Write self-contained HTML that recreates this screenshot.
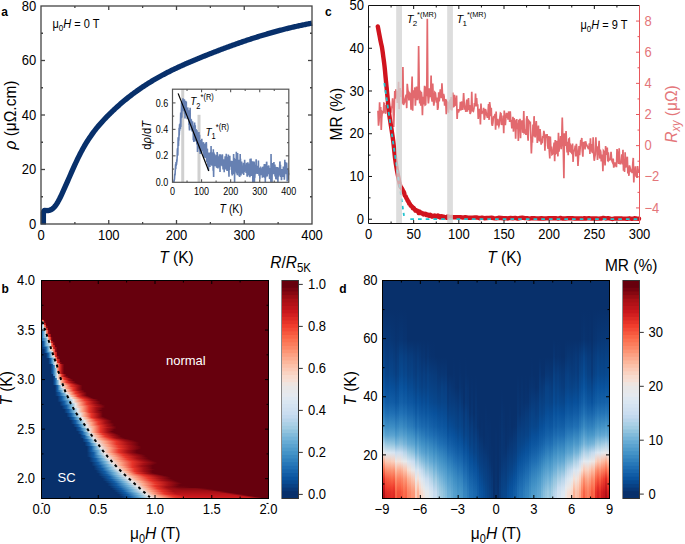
<!DOCTYPE html>
<html><head><meta charset="utf-8"><style>
html,body{margin:0;padding:0;background:#fff;}
svg{display:block;}
text{font-family:"Liberation Sans", sans-serif;}
</style></head><body>
<svg width="685" height="544" viewBox="0 0 685 544">
<rect width="685" height="544" fill="#fff"/>
<g>
<path d="M43.4,224.6 L43.4,212.8 L43.7,211.3 L44.5,210.5 L44.5,210.32 L45.39,210.44 L46.29,210.52 L47.18,210.55 L48.08,210.51 L48.97,210.39 L49.87,210.17 L50.76,209.83 L51.66,209.37 L52.55,208.76 L53.45,207.99 L54.34,207.05 L55.24,205.96 L56.13,204.71 L57.03,203.33 L57.92,201.82 L58.81,200.21 L59.71,198.5 L60.6,196.71 L61.5,194.84 L62.39,192.92 L63.29,190.95 L64.18,188.95 L65.08,186.93 L65.97,184.9 L66.87,182.86 L67.76,180.82 L68.66,178.77 L69.55,176.73 L70.44,174.69 L71.34,172.66 L72.23,170.64 L73.13,168.64 L74.02,166.65 L74.92,164.69 L75.81,162.75 L76.71,160.85 L77.6,158.97 L78.5,157.13 L79.39,155.33 L80.29,153.57 L81.18,151.86 L82.08,150.19 L82.97,148.56 L83.86,146.97 L84.76,145.42 L85.65,143.92 L86.55,142.45 L87.44,141.01 L88.34,139.62 L89.23,138.25 L90.13,136.92 L91.02,135.63 L91.92,134.36 L92.81,133.12 L93.71,131.91 L94.6,130.73 L95.49,129.58 L96.39,128.45 L97.28,127.35 L98.18,126.27 L99.07,125.21 L99.97,124.17 L100.86,123.15 L101.76,122.15 L102.65,121.16 L103.55,120.2 L104.44,119.24 L105.34,118.3 L106.23,117.38 L107.13,116.46 L108.02,115.56 L108.91,114.67 L109.81,113.78 L110.7,112.91 L111.6,112.04 L112.49,111.18 L113.39,110.33 L114.28,109.49 L115.18,108.66 L116.07,107.84 L116.97,107.02 L117.86,106.22 L118.76,105.42 L119.65,104.63 L120.55,103.85 L121.44,103.08 L122.33,102.32 L123.23,101.56 L124.12,100.81 L125.02,100.07 L125.91,99.34 L126.81,98.61 L127.7,97.9 L128.6,97.19 L129.49,96.49 L130.39,95.79 L131.28,95.1 L132.18,94.42 L133.07,93.75 L133.96,93.08 L134.86,92.43 L135.75,91.77 L136.65,91.13 L137.54,90.49 L138.44,89.86 L139.33,89.23 L140.23,88.61 L141.12,88 L142.02,87.4 L142.91,86.8 L143.81,86.2 L144.7,85.61 L145.6,85.03 L146.49,84.46 L147.38,83.89 L148.28,83.32 L149.17,82.77 L150.07,82.21 L150.96,81.67 L151.86,81.13 L152.75,80.59 L153.65,80.06 L154.54,79.53 L155.44,79.01 L156.33,78.5 L157.23,77.99 L158.12,77.48 L159.02,76.98 L159.91,76.48 L160.8,75.99 L161.7,75.51 L162.59,75.02 L163.49,74.55 L164.38,74.07 L165.28,73.6 L166.17,73.14 L167.07,72.68 L167.96,72.22 L168.86,71.77 L169.75,71.32 L170.65,70.87 L171.54,70.43 L172.43,69.99 L173.33,69.56 L174.22,69.13 L175.12,68.7 L176.01,68.27 L176.91,67.85 L177.8,67.43 L178.7,67.02 L179.59,66.61 L180.49,66.2 L181.38,65.79 L182.28,65.39 L183.17,64.99 L184.07,64.59 L184.96,64.19 L185.85,63.8 L186.75,63.41 L187.64,63.02 L188.54,62.63 L189.43,62.24 L190.33,61.86 L191.22,61.48 L192.12,61.1 L193.01,60.72 L193.91,60.35 L194.8,59.97 L195.7,59.6 L196.59,59.23 L197.48,58.86 L198.38,58.49 L199.27,58.12 L200.17,57.76 L201.06,57.39 L201.96,57.03 L202.85,56.66 L203.75,56.3 L204.64,55.94 L205.54,55.58 L206.43,55.22 L207.33,54.86 L208.22,54.51 L209.12,54.15 L210.01,53.8 L210.9,53.45 L211.8,53.09 L212.69,52.74 L213.59,52.39 L214.48,52.04 L215.38,51.7 L216.27,51.35 L217.17,51.01 L218.06,50.66 L218.96,50.32 L219.85,49.98 L220.75,49.64 L221.64,49.3 L222.54,48.96 L223.43,48.63 L224.32,48.29 L225.22,47.96 L226.11,47.63 L227.01,47.29 L227.9,46.96 L228.8,46.64 L229.69,46.31 L230.59,45.98 L231.48,45.66 L232.38,45.34 L233.27,45.02 L234.17,44.69 L235.06,44.38 L235.95,44.06 L236.85,43.74 L237.74,43.43 L238.64,43.12 L239.53,42.8 L240.43,42.49 L241.32,42.18 L242.22,41.88 L243.11,41.57 L244.01,41.27 L244.9,40.96 L245.8,40.66 L246.69,40.36 L247.59,40.06 L248.48,39.77 L249.37,39.47 L250.27,39.18 L251.16,38.89 L252.06,38.6 L252.95,38.31 L253.85,38.02 L254.74,37.73 L255.64,37.45 L256.53,37.17 L257.43,36.89 L258.32,36.61 L259.22,36.33 L260.11,36.05 L261.01,35.78 L261.9,35.51 L262.79,35.23 L263.69,34.96 L264.58,34.7 L265.48,34.43 L266.37,34.17 L267.27,33.9 L268.16,33.64 L269.06,33.38 L269.95,33.13 L270.85,32.87 L271.74,32.62 L272.64,32.37 L273.53,32.12 L274.42,31.87 L275.32,31.62 L276.21,31.38 L277.11,31.13 L278,30.89 L278.9,30.65 L279.79,30.41 L280.69,30.18 L281.58,29.94 L282.48,29.71 L283.37,29.48 L284.27,29.25 L285.16,29.03 L286.06,28.8 L286.95,28.58 L287.84,28.36 L288.74,28.14 L289.63,27.93 L290.53,27.71 L291.42,27.5 L292.32,27.29 L293.21,27.08 L294.11,26.87 L295,26.67 L295.9,26.46 L296.79,26.26 L297.69,26.07 L298.58,25.87 L299.47,25.67 L300.37,25.48 L301.26,25.29 L302.16,25.1 L303.05,24.92 L303.95,24.73 L304.84,24.55 L305.74,24.37 L306.63,24.19 L307.53,24.02 L308.42,23.84 L309.32,23.67 L310.21,23.5 L311.11,23.34 L312,23.17" fill="none" stroke="#08306b" stroke-width="5.3" stroke-linejoin="round" stroke-linecap="butt" />
</g>
<rect x="41.0" y="6.0" width="271.0" height="218.0" fill="none" stroke="#444" stroke-width="1.3"/>
<line x1="108.75" y1="224" x2="108.75" y2="220" stroke="#444" stroke-width="1.3" />
<line x1="108.75" y1="6" x2="108.75" y2="10" stroke="#444" stroke-width="1.3" />
<line x1="176.5" y1="224" x2="176.5" y2="220" stroke="#444" stroke-width="1.3" />
<line x1="176.5" y1="6" x2="176.5" y2="10" stroke="#444" stroke-width="1.3" />
<line x1="244.25" y1="224" x2="244.25" y2="220" stroke="#444" stroke-width="1.3" />
<line x1="244.25" y1="6" x2="244.25" y2="10" stroke="#444" stroke-width="1.3" />
<line x1="74.88" y1="224" x2="74.88" y2="222" stroke="#444" stroke-width="1.3" />
<line x1="74.88" y1="6" x2="74.88" y2="8" stroke="#444" stroke-width="1.3" />
<line x1="142.62" y1="224" x2="142.62" y2="222" stroke="#444" stroke-width="1.3" />
<line x1="142.62" y1="6" x2="142.62" y2="8" stroke="#444" stroke-width="1.3" />
<line x1="210.38" y1="224" x2="210.38" y2="222" stroke="#444" stroke-width="1.3" />
<line x1="210.38" y1="6" x2="210.38" y2="8" stroke="#444" stroke-width="1.3" />
<line x1="278.12" y1="224" x2="278.12" y2="222" stroke="#444" stroke-width="1.3" />
<line x1="278.12" y1="6" x2="278.12" y2="8" stroke="#444" stroke-width="1.3" />
<line x1="41" y1="169.5" x2="45" y2="169.5" stroke="#444" stroke-width="1.3" />
<line x1="312" y1="169.5" x2="308" y2="169.5" stroke="#444" stroke-width="1.3" />
<line x1="41" y1="115" x2="45" y2="115" stroke="#444" stroke-width="1.3" />
<line x1="312" y1="115" x2="308" y2="115" stroke="#444" stroke-width="1.3" />
<line x1="41" y1="60.5" x2="45" y2="60.5" stroke="#444" stroke-width="1.3" />
<line x1="312" y1="60.5" x2="308" y2="60.5" stroke="#444" stroke-width="1.3" />
<line x1="41" y1="196.75" x2="43" y2="196.75" stroke="#444" stroke-width="1.3" />
<line x1="312" y1="196.75" x2="310" y2="196.75" stroke="#444" stroke-width="1.3" />
<line x1="41" y1="142.25" x2="43" y2="142.25" stroke="#444" stroke-width="1.3" />
<line x1="312" y1="142.25" x2="310" y2="142.25" stroke="#444" stroke-width="1.3" />
<line x1="41" y1="87.75" x2="43" y2="87.75" stroke="#444" stroke-width="1.3" />
<line x1="312" y1="87.75" x2="310" y2="87.75" stroke="#444" stroke-width="1.3" />
<line x1="41" y1="33.25" x2="43" y2="33.25" stroke="#444" stroke-width="1.3" />
<line x1="312" y1="33.25" x2="310" y2="33.25" stroke="#444" stroke-width="1.3" />
<text transform="translate(41,239.7) scale(1,1.08)" font-size="13" text-anchor="middle" >0</text>
<text transform="translate(108.75,239.7) scale(1,1.08)" font-size="13" text-anchor="middle" >100</text>
<text transform="translate(176.5,239.7) scale(1,1.08)" font-size="13" text-anchor="middle" >200</text>
<text transform="translate(244.25,239.7) scale(1,1.08)" font-size="13" text-anchor="middle" >300</text>
<text transform="translate(312,239.7) scale(1,1.08)" font-size="13" text-anchor="middle" >400</text>
<text transform="translate(36.3,228.6) scale(1,1.08)" font-size="13" text-anchor="end" >0</text>
<text transform="translate(36.3,174.1) scale(1,1.08)" font-size="13" text-anchor="end" >20</text>
<text transform="translate(36.3,119.6) scale(1,1.08)" font-size="13" text-anchor="end" >40</text>
<text transform="translate(36.3,65.1) scale(1,1.08)" font-size="13" text-anchor="end" >60</text>
<text transform="translate(36.3,10.6) scale(1,1.08)" font-size="13" text-anchor="end" >80</text>
<text transform="translate(1.3,15.8) scale(1,1.08)" font-size="12" text-anchor="start" font-weight="bold">a</text>
<text transform="translate(176.5,262.6) scale(1,1.12)" font-size="15.5" text-anchor="middle" ><tspan font-style="italic">T</tspan> (K)</text>
<text transform="translate(15.8,115) rotate(-90) scale(1,1.12)" font-size="15.5" text-anchor="middle"><tspan font-style="italic">ρ</tspan> (μΩ.cm)</text>
<text transform="translate(52.5,28.1) scale(1,1.08)" font-size="11" text-anchor="start" >μ<tspan font-size="8" dy="3">0</tspan><tspan dy="-3" font-style="italic">H</tspan> = 0 T</text>
<rect x="181.22" y="89.2" width="3" height="93.1" fill="#d0d0d0"/>
<rect x="197.5" y="114.81" width="3" height="67.49" fill="#d0d0d0"/>
<path d="M173.66,182.3 L173.82,180.95 L173.98,180.88 L174.14,180.88 L174.3,179.33 L174.46,179.22 L174.62,176.75 L174.78,173.85 L174.94,175.39 L175.1,174.14 L175.26,170.58 L175.42,169.25 L175.58,164.38 L175.74,168.99 L175.9,165.44 L176.06,162.12 L176.22,165.8 L176.38,162.02 L176.54,164.59 L176.7,161.37 L176.86,161.58 L177.02,160.71 L177.18,156.83 L177.34,150.06 L177.5,148.79 L177.66,148.39 L177.82,155.64 L177.98,146.53 L178.14,137.37 L178.3,140.65 L178.46,146.07 L178.62,139.96 L178.78,140.66 L178.94,138.35 L179.1,127.8 L179.26,135.42 L179.42,130.3 L179.58,124.25 L179.74,130.67 L179.9,126.87 L180.06,124.39 L180.22,123.35 L180.38,129.03 L180.54,120.7 L180.7,112.44 L180.86,126.97 L181.02,112.56 L181.18,115.31 L181.34,118.19 L181.5,102.38 L181.66,107.89 L181.82,117.43 L181.98,109.1 L182.14,105.77 L182.3,109.49 L182.46,104.09 L182.62,110.39 L182.78,103.08 L182.94,98.2 L183.1,109.55 L183.26,104.06 L183.42,107.29 L183.58,103.56 L183.74,111.34 L183.9,108.2 L184.06,106.34 L184.22,100.39 L184.38,99.29 L184.54,113.72 L184.7,111.01 L184.86,103.08 L185.02,118.48 L185.18,110.05 L185.34,108.27 L185.5,100.84 L185.66,104.45 L185.82,110.7 L185.98,111.37 L186.14,111.13 L186.3,101.43 L186.46,113.02 L186.62,112.75 L186.78,109.43 L186.94,112.58 L187.1,113.45 L187.26,119.13 L187.42,113.26 L187.58,116.17 L187.74,107.4 L187.9,110.77 L188.06,115.08 L188.22,111.56 L188.37,117.76 L188.53,110.23 L188.69,116.7 L188.85,113.76 L189.01,124.9 L189.17,115.97 L189.33,128.02 L189.49,130.43 L189.65,120.96 L189.81,124.79 L189.97,119.13 L190.13,107.66 L190.29,125.67 L190.45,118.55 L190.61,120.59 L190.77,119.37 L190.93,123.63 L191.09,124.22 L191.25,119.45 L191.41,120.92 L191.57,130.23 L191.73,125.19 L191.89,124.96 L192.05,131.6 L192.21,124.48 L192.37,131.26 L192.53,121.19 L192.69,126.04 L192.85,127.02 L193.01,131.31 L193.17,129 L193.33,140.13 L193.49,133.26 L193.65,127.42 L193.81,142.05 L193.97,125.44 L194.13,140.65 L194.29,126.74 L194.45,134.07 L194.61,122.57 L194.77,131.49 L194.93,141.41 L195.09,125.88 L195.25,125.17 L195.41,134.18 L195.57,140.36 L195.73,135.5 L195.89,140.52 L196.05,129.01 L196.21,138.75 L196.37,139.5 L196.53,140.88 L196.69,140.27 L196.85,144.35 L197.01,130.2 L197.17,138.62 L197.33,132.57 L197.49,152.03 L197.65,142.76 L197.81,144.51 L197.97,142.69 L198.13,139.79 L198.29,142.33 L198.45,142.25 L198.61,148.77 L198.77,145.85 L198.93,132.13 L199.09,145.77 L199.25,148.31 L199.41,140.69 L199.57,134.83 L199.73,151.43 L199.89,144.56 L200.05,147.23 L200.21,153.93 L200.37,139.91 L200.53,144.49 L200.69,144.2 L200.85,149.15 L201.01,153.79 L201.17,148.43 L201.33,146.41 L201.49,152.18 L201.65,153.04 L201.81,138.71 L201.97,149.48 L202.13,145.17 L202.29,147.27 L202.45,150.99 L202.61,150.47 L202.77,144.24 L202.93,149.79 L203.09,149.18 L203.25,148.44 L203.41,142.15 L203.57,145.21 L203.73,154.75 L203.89,152.74 L204.05,157.61 L204.21,144.69 L204.37,144.85 L204.53,151.34 L204.69,147.74 L204.85,146.65 L205.01,146.58 L205.17,146.23 L205.33,154.12 L205.49,143.21 L205.65,158.04 L205.81,147.18 L205.97,149.4 L206.13,143.83 L206.29,141.96 L206.45,144.32 L206.6,159.15 L206.76,162.33 L206.92,148.51 L207.08,158.87 L207.24,153.43 L207.4,148.85 L207.56,162.8 L207.72,165.53 L207.88,152.53 L208.04,153.87 L208.2,155.63 L208.36,154.21 L208.52,170.6 L208.68,163.08 L208.84,155.79 L209,160.38 L209.16,164.23 L209.32,152.54 L209.48,162.27 L209.64,153.39 L209.8,161.21 L209.96,167.03 L210.12,161.56 L210.28,155.16 L210.44,155.31 L210.6,160.81 L210.76,154.73 L210.92,154.98 L211.08,145.93 L211.24,164.73 L211.4,152.45 L211.56,157.92 L211.72,157.66 L211.88,165.62 L212.04,160.39 L212.2,154 L212.36,158.63 L212.52,157.9 L212.68,160.06 L212.84,152.39 L213,158.91 L213.16,170.82 L213.32,149.28 L213.48,169.86 L213.64,176.91 L213.8,162.4 L213.96,152.52 L214.12,159.57 L214.28,166.19 L214.44,165.01 L214.6,153.97 L214.76,159.26 L214.92,159.91 L215.08,160.52 L215.24,160.1 L215.4,156.08 L215.56,157.5 L215.72,159.37 L215.88,166.14 L216.04,157.93 L216.2,164.36 L216.36,154.98 L216.52,167.61 L216.68,161.66 L216.84,161.04 L217,168.08 L217.16,152.03 L217.32,153.49 L217.48,163.73 L217.64,157.27 L217.8,159.42 L217.96,168.5 L218.12,160.24 L218.28,161.95 L218.44,161.26 L218.6,167.42 L218.76,163.25 L218.92,162.84 L219.08,155.75 L219.24,160.29 L219.4,162.14 L219.56,154.17 L219.72,165.16 L219.88,164.36 L220.04,171.89 L220.2,154.25 L220.36,157.48 L220.52,157.8 L220.68,159.17 L220.84,162.16 L221,161.68 L221.16,164.19 L221.32,164.01 L221.48,162.73 L221.64,155.18 L221.8,163.02 L221.96,163.52 L222.12,166.31 L222.28,155.04 L222.44,155.07 L222.6,160.85 L222.76,163.21 L222.92,165.44 L223.08,169.49 L223.24,164.12 L223.4,159.25 L223.56,165.88 L223.72,165.04 L223.88,165.04 L224.04,163.35 L224.2,172.24 L224.36,165.2 L224.52,168.45 L224.68,159.43 L224.83,168.07 L224.99,161.09 L225.15,156.19 L225.31,165.78 L225.47,167.3 L225.63,163.21 L225.79,164.25 L225.95,169.42 L226.11,161.9 L226.27,153.86 L226.43,165.69 L226.59,165.43 L226.75,169.83 L226.91,162.78 L227.07,170.93 L227.23,170.23 L227.39,157.89 L227.55,169.24 L227.71,158.98 L227.87,156.71 L228.03,163.3 L228.19,161.8 L228.35,154.59 L228.51,165.74 L228.67,167.82 L228.83,171.78 L228.99,176.62 L229.15,157.19 L229.31,159.91 L229.47,169.77 L229.63,169.35 L229.79,155.66 L229.95,163.47 L230.11,166.07 L230.27,163.93 L230.43,163.54 L230.59,166.64 L230.75,165.34 L230.91,164.09 L231.07,165.62 L231.23,162.62 L231.39,160.81 L231.55,162.22 L231.71,165.01 L231.87,174.02 L232.03,163.36 L232.19,175.41 L232.35,172.67 L232.51,161.05 L232.67,161.84 L232.83,166.28 L232.99,174.33 L233.15,167.47 L233.31,169.08 L233.47,162.34 L233.63,154.04 L233.79,164.56 L233.95,169.71 L234.11,171.75 L234.27,166.05 L234.43,166.7 L234.59,182.3 L234.75,165.25 L234.91,171.78 L235.07,160.2 L235.23,160.48 L235.39,160.4 L235.55,168.42 L235.71,163.38 L235.87,166.73 L236.03,168.07 L236.19,167.85 L236.35,151.75 L236.51,173.56 L236.67,162.13 L236.83,167.2 L236.99,165.15 L237.15,161.16 L237.31,175.18 L237.47,170.35 L237.63,152.94 L237.79,164.39 L237.95,168.35 L238.11,161.2 L238.27,165.41 L238.43,172.71 L238.59,171.29 L238.75,162.46 L238.91,164.23 L239.07,176.32 L239.23,159.78 L239.39,163.64 L239.55,159.86 L239.71,176.89 L239.87,168.28 L240.03,172.54 L240.19,153.9 L240.35,167.75 L240.51,158.8 L240.67,170.21 L240.83,166.11 L240.99,175.48 L241.15,168.95 L241.31,162.03 L241.47,173.43 L241.63,161.63 L241.79,165.39 L241.95,172.43 L242.11,169.69 L242.27,169.49 L242.43,167.42 L242.59,169.91 L242.75,171.41 L242.91,168.77 L243.07,172.45 L243.22,173.8 L243.38,167.52 L243.54,162.82 L243.7,175.07 L243.86,167.31 L244.02,170.64 L244.18,172.32 L244.34,163.06 L244.5,170.02 L244.66,159.83 L244.82,171.38 L244.98,165.49 L245.14,168.62 L245.3,171.3 L245.46,164.53 L245.62,168.3 L245.78,164.49 L245.94,167.79 L246.1,173.06 L246.26,168.1 L246.42,167.34 L246.58,162.78 L246.74,172.22 L246.9,167.86 L247.06,176.37 L247.22,164.4 L247.38,173.17 L247.54,176.84 L247.7,168.04 L247.86,162.18 L248.02,175.47 L248.18,173.28 L248.34,171.56 L248.5,173.52 L248.66,165.94 L248.82,171.93 L248.98,171.52 L249.14,163.62 L249.3,171.72 L249.46,165.76 L249.62,172.84 L249.78,175.77 L249.94,177.22 L250.1,158.64 L250.26,169.63 L250.42,166.81 L250.58,168.21 L250.74,167.27 L250.9,167.84 L251.06,158.52 L251.22,173.34 L251.38,175.96 L251.54,173.24 L251.7,174.87 L251.86,164.45 L252.02,164.1 L252.18,173.05 L252.34,175.22 L252.5,170.04 L252.66,161.31 L252.82,182.3 L252.98,165.68 L253.14,173.72 L253.3,163.14 L253.46,173.76 L253.62,169 L253.78,175.94 L253.94,173.31 L254.1,161.51 L254.26,164.35 L254.42,182.26 L254.58,172.84 L254.74,177.97 L254.9,175.9 L255.06,168.69 L255.22,168.98 L255.38,169.04 L255.54,174.19 L255.7,165.22 L255.86,168.82 L256.02,162.21 L256.18,159.35 L256.34,169.36 L256.5,170.75 L256.66,169.04 L256.82,171.76 L256.98,172.45 L257.14,169.06 L257.3,173.98 L257.46,165.78 L257.62,169.33 L257.78,167.59 L257.94,169.76 L258.1,172.49 L258.26,173.6 L258.42,160.56 L258.58,171.65 L258.74,167.78 L258.9,168.98 L259.06,175.74 L259.22,168.66 L259.38,175.67 L259.54,172.08 L259.7,170.5 L259.86,179.36 L260.02,168.63 L260.18,168.36 L260.34,169.92 L260.5,171.27 L260.66,171.05 L260.82,174.07 L260.98,170.59 L261.14,172.02 L261.3,168.86 L261.45,175.3 L261.61,168.2 L261.77,168.69 L261.93,170.13 L262.09,171.63 L262.25,166.75 L262.41,177.74 L262.57,167.27 L262.73,168.37 L262.89,168.2 L263.05,167.74 L263.21,172.89 L263.37,170.97 L263.53,166.57 L263.69,167.62 L263.85,168.75 L264.01,177.27 L264.17,167.18 L264.33,164.09 L264.49,164.91 L264.65,168.77 L264.81,177.62 L264.97,165.33 L265.13,170.73 L265.29,182.3 L265.45,168.21 L265.61,177.44 L265.77,176.5 L265.93,173.27 L266.09,163.92 L266.25,172.03 L266.41,168.9 L266.57,161.67 L266.73,162.46 L266.89,170.83 L267.05,171.54 L267.21,176.57 L267.37,173.82 L267.53,168.35 L267.69,168.52 L267.85,169.95 L268.01,165.64 L268.17,174.34 L268.33,170.22 L268.49,167.03 L268.65,167.78 L268.81,165.42 L268.97,168.75 L269.13,172.24 L269.29,168.98 L269.45,175.69 L269.61,178.84 L269.77,168 L269.93,171.14 L270.09,169.39 L270.25,179.23 L270.41,172.74 L270.57,173.92 L270.73,175.24 L270.89,182.06 L271.05,154.06 L271.21,166.72 L271.37,169.27 L271.53,174.09 L271.69,171.26 L271.85,167.52 L272.01,182.3 L272.17,171.88 L272.33,168.65 L272.49,168.01 L272.65,163.07 L272.81,165.86 L272.97,169.9 L273.13,169.98 L273.29,167.64 L273.45,174.13 L273.61,171.73 L273.77,167.15 L273.93,162.07 L274.09,172.39 L274.25,171.88 L274.41,170.71 L274.57,165.18 L274.73,171.88 L274.89,164.62 L275.05,176.49 L275.21,172.73 L275.37,172.81 L275.53,168.06 L275.69,166.84 L275.85,179.26 L276.01,176.41 L276.17,170.36 L276.33,175.22 L276.49,179.43 L276.65,167.05 L276.81,169.72 L276.97,169.75 L277.13,174.47 L277.29,167.21 L277.45,173.39 L277.61,166.95 L277.77,176.7 L277.93,182.13 L278.09,171.35 L278.25,175.77 L278.41,169.1 L278.57,171.1 L278.73,176.81 L278.89,171.98 L279.05,174.02 L279.21,167.89 L279.37,175.36 L279.53,174.42 L279.68,166.44 L279.84,161.47 L280,162.62 L280.16,171.95 L280.32,171.19 L280.48,164.84 L280.64,172.83 L280.8,176.92 L280.96,171.64 L281.12,170.02 L281.28,176.18 L281.44,180.1 L281.6,179.08 L281.76,168.95 L281.92,175.79 L282.08,172.82 L282.24,171.1 L282.4,169.14 L282.56,173.72 L282.72,169.7 L282.88,176.36 L283.04,173.81 L283.2,176.98 L283.36,166.62 L283.52,172.18 L283.68,175.58 L283.84,173.72 L284,173.08 L284.16,168.65 L284.32,179.65 L284.48,176.96 L284.64,173.79 L284.8,159.83 L284.96,167.38 L285.12,172.48 L285.28,168.53 L285.44,162.08 L285.6,173.03 L285.76,173.66 L285.92,166.1 L286.08,169.52 L286.24,168.66 L286.4,174.29 L286.56,162.66 L286.72,163.68 L286.88,169.13 L287.04,168.56 L287.2,181.49 L287.36,168.76 L287.52,172.72 L287.68,169.71 L287.84,168.52 L288,173.39 L288.16,179.81 L288.32,169.99 L288.48,175.27 L288.64,173.3" fill="none" stroke="#6680b2" stroke-width="1.6" stroke-linejoin="miter" stroke-linecap="butt" />
<line x1="178.1" y1="93.4" x2="208.8" y2="171" stroke="#000" stroke-width="1.2" />
<rect x="172.5" y="89.2" width="116.3" height="93.1" fill="none" stroke="#555" stroke-width="1.2"/>
<line x1="201.57" y1="182.3" x2="201.57" y2="179.3" stroke="#555" stroke-width="1.1" />
<line x1="201.57" y1="89.2" x2="201.57" y2="92.2" stroke="#555" stroke-width="1.1" />
<line x1="230.65" y1="182.3" x2="230.65" y2="179.3" stroke="#555" stroke-width="1.1" />
<line x1="230.65" y1="89.2" x2="230.65" y2="92.2" stroke="#555" stroke-width="1.1" />
<line x1="259.73" y1="182.3" x2="259.73" y2="179.3" stroke="#555" stroke-width="1.1" />
<line x1="259.73" y1="89.2" x2="259.73" y2="92.2" stroke="#555" stroke-width="1.1" />
<line x1="187.04" y1="182.3" x2="187.04" y2="180.6" stroke="#555" stroke-width="1.1" />
<line x1="187.04" y1="89.2" x2="187.04" y2="90.9" stroke="#555" stroke-width="1.1" />
<line x1="216.11" y1="182.3" x2="216.11" y2="180.6" stroke="#555" stroke-width="1.1" />
<line x1="216.11" y1="89.2" x2="216.11" y2="90.9" stroke="#555" stroke-width="1.1" />
<line x1="245.19" y1="182.3" x2="245.19" y2="180.6" stroke="#555" stroke-width="1.1" />
<line x1="245.19" y1="89.2" x2="245.19" y2="90.9" stroke="#555" stroke-width="1.1" />
<line x1="274.26" y1="182.3" x2="274.26" y2="180.6" stroke="#555" stroke-width="1.1" />
<line x1="274.26" y1="89.2" x2="274.26" y2="90.9" stroke="#555" stroke-width="1.1" />
<line x1="172.5" y1="155.83" x2="175.5" y2="155.83" stroke="#555" stroke-width="1.1" />
<line x1="288.8" y1="155.83" x2="285.8" y2="155.83" stroke="#555" stroke-width="1.1" />
<line x1="172.5" y1="129.37" x2="175.5" y2="129.37" stroke="#555" stroke-width="1.1" />
<line x1="288.8" y1="129.37" x2="285.8" y2="129.37" stroke="#555" stroke-width="1.1" />
<line x1="172.5" y1="102.9" x2="175.5" y2="102.9" stroke="#555" stroke-width="1.1" />
<line x1="288.8" y1="102.9" x2="285.8" y2="102.9" stroke="#555" stroke-width="1.1" />
<line x1="172.5" y1="169.07" x2="174.2" y2="169.07" stroke="#555" stroke-width="1.1" />
<line x1="288.8" y1="169.07" x2="287.1" y2="169.07" stroke="#555" stroke-width="1.1" />
<line x1="172.5" y1="142.6" x2="174.2" y2="142.6" stroke="#555" stroke-width="1.1" />
<line x1="288.8" y1="142.6" x2="287.1" y2="142.6" stroke="#555" stroke-width="1.1" />
<line x1="172.5" y1="116.13" x2="174.2" y2="116.13" stroke="#555" stroke-width="1.1" />
<line x1="288.8" y1="116.13" x2="287.1" y2="116.13" stroke="#555" stroke-width="1.1" />
<text transform="translate(172.5,195.4) scale(1,1.15)" font-size="9" text-anchor="middle" >0</text>
<text transform="translate(201.57,195.4) scale(1,1.15)" font-size="9" text-anchor="middle" >100</text>
<text transform="translate(230.65,195.4) scale(1,1.15)" font-size="9" text-anchor="middle" >200</text>
<text transform="translate(259.73,195.4) scale(1,1.15)" font-size="9" text-anchor="middle" >300</text>
<text transform="translate(288.8,195.4) scale(1,1.15)" font-size="9" text-anchor="middle" >400</text>
<text transform="translate(168.3,185.9) scale(1,1.15)" font-size="9" text-anchor="end" >0.0</text>
<text transform="translate(168.3,159.43) scale(1,1.15)" font-size="9" text-anchor="end" >0.2</text>
<text transform="translate(168.3,132.97) scale(1,1.15)" font-size="9" text-anchor="end" >0.4</text>
<text transform="translate(168.3,106.5) scale(1,1.15)" font-size="9" text-anchor="end" >0.6</text>
<text transform="translate(231.2,212.6) scale(1,1.15)" font-size="10.5" text-anchor="middle" ><tspan font-style="italic">T</tspan> (K)</text>
<text transform="translate(151.3,135.3) rotate(-90) scale(1,1.1)" font-size="11.2" text-anchor="middle">d<tspan font-style="italic">ρ</tspan>/d<tspan font-style="italic">T</tspan></text>
<text transform="translate(190.2,105.3) scale(1,1.15)" font-size="10" text-anchor="start" ><tspan font-style="italic">T</tspan><tspan font-size="7.5" dy="3">2</tspan><tspan font-size="7.5" dy="-8">*(R)</tspan></text>
<text transform="translate(205.5,136) scale(1,1.15)" font-size="10" text-anchor="start" ><tspan font-style="italic">T</tspan><tspan font-size="7.5" dy="3">1</tspan><tspan font-size="7.5" dy="-8">*(R)</tspan></text>
<path d="M377.99,110.81 L378.53,125.69 L379.07,120.66 L379.61,102.2 L380.15,117.74 L380.69,107.04 L381.24,130.07 L381.78,117.33 L382.32,112.08 L382.86,112.87 L383.4,112.31 L383.95,103.24 L384.49,103.58 L385.03,111.82 L385.57,113.76 L386.12,105.05 L386.66,107.37 L387.2,99.18 L387.74,87.5 L388.28,99.92 L388.82,105.79 L389.37,106.47 L389.91,110.99 L390.45,111.06 L390.99,111.46 L391.53,106.92 L392.08,106.86 L392.62,98.37 L393.16,106.1 L393.7,126.96 L394.25,111.28 L394.79,90.94 L395.33,98.63 L395.87,89.39 L396.41,96.11 L396.95,91.02 L397.5,102.97 L398.04,95.97 L398.58,81.8 L399.12,109.1 L399.66,92.05 L400.21,88.16 L400.75,96.87 L401.29,94.23 L401.83,90.39 L402.38,103.82 L402.92,67.01 L403.46,104.88 L404,103.27 L404.54,102.61 L405.08,99.14 L405.63,97.01 L406.17,94.77 L406.71,108.14 L407.25,83.72 L407.79,89.58 L408.34,92.62 L408.88,100.35 L409.42,98.38 L409.96,93.76 L410.5,94.69 L411.05,109.66 L411.59,92.23 L412.13,76.56 L412.67,110.72 L413.21,90.27 L413.76,94.71 L414.3,98.12 L414.84,87.41 L415.38,105.73 L415.92,96.01 L416.47,86.61 L417.01,98.5 L417.55,100.04 L418.09,96.16 L418.63,45.99 L419.18,85.76 L419.72,103.38 L420.26,90.52 L420.8,105.77 L421.34,91.89 L421.89,97.42 L422.43,115.22 L422.97,96.66 L423.51,104.35 L424.05,99.91 L424.6,85.67 L425.14,104.85 L425.68,104.49 L426.22,86.52 L426.76,96.11 L427.31,18.74 L427.85,94.71 L428.39,103.44 L428.93,97.61 L429.47,88.32 L430.02,90.44 L430.56,97.26 L431.1,75.57 L431.64,98.17 L432.18,101.58 L432.73,83.54 L433.27,97.45 L433.81,105.7 L434.35,101.03 L434.89,92.41 L435.44,93.07 L435.98,98.73 L436.52,102.6 L437.06,97.66 L437.6,109.93 L438.15,107.3 L438.69,92.22 L439.23,101.47 L439.77,95.36 L440.31,89.33 L440.86,93.5 L441.4,98.22 L441.94,83.22 L442.48,93.93 L443.02,101.48 L443.57,93.84 L444.11,96.36 L444.65,105.66 L445.19,99.15 L445.73,101.05 L446.28,114.22 L446.82,101.48 L447.36,102.46 L447.9,103.77 L448.44,112.65 L448.99,103.54 L449.53,101.46 L450.07,100.6 L450.61,109.65 L451.15,97.06 L451.7,110.51 L452.24,103.51 L452.78,92.63 L453.32,107.16 L453.86,105.99 L454.41,94.72 L454.95,105.36 L455.49,104.87 L456.03,101.28 L456.57,95.46 L457.12,119.02 L457.66,109.26 L458.2,110.69 L458.74,111.39 L459.28,109.87 L459.83,109.89 L460.37,101.83 L460.91,110.53 L461.45,103.4 L461.99,101.53 L462.54,109.8 L463.08,103.76 L463.62,93.08 L464.16,102.67 L464.7,109.69 L465.25,105.72 L465.79,111.97 L466.33,103.6 L466.87,99.5 L467.41,111.69 L467.96,107.46 L468.5,98.13 L469.04,109.8 L469.58,105.03 L470.12,113.85 L470.67,112.52 L471.21,110.47 L471.75,91.69 L472.29,109.95 L472.83,110.93 L473.38,111.31 L473.92,108.66 L474.46,103.04 L475,106.45 L475.54,93.5 L476.09,106.56 L476.63,98.06 L477.17,106.43 L477.71,104.31 L478.25,118.85 L478.8,109.82 L479.34,109.6 L479.88,111 L480.42,124.57 L480.96,103.5 L481.51,112.57 L482.05,113.12 L482.59,112.02 L483.13,112.02 L483.67,107.75 L484.22,119.7 L484.76,117.5 L485.3,109.13 L485.84,110.33 L486.38,114.18 L486.93,115.75 L487.47,117.76 L488.01,112.51 L488.55,104.02 L489.09,119.89 L489.64,101.99 L490.18,106.94 L490.72,116.21 L491.26,107.74 L491.8,123.68 L492.35,125.73 L492.89,122.82 L493.43,116.84 L493.97,116.44 L494.51,117.95 L495.06,113.85 L495.6,129.79 L496.14,111.64 L496.68,125.33 L497.22,120.3 L497.77,118.84 L498.31,124.33 L498.85,126.12 L499.39,123.84 L499.93,117.15 L500.48,113.22 L501.02,113.68 L501.56,124.88 L502.1,123.74 L502.64,124.92 L503.19,115.6 L503.73,133.31 L504.27,110.59 L504.81,122.85 L505.35,125.13 L505.9,117.45 L506.44,112.78 L506.98,117.8 L507.52,113.01 L508.06,119.63 L508.61,112.14 L509.15,112.22 L509.69,121.83 L510.23,111.24 L510.77,120.35 L511.32,121.09 L511.86,128.34 L512.4,124.09 L512.94,116.81 L513.48,131.64 L514.03,118.08 L514.57,120.37 L515.11,121.06 L515.65,138.65 L516.19,124.1 L516.74,119.02 L517.28,129.1 L517.82,123.33 L518.36,140.88 L518.9,119.76 L519.45,129.36 L519.99,118.86 L520.53,138.13 L521.07,120.61 L521.61,127.37 L522.16,120.3 L522.7,132.7 L523.24,130.79 L523.78,110.99 L524.32,132.77 L524.87,132.15 L525.41,129.39 L525.95,134.87 L526.49,119.61 L527.03,116.12 L527.58,133.39 L528.12,140.8 L528.66,120.74 L529.2,121.43 L529.74,123.69 L530.29,121.59 L530.83,136.03 L531.37,153.43 L531.91,140.33 L532.45,140.94 L533,124.5 L533.54,136.46 L534.08,116.15 L534.62,131.98 L535.16,137.36 L535.71,127.66 L536.25,121 L536.79,130.59 L537.33,142.9 L537.87,132.14 L538.42,125.48 L538.96,138.95 L539.5,141.29 L540.04,129.12 L540.58,135.65 L541.13,144.75 L541.67,140.08 L542.21,143.11 L542.75,136.13 L543.29,137.84 L543.84,130.94 L544.38,134.42 L544.92,150.75 L545.46,137.34 L546,134.3 L546.55,137.78 L547.09,134.15 L547.63,145.62 L548.17,148.83 L548.71,136.04 L549.26,150.42 L549.8,158.48 L550.34,136.56 L550.88,149.21 L551.42,146.68 L551.97,154.67 L552.51,154.23 L553.05,153.12 L553.59,147.61 L554.13,142.56 L554.68,161.32 L555.22,140.02 L555.76,153.64 L556.3,152.9 L556.84,140.75 L557.39,146.09 L557.93,156.4 L558.47,132.78 L559.01,151.81 L559.55,144.11 L560.1,144.51 L560.64,136.09 L561.18,149.25 L561.72,139.06 L562.26,117.61 L562.81,138.4 L563.35,151.68 L563.89,178.34 L564.43,133.18 L564.97,144.32 L565.52,145.84 L566.06,130.96 L566.6,144.21 L567.14,152.53 L567.68,141.74 L568.23,155.23 L568.77,139.11 L569.31,138.64 L569.85,151.17 L570.39,151.63 L570.94,146.06 L571.48,147.27 L572.02,154.29 L572.56,143.52 L573.1,161.88 L573.65,150.68 L574.19,150.54 L574.73,149.7 L575.27,145.7 L575.81,156.53 L576.36,143.87 L576.9,149.35 L577.44,152.74 L577.98,165.89 L578.52,156.66 L579.07,145.94 L579.61,155.31 L580.15,148.2 L580.69,141.3 L581.23,141.6 L581.78,137.99 L582.32,151.1 L582.86,156.72 L583.4,142.06 L583.94,147.13 L584.49,141.52 L585.03,149.41 L585.57,141.2 L586.11,143.75 L586.65,144.75 L587.2,146.33 L587.74,147.17 L588.28,148.42 L588.82,148.56 L589.36,143.3 L589.91,153.93 L590.45,138.37 L590.99,151.46 L591.53,144 L592.07,151.73 L592.62,153.01 L593.16,137.23 L593.7,153.82 L594.24,160.79 L594.78,157.03 L595.33,154.44 L595.87,137.3 L596.41,151.14 L596.95,146.22 L597.49,159.98 L598.04,150.68 L598.58,148.63 L599.12,140.9 L599.66,158.59 L600.2,149.67 L600.75,151.96 L601.29,161.43 L601.83,154.59 L602.37,156.49 L602.91,171.12 L603.46,150.85 L604,151.59 L604.54,158.78 L605.08,165.42 L605.62,146.01 L606.17,154.85 L606.71,149.92 L607.25,147.49 L607.79,161.36 L608.33,152.35 L608.88,160.07 L609.42,159.15 L609.96,159.65 L610.5,159.39 L611.04,151.91 L611.59,159.18 L612.13,161.46 L612.67,162.65 L613.21,158.66 L613.75,167.65 L614.3,165.24 L614.84,162.41 L615.38,166.35 L615.92,163.55 L616.46,167.16 L617.01,148.97 L617.55,153.84 L618.09,160.13 L618.63,163.79 L619.17,148.2 L619.72,161.42 L620.26,164.43 L620.8,161.83 L621.34,161.94 L621.88,154.34 L622.43,164.48 L622.97,149.77 L623.51,170.8 L624.05,159.89 L624.59,171.9 L625.14,152.29 L625.68,167.47 L626.22,165.69 L626.76,158.94 L627.3,156.76 L627.85,173.48 L628.39,168.24 L628.93,175.82 L629.47,165.39 L630.01,167.37 L630.56,169.42 L631.1,172.08 L631.64,170.3 L632.18,173.14 L632.72,164.51 L633.27,157.91 L633.81,182.37 L634.35,169.97 L634.89,172.4 L635.43,166.33 L635.98,176.76 L636.52,171.43 L637.06,178 L637.6,166.14 L638.14,170.64 L638.69,172.78 L639.23,169.36" fill="none" stroke="#e2696e" stroke-width="1.7" stroke-linejoin="miter" stroke-linecap="butt" />
<path d="M377.8,26.4 L378.14,28.2 L378.48,30 L378.82,31.8 L379.16,33.6 L379.5,35.39 L379.83,37.19 L380.17,38.99 L380.52,40.79 L380.9,42.59 L381.32,44.39 L381.73,46.19 L382.07,47.99 L382.35,49.79 L382.61,51.58 L382.85,53.38 L383.09,55.18 L383.32,56.98 L383.57,58.78 L383.82,60.58 L384.06,62.38 L384.29,64.18 L384.5,65.98 L384.69,67.77 L384.87,69.57 L385.05,71.37 L385.21,73.17 L385.38,74.97 L385.54,76.77 L385.72,78.57 L385.89,80.37 L386.07,82.17 L386.24,83.96 L386.42,85.76 L386.6,87.56 L386.77,89.36 L386.95,91.16 L387.12,92.96 L387.3,94.76 L387.48,96.56 L387.65,98.36 L387.82,100.15 L387.98,101.95 L388.14,103.75 L388.3,105.55 L388.47,107.35 L388.65,109.15 L388.83,110.95 L389.03,112.75 L389.24,114.54 L389.49,116.34 L389.76,118.14 L390.05,119.94 L390.34,121.74 L390.62,123.54 L390.9,125.34 L391.17,127.14 L391.45,128.94 L391.72,130.73 L391.99,132.53 L392.26,134.33 L392.52,136.13 L392.78,137.93 L393.03,139.73 L393.27,141.53 L393.48,143.33 L393.69,145.13 L393.88,146.92 L394.06,148.72 L394.24,150.52 L394.42,152.32 L394.61,154.12 L394.81,155.92 L395.01,157.72 L395.24,159.52 L395.49,161.32 L395.75,163.11 L396.03,164.91 L396.32,166.71 L396.62,168.51 L396.94,170.31 L397.28,172.11 L397.63,173.91 L398,175.71 L398.38,177.51 L398.74,179.3 L399.08,181.1 L399.45,182.9 L399.91,184.7 L400.5,186.5 L400.95,187.05 L401.41,187.69 L401.86,188.4 L402.32,189.11 L402.77,190.42 L403.22,191.51 L403.68,191.66 L404.13,192.87 L404.59,194.84 L405.04,195.84 L405.5,196.04 L405.95,196.92 L406.4,198.16 L406.86,199.17 L407.31,199.61 L407.77,201.04 L408.22,201.26 L408.67,202 L409.13,203.52 L409.58,203.52 L410.04,204.37 L410.49,205.23 L410.94,205.86 L411.4,205.93 L411.85,206.59 L412.31,206.74 L412.76,208.24 L413.22,208.25 L413.67,207.97 L414.12,208.82 L414.58,209.49 L415.03,209.75 L415.49,210.64 L415.94,210.8 L416.39,210.36 L416.85,210.85 L417.3,210.67 L417.76,211.57 L418.21,211.79 L418.67,213.06 L419.12,212.25 L419.57,211.59 L420.03,212.36 L420.48,212.88 L420.94,212.52 L421.39,212.86 L421.84,213.24 L422.3,213.69 L422.75,213.65 L423.21,213.51 L423.66,214.33 L424.11,213.94 L424.57,214.08 L425.02,213.85 L425.48,214.21 L425.93,214.9 L426.39,214.11 L426.84,214.83 L427.29,215.26 L427.75,214.92 L428.2,215.27 L428.66,214.82 L429.11,215.88 L429.56,215.89 L430.02,215.62 L430.47,214.91 L430.93,215.27 L431.38,216.15 L431.83,216.51 L432.29,216 L432.74,216.44 L433.2,215.76 L433.65,215.98 L434.11,216.11 L434.56,216.32 L435.01,215.59 L435.47,216.63 L435.92,216.82 L436.38,215.88 L436.83,215.83 L437.28,216.56 L437.74,216.19 L438.19,215.54 L438.65,216.85 L439.1,216.62 L439.56,216.4 L440.01,217.47 L440.46,216.71 L440.92,216.38 L441.37,216.75 L441.83,216.32 L442.28,216.46 L442.73,216.95 L443.19,216.59 L443.64,216.66 L444.1,217.53 L444.55,217.23 L445,217.23 L445.46,217.14 L445.91,217.14 L446.37,217.55 L446.82,216.98 L447.28,217.75 L447.73,216.64 L448.18,216.94 L448.64,216.51 L449.09,216.94 L449.55,217.3 L450,217.69 L451,216.89 L453.38,217.24 L455.76,217.19 L458.14,217.14 L460.52,217.08 L462.9,217.56 L465.28,217.09 L467.66,217.69 L470.04,217.71 L472.42,217.59 L474.8,217.55 L477.18,217.51 L479.56,218.22 L481.94,217.59 L484.32,218.2 L486.7,218.03 L489.08,217.86 L491.46,217.72 L493.84,218.18 L496.22,218.33 L498.59,217.82 L500.97,217.96 L503.35,218.25 L505.73,218.12 L508.11,218.47 L510.49,217.97 L512.87,218.21 L515.25,217.86 L517.63,218.55 L520.01,217.99 L522.39,217.71 L524.77,218.14 L527.15,218.15 L529.53,218.57 L531.91,218.13 L534.29,218.2 L536.67,218.33 L539.05,218.54 L541.43,218.22 L543.81,218.45 L546.19,218.35 L548.57,218.2 L550.95,218.28 L553.33,218.28 L555.71,218.1 L558.09,218.54 L560.47,218.02 L562.85,218.54 L565.23,218.51 L567.61,218.31 L569.99,218.18 L572.37,218.3 L574.75,218.45 L577.13,218.51 L579.51,218.42 L581.89,218.57 L584.27,218.27 L586.65,218.44 L589.03,218.08 L591.41,218.56 L593.78,218.44 L596.16,218.33 L598.54,218.66 L600.92,218.57 L603.3,217.87 L605.68,218.45 L608.06,218.16 L610.44,218.67 L612.82,218.96 L615.2,218.36 L617.58,218.48 L619.96,218.42 L622.34,218.55 L624.72,218.61 L627.1,218.74 L629.48,218.29 L631.86,218.81 L634.24,218.31 L636.62,218.55 L639,218.73" fill="none" stroke="#d0141e" stroke-width="4.4" stroke-linejoin="round" stroke-linecap="round" />
<line x1="384.3" y1="83" x2="404" y2="215.9" stroke="#22c3cf" stroke-width="1.8" stroke-dasharray="3.7 3.6"/>
<line x1="410.3" y1="219.2" x2="639" y2="219.2" stroke="#22c3cf" stroke-width="1.8" stroke-dasharray="3.7 4"/>
<rect x="396.2" y="5.5" width="5.8" height="218.0" fill="#d4d4d4" fill-opacity="0.78"/>
<rect x="447.2" y="5.5" width="5.7" height="218.0" fill="#d4d4d4" fill-opacity="0.78"/>
<line x1="368.5" y1="5.5" x2="639.5" y2="5.5" stroke="#111" stroke-width="1" />
<line x1="368.5" y1="5.5" x2="368.5" y2="223.5" stroke="#111" stroke-width="1" />
<line x1="368.5" y1="223.5" x2="639.5" y2="223.5" stroke="#111" stroke-width="1" />
<line x1="639.5" y1="5.5" x2="639.5" y2="223.5" stroke="#e8575c" stroke-width="1" />
<line x1="413.67" y1="223.5" x2="413.67" y2="220" stroke="#111" stroke-width="1" />
<line x1="413.67" y1="5.5" x2="413.67" y2="9" stroke="#111" stroke-width="1" />
<line x1="458.83" y1="223.5" x2="458.83" y2="220" stroke="#111" stroke-width="1" />
<line x1="458.83" y1="5.5" x2="458.83" y2="9" stroke="#111" stroke-width="1" />
<line x1="504" y1="223.5" x2="504" y2="220" stroke="#111" stroke-width="1" />
<line x1="504" y1="5.5" x2="504" y2="9" stroke="#111" stroke-width="1" />
<line x1="549.17" y1="223.5" x2="549.17" y2="220" stroke="#111" stroke-width="1" />
<line x1="549.17" y1="5.5" x2="549.17" y2="9" stroke="#111" stroke-width="1" />
<line x1="594.33" y1="223.5" x2="594.33" y2="220" stroke="#111" stroke-width="1" />
<line x1="594.33" y1="5.5" x2="594.33" y2="9" stroke="#111" stroke-width="1" />
<line x1="391.08" y1="223.5" x2="391.08" y2="221.5" stroke="#111" stroke-width="1" />
<line x1="391.08" y1="5.5" x2="391.08" y2="7.5" stroke="#111" stroke-width="1" />
<line x1="436.25" y1="223.5" x2="436.25" y2="221.5" stroke="#111" stroke-width="1" />
<line x1="436.25" y1="5.5" x2="436.25" y2="7.5" stroke="#111" stroke-width="1" />
<line x1="481.42" y1="223.5" x2="481.42" y2="221.5" stroke="#111" stroke-width="1" />
<line x1="481.42" y1="5.5" x2="481.42" y2="7.5" stroke="#111" stroke-width="1" />
<line x1="526.58" y1="223.5" x2="526.58" y2="221.5" stroke="#111" stroke-width="1" />
<line x1="526.58" y1="5.5" x2="526.58" y2="7.5" stroke="#111" stroke-width="1" />
<line x1="571.75" y1="223.5" x2="571.75" y2="221.5" stroke="#111" stroke-width="1" />
<line x1="571.75" y1="5.5" x2="571.75" y2="7.5" stroke="#111" stroke-width="1" />
<line x1="616.92" y1="223.5" x2="616.92" y2="221.5" stroke="#111" stroke-width="1" />
<line x1="616.92" y1="5.5" x2="616.92" y2="7.5" stroke="#111" stroke-width="1" />
<line x1="368.5" y1="219.23" x2="372" y2="219.23" stroke="#111" stroke-width="1" />
<line x1="368.5" y1="176.48" x2="372" y2="176.48" stroke="#111" stroke-width="1" />
<line x1="368.5" y1="133.74" x2="372" y2="133.74" stroke="#111" stroke-width="1" />
<line x1="368.5" y1="90.99" x2="372" y2="90.99" stroke="#111" stroke-width="1" />
<line x1="368.5" y1="48.25" x2="372" y2="48.25" stroke="#111" stroke-width="1" />
<line x1="368.5" y1="197.85" x2="370.5" y2="197.85" stroke="#111" stroke-width="1" />
<line x1="368.5" y1="155.11" x2="370.5" y2="155.11" stroke="#111" stroke-width="1" />
<line x1="368.5" y1="112.36" x2="370.5" y2="112.36" stroke="#111" stroke-width="1" />
<line x1="368.5" y1="69.62" x2="370.5" y2="69.62" stroke="#111" stroke-width="1" />
<line x1="368.5" y1="26.87" x2="370.5" y2="26.87" stroke="#111" stroke-width="1" />
<line x1="639.5" y1="207.93" x2="636" y2="207.93" stroke="#e8575c" stroke-width="1" />
<line x1="639.5" y1="176.79" x2="636" y2="176.79" stroke="#e8575c" stroke-width="1" />
<line x1="639.5" y1="145.64" x2="636" y2="145.64" stroke="#e8575c" stroke-width="1" />
<line x1="639.5" y1="114.5" x2="636" y2="114.5" stroke="#e8575c" stroke-width="1" />
<line x1="639.5" y1="83.36" x2="636" y2="83.36" stroke="#e8575c" stroke-width="1" />
<line x1="639.5" y1="52.21" x2="636" y2="52.21" stroke="#e8575c" stroke-width="1" />
<line x1="639.5" y1="21.07" x2="636" y2="21.07" stroke="#e8575c" stroke-width="1" />
<line x1="639.5" y1="192.36" x2="637.5" y2="192.36" stroke="#e8575c" stroke-width="1" />
<line x1="639.5" y1="161.21" x2="637.5" y2="161.21" stroke="#e8575c" stroke-width="1" />
<line x1="639.5" y1="130.07" x2="637.5" y2="130.07" stroke="#e8575c" stroke-width="1" />
<line x1="639.5" y1="98.93" x2="637.5" y2="98.93" stroke="#e8575c" stroke-width="1" />
<line x1="639.5" y1="67.79" x2="637.5" y2="67.79" stroke="#e8575c" stroke-width="1" />
<line x1="639.5" y1="36.64" x2="637.5" y2="36.64" stroke="#e8575c" stroke-width="1" />
<text transform="translate(368.5,239.2) scale(1,1.08)" font-size="13" text-anchor="middle" >0</text>
<text transform="translate(413.67,239.2) scale(1,1.08)" font-size="13" text-anchor="middle" >50</text>
<text transform="translate(458.83,239.2) scale(1,1.08)" font-size="13" text-anchor="middle" >100</text>
<text transform="translate(504,239.2) scale(1,1.08)" font-size="13" text-anchor="middle" >150</text>
<text transform="translate(549.17,239.2) scale(1,1.08)" font-size="13" text-anchor="middle" >200</text>
<text transform="translate(594.33,239.2) scale(1,1.08)" font-size="13" text-anchor="middle" >250</text>
<text transform="translate(639.5,239.2) scale(1,1.08)" font-size="13" text-anchor="middle" >300</text>
<text transform="translate(364,223.83) scale(1,1.08)" font-size="13" text-anchor="end" >0</text>
<text transform="translate(364,181.08) scale(1,1.08)" font-size="13" text-anchor="end" >10</text>
<text transform="translate(364,138.34) scale(1,1.08)" font-size="13" text-anchor="end" >20</text>
<text transform="translate(364,95.59) scale(1,1.08)" font-size="13" text-anchor="end" >30</text>
<text transform="translate(364,52.85) scale(1,1.08)" font-size="13" text-anchor="end" >40</text>
<text transform="translate(364,10.1) scale(1,1.08)" font-size="13" text-anchor="end" >50</text>
<text transform="translate(644.4,212.53) scale(1,1.08)" font-size="13" text-anchor="start" fill="#e4767a">−4</text>
<text transform="translate(644.4,181.39) scale(1,1.08)" font-size="13" text-anchor="start" fill="#e4767a">−2</text>
<text transform="translate(644.6,150.24) scale(1,1.08)" font-size="13" text-anchor="start" fill="#e4767a">0</text>
<text transform="translate(644.6,119.1) scale(1,1.08)" font-size="13" text-anchor="start" fill="#e4767a">2</text>
<text transform="translate(644.6,87.96) scale(1,1.08)" font-size="13" text-anchor="start" fill="#e4767a">4</text>
<text transform="translate(644.6,56.81) scale(1,1.08)" font-size="13" text-anchor="start" fill="#e4767a">6</text>
<text transform="translate(644.6,25.67) scale(1,1.08)" font-size="13" text-anchor="start" fill="#e4767a">8</text>
<text transform="translate(325,15.8) scale(1,1.08)" font-size="12" text-anchor="start" font-weight="bold">c</text>
<text transform="translate(504.5,262.8) scale(1,1.12)" font-size="15.5" text-anchor="middle" ><tspan font-style="italic">T</tspan> (K)</text>
<text transform="translate(341.6,114.2) rotate(-90) scale(1,1.12)" font-size="15.5" text-anchor="middle">MR (%)</text>
<text transform="translate(676.8,114) rotate(-90) scale(1,1.12)" font-size="15.5" text-anchor="middle" fill="#e4767a"><tspan font-style="italic">R</tspan><tspan font-style="italic" font-size="11" dy="3">xy</tspan><tspan dy="-3"> (μΩ)</tspan></text>
<text transform="translate(580.5,28.6) scale(1,1.08)" font-size="11" text-anchor="start" >μ<tspan font-size="8" dy="3">0</tspan><tspan dy="-3" font-style="italic">H</tspan> = 9 T</text>
<text x="406.8" y="22.9" font-size="11" text-anchor="start" ><tspan font-style="italic">T</tspan><tspan font-size="8" dy="3" dx="-0.9">2</tspan><tspan font-size="7.4" dy="-8.5">*(MR)</tspan></text>
<text x="456.4" y="22.9" font-size="11" text-anchor="start" ><tspan font-style="italic">T</tspan><tspan font-size="8" dy="3" dx="-0.7">1</tspan><tspan font-size="7.4" dy="-8.5">*(MR)</tspan></text>
<defs>
<linearGradient id="r0" gradientUnits="userSpaceOnUse" x1="41.5" y1="0" x2="268.5" y2="0"><stop offset="-0.16" stop-color="#08306b"/><stop offset="-0.16" stop-color="#08306b"/><stop offset="-0.15" stop-color="#115ca5"/><stop offset="-0.14" stop-color="#6caed6"/><stop offset="-0.14" stop-color="#e7e7e8"/><stop offset="-0.13" stop-color="#fca588"/><stop offset="-0.13" stop-color="#e83429"/><stop offset="-0.13" stop-color="#a30f15"/><stop offset="-0.13" stop-color="#67000d"/><stop offset="-0.12" stop-color="#67000d"/></linearGradient>
<linearGradient id="r1" gradientUnits="userSpaceOnUse" x1="41.5" y1="0" x2="268.5" y2="0"><stop offset="-0.16" stop-color="#08306b"/><stop offset="-0.15" stop-color="#08306b"/><stop offset="-0.15" stop-color="#115ca5"/><stop offset="-0.14" stop-color="#6caed6"/><stop offset="-0.13" stop-color="#e7e7e8"/><stop offset="-0.13" stop-color="#fca588"/><stop offset="-0.13" stop-color="#e83429"/><stop offset="-0.13" stop-color="#a30f15"/><stop offset="-0.12" stop-color="#67000d"/><stop offset="-0.12" stop-color="#67000d"/></linearGradient>
<linearGradient id="r2" gradientUnits="userSpaceOnUse" x1="41.5" y1="0" x2="268.5" y2="0"><stop offset="-0.16" stop-color="#08306b"/><stop offset="-0.15" stop-color="#08306b"/><stop offset="-0.14" stop-color="#115ca5"/><stop offset="-0.14" stop-color="#6caed6"/><stop offset="-0.13" stop-color="#e7e7e8"/><stop offset="-0.13" stop-color="#fca588"/><stop offset="-0.12" stop-color="#e83429"/><stop offset="-0.12" stop-color="#a30f15"/><stop offset="-0.12" stop-color="#67000d"/><stop offset="-0.12" stop-color="#67000d"/></linearGradient>
<linearGradient id="r3" gradientUnits="userSpaceOnUse" x1="41.5" y1="0" x2="268.5" y2="0"><stop offset="-0.15" stop-color="#08306b"/><stop offset="-0.15" stop-color="#08306b"/><stop offset="-0.14" stop-color="#115ca5"/><stop offset="-0.13" stop-color="#6caed6"/><stop offset="-0.13" stop-color="#e7e7e8"/><stop offset="-0.12" stop-color="#fca588"/><stop offset="-0.12" stop-color="#e83429"/><stop offset="-0.12" stop-color="#a30f15"/><stop offset="-0.12" stop-color="#67000d"/><stop offset="-0.11" stop-color="#67000d"/></linearGradient>
<linearGradient id="r4" gradientUnits="userSpaceOnUse" x1="41.5" y1="0" x2="268.5" y2="0"><stop offset="-0.15" stop-color="#08306b"/><stop offset="-0.14" stop-color="#08306b"/><stop offset="-0.14" stop-color="#115ca5"/><stop offset="-0.13" stop-color="#6caed6"/><stop offset="-0.12" stop-color="#e7e7e8"/><stop offset="-0.12" stop-color="#fca588"/><stop offset="-0.12" stop-color="#e83429"/><stop offset="-0.11" stop-color="#a30f15"/><stop offset="-0.11" stop-color="#67000d"/><stop offset="-0.11" stop-color="#67000d"/></linearGradient>
<linearGradient id="r5" gradientUnits="userSpaceOnUse" x1="41.5" y1="0" x2="268.5" y2="0"><stop offset="-0.15" stop-color="#08306b"/><stop offset="-0.14" stop-color="#08306b"/><stop offset="-0.13" stop-color="#115ca5"/><stop offset="-0.13" stop-color="#6caed6"/><stop offset="-0.12" stop-color="#e7e7e8"/><stop offset="-0.12" stop-color="#fca588"/><stop offset="-0.11" stop-color="#e83429"/><stop offset="-0.11" stop-color="#a30f15"/><stop offset="-0.11" stop-color="#67000d"/><stop offset="-0.1" stop-color="#67000d"/></linearGradient>
<linearGradient id="r6" gradientUnits="userSpaceOnUse" x1="41.5" y1="0" x2="268.5" y2="0"><stop offset="-0.14" stop-color="#08306b"/><stop offset="-0.14" stop-color="#08306b"/><stop offset="-0.13" stop-color="#115ca5"/><stop offset="-0.12" stop-color="#6caed6"/><stop offset="-0.12" stop-color="#e7e7e8"/><stop offset="-0.11" stop-color="#fca588"/><stop offset="-0.11" stop-color="#e83429"/><stop offset="-0.11" stop-color="#a30f15"/><stop offset="-0.1" stop-color="#67000d"/><stop offset="-0.1" stop-color="#67000d"/></linearGradient>
<linearGradient id="r7" gradientUnits="userSpaceOnUse" x1="41.5" y1="0" x2="268.5" y2="0"><stop offset="-0.14" stop-color="#08306b"/><stop offset="-0.13" stop-color="#08306b"/><stop offset="-0.13" stop-color="#115ca5"/><stop offset="-0.12" stop-color="#6caed6"/><stop offset="-0.11" stop-color="#e7e7e8"/><stop offset="-0.11" stop-color="#fca588"/><stop offset="-0.11" stop-color="#e83429"/><stop offset="-0.1" stop-color="#a30f15"/><stop offset="-0.1" stop-color="#67000d"/><stop offset="-0.09" stop-color="#67000d"/></linearGradient>
<linearGradient id="r8" gradientUnits="userSpaceOnUse" x1="41.5" y1="0" x2="268.5" y2="0"><stop offset="-0.14" stop-color="#08306b"/><stop offset="-0.13" stop-color="#08306b"/><stop offset="-0.12" stop-color="#115ca5"/><stop offset="-0.12" stop-color="#6caed6"/><stop offset="-0.11" stop-color="#e7e7e8"/><stop offset="-0.11" stop-color="#fca588"/><stop offset="-0.1" stop-color="#e83429"/><stop offset="-0.1" stop-color="#a30f15"/><stop offset="-0.09" stop-color="#67000d"/><stop offset="-0.09" stop-color="#67000d"/></linearGradient>
<linearGradient id="r9" gradientUnits="userSpaceOnUse" x1="41.5" y1="0" x2="268.5" y2="0"><stop offset="-0.13" stop-color="#08306b"/><stop offset="-0.13" stop-color="#08306b"/><stop offset="-0.12" stop-color="#115ca5"/><stop offset="-0.11" stop-color="#6caed6"/><stop offset="-0.11" stop-color="#e7e7e8"/><stop offset="-0.1" stop-color="#fca588"/><stop offset="-0.1" stop-color="#e83429"/><stop offset="-0.1" stop-color="#a30f15"/><stop offset="-0.09" stop-color="#67000d"/><stop offset="-0.09" stop-color="#67000d"/></linearGradient>
<linearGradient id="r10" gradientUnits="userSpaceOnUse" x1="41.5" y1="0" x2="268.5" y2="0"><stop offset="-0.13" stop-color="#08306b"/><stop offset="-0.12" stop-color="#08306b"/><stop offset="-0.11" stop-color="#115ca5"/><stop offset="-0.11" stop-color="#6caed6"/><stop offset="-0.1" stop-color="#e7e7e8"/><stop offset="-0.1" stop-color="#fca588"/><stop offset="-0.1" stop-color="#e83429"/><stop offset="-0.09" stop-color="#a30f15"/><stop offset="-0.09" stop-color="#67000d"/><stop offset="-0.08" stop-color="#67000d"/></linearGradient>
<linearGradient id="r11" gradientUnits="userSpaceOnUse" x1="41.5" y1="0" x2="268.5" y2="0"><stop offset="-0.12" stop-color="#08306b"/><stop offset="-0.12" stop-color="#08306b"/><stop offset="-0.11" stop-color="#115ca5"/><stop offset="-0.1" stop-color="#6caed6"/><stop offset="-0.1" stop-color="#e7e7e8"/><stop offset="-0.1" stop-color="#fca588"/><stop offset="-0.09" stop-color="#e83429"/><stop offset="-0.09" stop-color="#a30f15"/><stop offset="-0.09" stop-color="#67000d"/><stop offset="-0.08" stop-color="#67000d"/></linearGradient>
<linearGradient id="r12" gradientUnits="userSpaceOnUse" x1="41.5" y1="0" x2="268.5" y2="0"><stop offset="-0.12" stop-color="#08306b"/><stop offset="-0.11" stop-color="#08306b"/><stop offset="-0.11" stop-color="#115ca5"/><stop offset="-0.1" stop-color="#6caed6"/><stop offset="-0.09" stop-color="#e7e7e8"/><stop offset="-0.09" stop-color="#fca588"/><stop offset="-0.09" stop-color="#e83429"/><stop offset="-0.08" stop-color="#a30f15"/><stop offset="-0.08" stop-color="#67000d"/><stop offset="-0.08" stop-color="#67000d"/></linearGradient>
<linearGradient id="r13" gradientUnits="userSpaceOnUse" x1="41.5" y1="0" x2="268.5" y2="0"><stop offset="-0.12" stop-color="#08306b"/><stop offset="-0.11" stop-color="#08306b"/><stop offset="-0.1" stop-color="#115ca5"/><stop offset="-0.1" stop-color="#6caed6"/><stop offset="-0.09" stop-color="#e7e7e8"/><stop offset="-0.09" stop-color="#fca588"/><stop offset="-0.09" stop-color="#e83429"/><stop offset="-0.08" stop-color="#a30f15"/><stop offset="-0.08" stop-color="#67000d"/><stop offset="-0.07" stop-color="#67000d"/></linearGradient>
<linearGradient id="r14" gradientUnits="userSpaceOnUse" x1="41.5" y1="0" x2="268.5" y2="0"><stop offset="-0.11" stop-color="#08306b"/><stop offset="-0.11" stop-color="#08306b"/><stop offset="-0.1" stop-color="#115ca5"/><stop offset="-0.09" stop-color="#6caed6"/><stop offset="-0.09" stop-color="#e7e7e8"/><stop offset="-0.09" stop-color="#fca588"/><stop offset="-0.08" stop-color="#e83429"/><stop offset="-0.08" stop-color="#a30f15"/><stop offset="-0.07" stop-color="#67000d"/><stop offset="-0.07" stop-color="#67000d"/></linearGradient>
<linearGradient id="r15" gradientUnits="userSpaceOnUse" x1="41.5" y1="0" x2="268.5" y2="0"><stop offset="-0.11" stop-color="#08306b"/><stop offset="-0.1" stop-color="#08306b"/><stop offset="-0.1" stop-color="#115ca5"/><stop offset="-0.09" stop-color="#6caed6"/><stop offset="-0.08" stop-color="#e7e7e8"/><stop offset="-0.08" stop-color="#fca588"/><stop offset="-0.08" stop-color="#e83429"/><stop offset="-0.08" stop-color="#a30f15"/><stop offset="-0.07" stop-color="#67000d"/><stop offset="-0.07" stop-color="#67000d"/></linearGradient>
<linearGradient id="r16" gradientUnits="userSpaceOnUse" x1="41.5" y1="0" x2="268.5" y2="0"><stop offset="-0.11" stop-color="#08306b"/><stop offset="-0.1" stop-color="#08306b"/><stop offset="-0.09" stop-color="#115ca5"/><stop offset="-0.09" stop-color="#6caed6"/><stop offset="-0.08" stop-color="#e7e7e8"/><stop offset="-0.08" stop-color="#fca588"/><stop offset="-0.08" stop-color="#e83429"/><stop offset="-0.07" stop-color="#a30f15"/><stop offset="-0.07" stop-color="#67000d"/><stop offset="-0.07" stop-color="#67000d"/></linearGradient>
<linearGradient id="r17" gradientUnits="userSpaceOnUse" x1="41.5" y1="0" x2="268.5" y2="0"><stop offset="-0.1" stop-color="#08306b"/><stop offset="-0.1" stop-color="#08306b"/><stop offset="-0.09" stop-color="#115ca5"/><stop offset="-0.08" stop-color="#6caed6"/><stop offset="-0.08" stop-color="#e7e7e8"/><stop offset="-0.08" stop-color="#fca588"/><stop offset="-0.07" stop-color="#e83429"/><stop offset="-0.07" stop-color="#a30f15"/><stop offset="-0.07" stop-color="#67000d"/><stop offset="-0.06" stop-color="#67000d"/></linearGradient>
<linearGradient id="r18" gradientUnits="userSpaceOnUse" x1="41.5" y1="0" x2="268.5" y2="0"><stop offset="-0.1" stop-color="#08306b"/><stop offset="-0.09" stop-color="#08306b"/><stop offset="-0.09" stop-color="#115ca5"/><stop offset="-0.08" stop-color="#6caed6"/><stop offset="-0.07" stop-color="#e7e7e8"/><stop offset="-0.07" stop-color="#fca588"/><stop offset="-0.07" stop-color="#e83429"/><stop offset="-0.07" stop-color="#a30f15"/><stop offset="-0.06" stop-color="#67000d"/><stop offset="-0.06" stop-color="#67000d"/></linearGradient>
<linearGradient id="r19" gradientUnits="userSpaceOnUse" x1="41.5" y1="0" x2="268.5" y2="0"><stop offset="-0.1" stop-color="#08306b"/><stop offset="-0.09" stop-color="#08306b"/><stop offset="-0.08" stop-color="#115ca5"/><stop offset="-0.08" stop-color="#6caed6"/><stop offset="-0.07" stop-color="#e7e7e8"/><stop offset="-0.07" stop-color="#fca588"/><stop offset="-0.06" stop-color="#e83429"/><stop offset="-0.06" stop-color="#a30f15"/><stop offset="-0.06" stop-color="#67000d"/><stop offset="-0.06" stop-color="#67000d"/></linearGradient>
<linearGradient id="r20" gradientUnits="userSpaceOnUse" x1="41.5" y1="0" x2="268.5" y2="0"><stop offset="-0.09" stop-color="#08306b"/><stop offset="-0.09" stop-color="#08306b"/><stop offset="-0.08" stop-color="#115ca5"/><stop offset="-0.07" stop-color="#6caed6"/><stop offset="-0.07" stop-color="#e7e7e8"/><stop offset="-0.06" stop-color="#fca588"/><stop offset="-0.06" stop-color="#e83429"/><stop offset="-0.06" stop-color="#a30f15"/><stop offset="-0.05" stop-color="#67000d"/><stop offset="-0.05" stop-color="#67000d"/></linearGradient>
<linearGradient id="r21" gradientUnits="userSpaceOnUse" x1="41.5" y1="0" x2="268.5" y2="0"><stop offset="-0.09" stop-color="#08306b"/><stop offset="-0.08" stop-color="#08306b"/><stop offset="-0.08" stop-color="#115ca5"/><stop offset="-0.07" stop-color="#6caed6"/><stop offset="-0.06" stop-color="#e7e7e8"/><stop offset="-0.06" stop-color="#fca588"/><stop offset="-0.06" stop-color="#e83429"/><stop offset="-0.05" stop-color="#a30f15"/><stop offset="-0.05" stop-color="#67000d"/><stop offset="-0.05" stop-color="#67000d"/></linearGradient>
<linearGradient id="r22" gradientUnits="userSpaceOnUse" x1="41.5" y1="0" x2="268.5" y2="0"><stop offset="-0.09" stop-color="#08306b"/><stop offset="-0.08" stop-color="#08306b"/><stop offset="-0.07" stop-color="#115ca5"/><stop offset="-0.07" stop-color="#6caed6"/><stop offset="-0.06" stop-color="#e7e7e8"/><stop offset="-0.06" stop-color="#fca588"/><stop offset="-0.05" stop-color="#e83429"/><stop offset="-0.05" stop-color="#a30f15"/><stop offset="-0.05" stop-color="#67000d"/><stop offset="-0.04" stop-color="#67000d"/></linearGradient>
<linearGradient id="r23" gradientUnits="userSpaceOnUse" x1="41.5" y1="0" x2="268.5" y2="0"><stop offset="-0.08" stop-color="#08306b"/><stop offset="-0.08" stop-color="#08306b"/><stop offset="-0.07" stop-color="#115ca5"/><stop offset="-0.06" stop-color="#6caed6"/><stop offset="-0.06" stop-color="#e7e7e8"/><stop offset="-0.05" stop-color="#fca588"/><stop offset="-0.05" stop-color="#e83429"/><stop offset="-0.05" stop-color="#a30f15"/><stop offset="-0.04" stop-color="#67000d"/><stop offset="-0.04" stop-color="#67000d"/></linearGradient>
<linearGradient id="r24" gradientUnits="userSpaceOnUse" x1="41.5" y1="0" x2="268.5" y2="0"><stop offset="-0.08" stop-color="#08306b"/><stop offset="-0.07" stop-color="#08306b"/><stop offset="-0.07" stop-color="#115ca5"/><stop offset="-0.06" stop-color="#6caed6"/><stop offset="-0.05" stop-color="#e7e7e8"/><stop offset="-0.05" stop-color="#fca588"/><stop offset="-0.05" stop-color="#e83429"/><stop offset="-0.04" stop-color="#a30f15"/><stop offset="-0.04" stop-color="#67000d"/><stop offset="-0.04" stop-color="#67000d"/></linearGradient>
<linearGradient id="r25" gradientUnits="userSpaceOnUse" x1="41.5" y1="0" x2="268.5" y2="0"><stop offset="-0.08" stop-color="#08306b"/><stop offset="-0.07" stop-color="#08306b"/><stop offset="-0.06" stop-color="#115ca5"/><stop offset="-0.06" stop-color="#6caed6"/><stop offset="-0.05" stop-color="#e7e7e8"/><stop offset="-0.05" stop-color="#fca588"/><stop offset="-0.04" stop-color="#e83429"/><stop offset="-0.04" stop-color="#a30f15"/><stop offset="-0.04" stop-color="#67000d"/><stop offset="-0.03" stop-color="#67000d"/></linearGradient>
<linearGradient id="r26" gradientUnits="userSpaceOnUse" x1="41.5" y1="0" x2="268.5" y2="0"><stop offset="-0.07" stop-color="#08306b"/><stop offset="-0.07" stop-color="#08306b"/><stop offset="-0.06" stop-color="#115ca5"/><stop offset="-0.05" stop-color="#6caed6"/><stop offset="-0.05" stop-color="#e7e7e8"/><stop offset="-0.04" stop-color="#fca588"/><stop offset="-0.04" stop-color="#e83429"/><stop offset="-0.04" stop-color="#a30f15"/><stop offset="-0.03" stop-color="#67000d"/><stop offset="-0.03" stop-color="#67000d"/></linearGradient>
<linearGradient id="r27" gradientUnits="userSpaceOnUse" x1="41.5" y1="0" x2="268.5" y2="0"><stop offset="-0.07" stop-color="#08306b"/><stop offset="-0.06" stop-color="#08306b"/><stop offset="-0.06" stop-color="#115ca5"/><stop offset="-0.05" stop-color="#6caed6"/><stop offset="-0.04" stop-color="#e7e7e8"/><stop offset="-0.04" stop-color="#fca588"/><stop offset="-0.04" stop-color="#e83429"/><stop offset="-0.03" stop-color="#a30f15"/><stop offset="-0.03" stop-color="#67000d"/><stop offset="-0.02" stop-color="#67000d"/></linearGradient>
<linearGradient id="r28" gradientUnits="userSpaceOnUse" x1="41.5" y1="0" x2="268.5" y2="0"><stop offset="-0.06" stop-color="#08306b"/><stop offset="-0.06" stop-color="#08306b"/><stop offset="-0.05" stop-color="#115ca5"/><stop offset="-0.04" stop-color="#6caed6"/><stop offset="-0.04" stop-color="#e7e7e8"/><stop offset="-0.04" stop-color="#fca588"/><stop offset="-0.03" stop-color="#e83429"/><stop offset="-0.03" stop-color="#a30f15"/><stop offset="-0.02" stop-color="#67000d"/><stop offset="-0.02" stop-color="#67000d"/></linearGradient>
<linearGradient id="r29" gradientUnits="userSpaceOnUse" x1="41.5" y1="0" x2="268.5" y2="0"><stop offset="-0.06" stop-color="#08306b"/><stop offset="-0.05" stop-color="#08306b"/><stop offset="-0.05" stop-color="#115ca5"/><stop offset="-0.04" stop-color="#6caed6"/><stop offset="-0.03" stop-color="#e7e7e8"/><stop offset="-0.03" stop-color="#fca588"/><stop offset="-0.03" stop-color="#e83429"/><stop offset="-0.02" stop-color="#a30f15"/><stop offset="-0.02" stop-color="#67000d"/><stop offset="-0.02" stop-color="#67000d"/></linearGradient>
<linearGradient id="r30" gradientUnits="userSpaceOnUse" x1="41.5" y1="0" x2="268.5" y2="0"><stop offset="-0.06" stop-color="#08306b"/><stop offset="-0.05" stop-color="#08306b"/><stop offset="-0.04" stop-color="#115ca5"/><stop offset="-0.04" stop-color="#6caed6"/><stop offset="-0.03" stop-color="#e7e7e8"/><stop offset="-0.03" stop-color="#fca588"/><stop offset="-0.03" stop-color="#e83429"/><stop offset="-0.02" stop-color="#a30f15"/><stop offset="-0.02" stop-color="#67000d"/><stop offset="-0.01" stop-color="#67000d"/></linearGradient>
<linearGradient id="r31" gradientUnits="userSpaceOnUse" x1="41.5" y1="0" x2="268.5" y2="0"><stop offset="-0.05" stop-color="#08306b"/><stop offset="-0.05" stop-color="#08306b"/><stop offset="-0.04" stop-color="#115ca5"/><stop offset="-0.03" stop-color="#6caed6"/><stop offset="-0.03" stop-color="#e7e7e8"/><stop offset="-0.03" stop-color="#fca588"/><stop offset="-0.02" stop-color="#e83429"/><stop offset="-0.02" stop-color="#a30f15"/><stop offset="-0.02" stop-color="#67000d"/><stop offset="-0.01" stop-color="#67000d"/></linearGradient>
<linearGradient id="r32" gradientUnits="userSpaceOnUse" x1="41.5" y1="0" x2="268.5" y2="0"><stop offset="-0.05" stop-color="#08306b"/><stop offset="-0.04" stop-color="#08306b"/><stop offset="-0.04" stop-color="#115ca5"/><stop offset="-0.03" stop-color="#6caed6"/><stop offset="-0.02" stop-color="#e7e7e8"/><stop offset="-0.02" stop-color="#fca588"/><stop offset="-0.02" stop-color="#e83429"/><stop offset="-0.02" stop-color="#a30f15"/><stop offset="-0.01" stop-color="#67000d"/><stop offset="-0.01" stop-color="#67000d"/></linearGradient>
<linearGradient id="r33" gradientUnits="userSpaceOnUse" x1="41.5" y1="0" x2="268.5" y2="0"><stop offset="-0.05" stop-color="#08306b"/><stop offset="-0.04" stop-color="#08306b"/><stop offset="-0.03" stop-color="#115ca5"/><stop offset="-0.03" stop-color="#6caed6"/><stop offset="-0.02" stop-color="#e7e7e8"/><stop offset="-0.02" stop-color="#fca588"/><stop offset="-0.01" stop-color="#e83429"/><stop offset="-0.01" stop-color="#a30f15"/><stop offset="-0.01" stop-color="#67000d"/><stop offset="-0" stop-color="#67000d"/></linearGradient>
<linearGradient id="r34" gradientUnits="userSpaceOnUse" x1="41.5" y1="0" x2="268.5" y2="0"><stop offset="-0.04" stop-color="#08306b"/><stop offset="-0.04" stop-color="#08306b"/><stop offset="-0.03" stop-color="#115ca5"/><stop offset="-0.02" stop-color="#6caed6"/><stop offset="-0.02" stop-color="#e7e7e8"/><stop offset="-0.01" stop-color="#fca588"/><stop offset="-0.01" stop-color="#e83429"/><stop offset="-0.01" stop-color="#a30f15"/><stop offset="-0" stop-color="#67000d"/><stop offset="-0" stop-color="#67000d"/></linearGradient>
<linearGradient id="r35" gradientUnits="userSpaceOnUse" x1="41.5" y1="0" x2="268.5" y2="0"><stop offset="-0.04" stop-color="#08306b"/><stop offset="-0.03" stop-color="#08306b"/><stop offset="-0.03" stop-color="#115ca5"/><stop offset="-0.02" stop-color="#6caed6"/><stop offset="-0.01" stop-color="#e7e7e8"/><stop offset="-0.01" stop-color="#fca588"/><stop offset="-0.01" stop-color="#e83429"/><stop offset="-0" stop-color="#a30f15"/><stop offset="-0" stop-color="#67000d"/><stop offset="0" stop-color="#67000d"/></linearGradient>
<linearGradient id="r36" gradientUnits="userSpaceOnUse" x1="41.5" y1="0" x2="268.5" y2="0"><stop offset="-0.04" stop-color="#08306b"/><stop offset="-0.03" stop-color="#08306b"/><stop offset="-0.02" stop-color="#115ca5"/><stop offset="-0.02" stop-color="#6caed6"/><stop offset="-0.01" stop-color="#e7e7e8"/><stop offset="-0.01" stop-color="#fca588"/><stop offset="-0" stop-color="#e83429"/><stop offset="-0" stop-color="#a30f15"/><stop offset="0" stop-color="#67000d"/><stop offset="0" stop-color="#67000d"/></linearGradient>
<linearGradient id="r37" gradientUnits="userSpaceOnUse" x1="41.5" y1="0" x2="268.5" y2="0"><stop offset="-0.04" stop-color="#08306b"/><stop offset="-0.03" stop-color="#08306b"/><stop offset="-0.02" stop-color="#115ca5"/><stop offset="-0.01" stop-color="#6caed6"/><stop offset="-0.01" stop-color="#e7e7e8"/><stop offset="-0" stop-color="#fca588"/><stop offset="-0" stop-color="#e83429"/><stop offset="0" stop-color="#a30f15"/><stop offset="0" stop-color="#67000d"/><stop offset="0.01" stop-color="#67000d"/></linearGradient>
<linearGradient id="r38" gradientUnits="userSpaceOnUse" x1="41.5" y1="0" x2="268.5" y2="0"><stop offset="-0.04" stop-color="#08306b"/><stop offset="-0.03" stop-color="#08306b"/><stop offset="-0.02" stop-color="#115ca5"/><stop offset="-0.01" stop-color="#6caed6"/><stop offset="-0" stop-color="#e7e7e8"/><stop offset="-0" stop-color="#fca588"/><stop offset="0" stop-color="#e83429"/><stop offset="0" stop-color="#a30f15"/><stop offset="0.01" stop-color="#67000d"/><stop offset="0.01" stop-color="#67000d"/></linearGradient>
<linearGradient id="r39" gradientUnits="userSpaceOnUse" x1="41.5" y1="0" x2="268.5" y2="0"><stop offset="-0.03" stop-color="#08306b"/><stop offset="-0.03" stop-color="#08306b"/><stop offset="-0.02" stop-color="#115ca5"/><stop offset="-0.01" stop-color="#6caed6"/><stop offset="0" stop-color="#e7e7e8"/><stop offset="0" stop-color="#fca588"/><stop offset="0.01" stop-color="#e83429"/><stop offset="0.01" stop-color="#a30f15"/><stop offset="0.01" stop-color="#67000d"/><stop offset="0.01" stop-color="#67000d"/></linearGradient>
<linearGradient id="r40" gradientUnits="userSpaceOnUse" x1="41.5" y1="0" x2="268.5" y2="0"><stop offset="-0.03" stop-color="#08306b"/><stop offset="-0.02" stop-color="#08306b"/><stop offset="-0.01" stop-color="#115ca5"/><stop offset="-0.01" stop-color="#6caed6"/><stop offset="0" stop-color="#e7e7e8"/><stop offset="0.01" stop-color="#fca588"/><stop offset="0.01" stop-color="#e83429"/><stop offset="0.01" stop-color="#a30f15"/><stop offset="0.02" stop-color="#67000d"/><stop offset="0.02" stop-color="#67000d"/></linearGradient>
<linearGradient id="r41" gradientUnits="userSpaceOnUse" x1="41.5" y1="0" x2="268.5" y2="0"><stop offset="-0.03" stop-color="#08306b"/><stop offset="-0.02" stop-color="#08306b"/><stop offset="-0.01" stop-color="#115ca5"/><stop offset="-0" stop-color="#6caed6"/><stop offset="0.01" stop-color="#e7e7e8"/><stop offset="0.01" stop-color="#fca588"/><stop offset="0.01" stop-color="#e83429"/><stop offset="0.01" stop-color="#a30f15"/><stop offset="0.02" stop-color="#67000d"/><stop offset="0.02" stop-color="#67000d"/></linearGradient>
<linearGradient id="r42" gradientUnits="userSpaceOnUse" x1="41.5" y1="0" x2="268.5" y2="0"><stop offset="-0.03" stop-color="#08306b"/><stop offset="-0.02" stop-color="#08306b"/><stop offset="-0.01" stop-color="#115ca5"/><stop offset="-0" stop-color="#6caed6"/><stop offset="0.01" stop-color="#e7e7e8"/><stop offset="0.01" stop-color="#fca588"/><stop offset="0.01" stop-color="#e83429"/><stop offset="0.02" stop-color="#a30f15"/><stop offset="0.02" stop-color="#67000d"/><stop offset="0.03" stop-color="#67000d"/></linearGradient>
<linearGradient id="r43" gradientUnits="userSpaceOnUse" x1="41.5" y1="0" x2="268.5" y2="0"><stop offset="-0.03" stop-color="#08306b"/><stop offset="-0.02" stop-color="#08306b"/><stop offset="-0.01" stop-color="#115ca5"/><stop offset="-0" stop-color="#6caed6"/><stop offset="0.01" stop-color="#e7e7e8"/><stop offset="0.01" stop-color="#fca588"/><stop offset="0.01" stop-color="#e83429"/><stop offset="0.02" stop-color="#a30f15"/><stop offset="0.02" stop-color="#67000d"/><stop offset="0.03" stop-color="#67000d"/></linearGradient>
<linearGradient id="r44" gradientUnits="userSpaceOnUse" x1="41.5" y1="0" x2="268.5" y2="0"><stop offset="-0.03" stop-color="#08306b"/><stop offset="-0.02" stop-color="#08306b"/><stop offset="-0.01" stop-color="#115ca5"/><stop offset="-0" stop-color="#6caed6"/><stop offset="0.01" stop-color="#e7e7e8"/><stop offset="0.01" stop-color="#fca588"/><stop offset="0.02" stop-color="#e83429"/><stop offset="0.02" stop-color="#a30f15"/><stop offset="0.02" stop-color="#67000d"/><stop offset="0.03" stop-color="#67000d"/></linearGradient>
<linearGradient id="r45" gradientUnits="userSpaceOnUse" x1="41.5" y1="0" x2="268.5" y2="0"><stop offset="-0.03" stop-color="#08306b"/><stop offset="-0.02" stop-color="#08306b"/><stop offset="-0.01" stop-color="#115ca5"/><stop offset="-0" stop-color="#6caed6"/><stop offset="0.01" stop-color="#e7e7e8"/><stop offset="0.01" stop-color="#fca588"/><stop offset="0.02" stop-color="#e83429"/><stop offset="0.02" stop-color="#a30f15"/><stop offset="0.03" stop-color="#67000d"/><stop offset="0.03" stop-color="#67000d"/></linearGradient>
<linearGradient id="r46" gradientUnits="userSpaceOnUse" x1="41.5" y1="0" x2="268.5" y2="0"><stop offset="-0.04" stop-color="#08306b"/><stop offset="-0.02" stop-color="#08306b"/><stop offset="-0.01" stop-color="#115ca5"/><stop offset="0" stop-color="#6caed6"/><stop offset="0.01" stop-color="#e7e7e8"/><stop offset="0.02" stop-color="#fca588"/><stop offset="0.02" stop-color="#e83429"/><stop offset="0.02" stop-color="#a30f15"/><stop offset="0.03" stop-color="#67000d"/><stop offset="0.03" stop-color="#67000d"/></linearGradient>
<linearGradient id="r47" gradientUnits="userSpaceOnUse" x1="41.5" y1="0" x2="268.5" y2="0"><stop offset="-0.04" stop-color="#08306b"/><stop offset="-0.02" stop-color="#08306b"/><stop offset="-0.01" stop-color="#115ca5"/><stop offset="0" stop-color="#6caed6"/><stop offset="0.01" stop-color="#e7e7e8"/><stop offset="0.02" stop-color="#fca588"/><stop offset="0.02" stop-color="#e83429"/><stop offset="0.03" stop-color="#a30f15"/><stop offset="0.03" stop-color="#67000d"/><stop offset="0.04" stop-color="#67000d"/></linearGradient>
<linearGradient id="r48" gradientUnits="userSpaceOnUse" x1="41.5" y1="0" x2="268.5" y2="0"><stop offset="-0.04" stop-color="#08306b"/><stop offset="-0.02" stop-color="#08306b"/><stop offset="-0.01" stop-color="#115ca5"/><stop offset="0" stop-color="#6caed6"/><stop offset="0.02" stop-color="#e7e7e8"/><stop offset="0.02" stop-color="#fca588"/><stop offset="0.02" stop-color="#e83429"/><stop offset="0.03" stop-color="#a30f15"/><stop offset="0.03" stop-color="#67000d"/><stop offset="0.04" stop-color="#67000d"/></linearGradient>
<linearGradient id="r49" gradientUnits="userSpaceOnUse" x1="41.5" y1="0" x2="268.5" y2="0"><stop offset="-0.04" stop-color="#08306b"/><stop offset="-0.02" stop-color="#08306b"/><stop offset="-0.01" stop-color="#115ca5"/><stop offset="0" stop-color="#6caed6"/><stop offset="0.02" stop-color="#e7e7e8"/><stop offset="0.02" stop-color="#fca588"/><stop offset="0.03" stop-color="#e83429"/><stop offset="0.03" stop-color="#a30f15"/><stop offset="0.04" stop-color="#67000d"/><stop offset="0.04" stop-color="#67000d"/></linearGradient>
<linearGradient id="r50" gradientUnits="userSpaceOnUse" x1="41.5" y1="0" x2="268.5" y2="0"><stop offset="-0.03" stop-color="#08306b"/><stop offset="-0.02" stop-color="#08306b"/><stop offset="-0.01" stop-color="#115ca5"/><stop offset="0.01" stop-color="#6caed6"/><stop offset="0.02" stop-color="#e7e7e8"/><stop offset="0.02" stop-color="#fca588"/><stop offset="0.03" stop-color="#e83429"/><stop offset="0.03" stop-color="#a30f15"/><stop offset="0.04" stop-color="#67000d"/><stop offset="0.04" stop-color="#67000d"/></linearGradient>
<linearGradient id="r51" gradientUnits="userSpaceOnUse" x1="41.5" y1="0" x2="268.5" y2="0"><stop offset="-0.03" stop-color="#08306b"/><stop offset="-0.02" stop-color="#08306b"/><stop offset="-0.01" stop-color="#115ca5"/><stop offset="0.01" stop-color="#6caed6"/><stop offset="0.02" stop-color="#e7e7e8"/><stop offset="0.02" stop-color="#fca588"/><stop offset="0.03" stop-color="#e83429"/><stop offset="0.03" stop-color="#a30f15"/><stop offset="0.04" stop-color="#67000d"/><stop offset="0.04" stop-color="#67000d"/></linearGradient>
<linearGradient id="r52" gradientUnits="userSpaceOnUse" x1="41.5" y1="0" x2="268.5" y2="0"><stop offset="-0.03" stop-color="#08306b"/><stop offset="-0.02" stop-color="#08306b"/><stop offset="-0.01" stop-color="#115ca5"/><stop offset="0.01" stop-color="#6caed6"/><stop offset="0.02" stop-color="#e7e7e8"/><stop offset="0.02" stop-color="#fca588"/><stop offset="0.03" stop-color="#e83429"/><stop offset="0.03" stop-color="#a30f15"/><stop offset="0.04" stop-color="#67000d"/><stop offset="0.04" stop-color="#67000d"/></linearGradient>
<linearGradient id="r53" gradientUnits="userSpaceOnUse" x1="41.5" y1="0" x2="268.5" y2="0"><stop offset="-0.03" stop-color="#08306b"/><stop offset="-0.02" stop-color="#08306b"/><stop offset="-0" stop-color="#115ca5"/><stop offset="0.01" stop-color="#6caed6"/><stop offset="0.02" stop-color="#e7e7e8"/><stop offset="0.03" stop-color="#fca588"/><stop offset="0.03" stop-color="#e83429"/><stop offset="0.04" stop-color="#a30f15"/><stop offset="0.04" stop-color="#67000d"/><stop offset="0.05" stop-color="#67000d"/></linearGradient>
<linearGradient id="r54" gradientUnits="userSpaceOnUse" x1="41.5" y1="0" x2="268.5" y2="0"><stop offset="-0.03" stop-color="#08306b"/><stop offset="-0.02" stop-color="#08306b"/><stop offset="-0" stop-color="#115ca5"/><stop offset="0.01" stop-color="#6caed6"/><stop offset="0.02" stop-color="#e7e7e8"/><stop offset="0.03" stop-color="#fca588"/><stop offset="0.03" stop-color="#e83429"/><stop offset="0.04" stop-color="#a30f15"/><stop offset="0.04" stop-color="#67000d"/><stop offset="0.05" stop-color="#67000d"/></linearGradient>
<linearGradient id="r55" gradientUnits="userSpaceOnUse" x1="41.5" y1="0" x2="268.5" y2="0"><stop offset="-0.03" stop-color="#08306b"/><stop offset="-0.01" stop-color="#08306b"/><stop offset="-0" stop-color="#115ca5"/><stop offset="0.01" stop-color="#6caed6"/><stop offset="0.03" stop-color="#e7e7e8"/><stop offset="0.03" stop-color="#fca588"/><stop offset="0.03" stop-color="#e83429"/><stop offset="0.04" stop-color="#a30f15"/><stop offset="0.04" stop-color="#67000d"/><stop offset="0.05" stop-color="#67000d"/></linearGradient>
<linearGradient id="r56" gradientUnits="userSpaceOnUse" x1="41.5" y1="0" x2="268.5" y2="0"><stop offset="-0.03" stop-color="#08306b"/><stop offset="-0.01" stop-color="#08306b"/><stop offset="0" stop-color="#115ca5"/><stop offset="0.01" stop-color="#6caed6"/><stop offset="0.03" stop-color="#e7e7e8"/><stop offset="0.03" stop-color="#fca588"/><stop offset="0.04" stop-color="#e83429"/><stop offset="0.04" stop-color="#a30f15"/><stop offset="0.05" stop-color="#67000d"/><stop offset="0.05" stop-color="#67000d"/></linearGradient>
<linearGradient id="r57" gradientUnits="userSpaceOnUse" x1="41.5" y1="0" x2="268.5" y2="0"><stop offset="-0.02" stop-color="#08306b"/><stop offset="-0.01" stop-color="#08306b"/><stop offset="0" stop-color="#115ca5"/><stop offset="0.02" stop-color="#6caed6"/><stop offset="0.03" stop-color="#e7e7e8"/><stop offset="0.03" stop-color="#fca588"/><stop offset="0.04" stop-color="#e83429"/><stop offset="0.04" stop-color="#a30f15"/><stop offset="0.05" stop-color="#67000d"/><stop offset="0.05" stop-color="#67000d"/></linearGradient>
<linearGradient id="r58" gradientUnits="userSpaceOnUse" x1="41.5" y1="0" x2="268.5" y2="0"><stop offset="-0.02" stop-color="#08306b"/><stop offset="-0.01" stop-color="#08306b"/><stop offset="0" stop-color="#115ca5"/><stop offset="0.02" stop-color="#6caed6"/><stop offset="0.03" stop-color="#e7e7e8"/><stop offset="0.03" stop-color="#fca588"/><stop offset="0.04" stop-color="#e83429"/><stop offset="0.04" stop-color="#a30f15"/><stop offset="0.05" stop-color="#67000d"/><stop offset="0.05" stop-color="#67000d"/></linearGradient>
<linearGradient id="r59" gradientUnits="userSpaceOnUse" x1="41.5" y1="0" x2="268.5" y2="0"><stop offset="-0.02" stop-color="#08306b"/><stop offset="-0.01" stop-color="#08306b"/><stop offset="0" stop-color="#115ca5"/><stop offset="0.02" stop-color="#6caed6"/><stop offset="0.03" stop-color="#e7e7e8"/><stop offset="0.04" stop-color="#fca588"/><stop offset="0.04" stop-color="#e83429"/><stop offset="0.04" stop-color="#a30f15"/><stop offset="0.05" stop-color="#67000d"/><stop offset="0.06" stop-color="#67000d"/></linearGradient>
<linearGradient id="r60" gradientUnits="userSpaceOnUse" x1="41.5" y1="0" x2="268.5" y2="0"><stop offset="-0.02" stop-color="#08306b"/><stop offset="-0.01" stop-color="#08306b"/><stop offset="0.01" stop-color="#115ca5"/><stop offset="0.02" stop-color="#6caed6"/><stop offset="0.03" stop-color="#e7e7e8"/><stop offset="0.04" stop-color="#fca588"/><stop offset="0.04" stop-color="#e83429"/><stop offset="0.05" stop-color="#a30f15"/><stop offset="0.05" stop-color="#67000d"/><stop offset="0.06" stop-color="#67000d"/></linearGradient>
<linearGradient id="r61" gradientUnits="userSpaceOnUse" x1="41.5" y1="0" x2="268.5" y2="0"><stop offset="-0.02" stop-color="#08306b"/><stop offset="-0.01" stop-color="#08306b"/><stop offset="0.01" stop-color="#115ca5"/><stop offset="0.02" stop-color="#6caed6"/><stop offset="0.03" stop-color="#e7e7e8"/><stop offset="0.04" stop-color="#fca588"/><stop offset="0.04" stop-color="#e83429"/><stop offset="0.05" stop-color="#a30f15"/><stop offset="0.06" stop-color="#67000d"/><stop offset="0.06" stop-color="#67000d"/></linearGradient>
<linearGradient id="r62" gradientUnits="userSpaceOnUse" x1="41.5" y1="0" x2="268.5" y2="0"><stop offset="-0.02" stop-color="#08306b"/><stop offset="-0" stop-color="#08306b"/><stop offset="0.01" stop-color="#115ca5"/><stop offset="0.02" stop-color="#6caed6"/><stop offset="0.04" stop-color="#e7e7e8"/><stop offset="0.04" stop-color="#fca588"/><stop offset="0.05" stop-color="#e83429"/><stop offset="0.05" stop-color="#a30f15"/><stop offset="0.06" stop-color="#67000d"/><stop offset="0.07" stop-color="#67000d"/></linearGradient>
<linearGradient id="r63" gradientUnits="userSpaceOnUse" x1="41.5" y1="0" x2="268.5" y2="0"><stop offset="-0.02" stop-color="#08306b"/><stop offset="-0" stop-color="#08306b"/><stop offset="0.01" stop-color="#115ca5"/><stop offset="0.02" stop-color="#6caed6"/><stop offset="0.04" stop-color="#e7e7e8"/><stop offset="0.04" stop-color="#fca588"/><stop offset="0.05" stop-color="#e83429"/><stop offset="0.05" stop-color="#a30f15"/><stop offset="0.06" stop-color="#67000d"/><stop offset="0.07" stop-color="#67000d"/></linearGradient>
<linearGradient id="r64" gradientUnits="userSpaceOnUse" x1="41.5" y1="0" x2="268.5" y2="0"><stop offset="-0.01" stop-color="#08306b"/><stop offset="-0" stop-color="#08306b"/><stop offset="0.01" stop-color="#115ca5"/><stop offset="0.02" stop-color="#6caed6"/><stop offset="0.04" stop-color="#e7e7e8"/><stop offset="0.04" stop-color="#fca588"/><stop offset="0.05" stop-color="#e83429"/><stop offset="0.06" stop-color="#a30f15"/><stop offset="0.06" stop-color="#67000d"/><stop offset="0.07" stop-color="#67000d"/></linearGradient>
<linearGradient id="r65" gradientUnits="userSpaceOnUse" x1="41.5" y1="0" x2="268.5" y2="0"><stop offset="-0.01" stop-color="#08306b"/><stop offset="0" stop-color="#08306b"/><stop offset="0.01" stop-color="#115ca5"/><stop offset="0.03" stop-color="#6caed6"/><stop offset="0.04" stop-color="#e7e7e8"/><stop offset="0.04" stop-color="#fca588"/><stop offset="0.05" stop-color="#e83429"/><stop offset="0.06" stop-color="#a30f15"/><stop offset="0.06" stop-color="#67000d"/><stop offset="0.07" stop-color="#67000d"/></linearGradient>
<linearGradient id="r66" gradientUnits="userSpaceOnUse" x1="41.5" y1="0" x2="268.5" y2="0"><stop offset="-0.01" stop-color="#08306b"/><stop offset="0" stop-color="#08306b"/><stop offset="0.02" stop-color="#115ca5"/><stop offset="0.03" stop-color="#6caed6"/><stop offset="0.04" stop-color="#e7e7e8"/><stop offset="0.05" stop-color="#fca588"/><stop offset="0.05" stop-color="#e83429"/><stop offset="0.06" stop-color="#a30f15"/><stop offset="0.07" stop-color="#67000d"/><stop offset="0.07" stop-color="#67000d"/></linearGradient>
<linearGradient id="r67" gradientUnits="userSpaceOnUse" x1="41.5" y1="0" x2="268.5" y2="0"><stop offset="-0.01" stop-color="#08306b"/><stop offset="0" stop-color="#08306b"/><stop offset="0.02" stop-color="#115ca5"/><stop offset="0.03" stop-color="#6caed6"/><stop offset="0.04" stop-color="#e7e7e8"/><stop offset="0.05" stop-color="#fca588"/><stop offset="0.05" stop-color="#e83429"/><stop offset="0.06" stop-color="#a30f15"/><stop offset="0.07" stop-color="#67000d"/><stop offset="0.08" stop-color="#67000d"/></linearGradient>
<linearGradient id="r68" gradientUnits="userSpaceOnUse" x1="41.5" y1="0" x2="268.5" y2="0"><stop offset="-0.01" stop-color="#08306b"/><stop offset="0.01" stop-color="#08306b"/><stop offset="0.02" stop-color="#115ca5"/><stop offset="0.03" stop-color="#6caed6"/><stop offset="0.04" stop-color="#e7e7e8"/><stop offset="0.05" stop-color="#fca588"/><stop offset="0.06" stop-color="#e83429"/><stop offset="0.06" stop-color="#a30f15"/><stop offset="0.07" stop-color="#67000d"/><stop offset="0.08" stop-color="#67000d"/></linearGradient>
<linearGradient id="r69" gradientUnits="userSpaceOnUse" x1="41.5" y1="0" x2="268.5" y2="0"><stop offset="-0" stop-color="#08306b"/><stop offset="0.01" stop-color="#08306b"/><stop offset="0.02" stop-color="#115ca5"/><stop offset="0.03" stop-color="#6caed6"/><stop offset="0.04" stop-color="#e7e7e8"/><stop offset="0.05" stop-color="#fca588"/><stop offset="0.06" stop-color="#e83429"/><stop offset="0.06" stop-color="#a30f15"/><stop offset="0.07" stop-color="#67000d"/><stop offset="0.08" stop-color="#67000d"/></linearGradient>
<linearGradient id="r70" gradientUnits="userSpaceOnUse" x1="41.5" y1="0" x2="268.5" y2="0"><stop offset="-0" stop-color="#08306b"/><stop offset="0.01" stop-color="#08306b"/><stop offset="0.02" stop-color="#115ca5"/><stop offset="0.03" stop-color="#6caed6"/><stop offset="0.05" stop-color="#e7e7e8"/><stop offset="0.05" stop-color="#fca588"/><stop offset="0.06" stop-color="#e83429"/><stop offset="0.06" stop-color="#a30f15"/><stop offset="0.07" stop-color="#67000d"/><stop offset="0.08" stop-color="#67000d"/></linearGradient>
<linearGradient id="r71" gradientUnits="userSpaceOnUse" x1="41.5" y1="0" x2="268.5" y2="0"><stop offset="0" stop-color="#08306b"/><stop offset="0" stop-color="#08306b"/><stop offset="0.01" stop-color="#08306b"/><stop offset="0.02" stop-color="#115ca5"/><stop offset="0.04" stop-color="#6caed6"/><stop offset="0.05" stop-color="#e7e7e8"/><stop offset="0.05" stop-color="#fca588"/><stop offset="0.06" stop-color="#e83429"/><stop offset="0.07" stop-color="#a30f15"/><stop offset="0.07" stop-color="#67000d"/><stop offset="0.08" stop-color="#67000d"/></linearGradient>
<linearGradient id="r72" gradientUnits="userSpaceOnUse" x1="41.5" y1="0" x2="268.5" y2="0"><stop offset="0" stop-color="#08306b"/><stop offset="0" stop-color="#08306b"/><stop offset="0.02" stop-color="#08306b"/><stop offset="0.03" stop-color="#115ca5"/><stop offset="0.04" stop-color="#6caed6"/><stop offset="0.05" stop-color="#e7e7e8"/><stop offset="0.05" stop-color="#fca588"/><stop offset="0.06" stop-color="#e83429"/><stop offset="0.07" stop-color="#a30f15"/><stop offset="0.07" stop-color="#67000d"/><stop offset="0.08" stop-color="#67000d"/></linearGradient>
<linearGradient id="r73" gradientUnits="userSpaceOnUse" x1="41.5" y1="0" x2="268.5" y2="0"><stop offset="0" stop-color="#08306b"/><stop offset="0.01" stop-color="#08306b"/><stop offset="0.02" stop-color="#08306b"/><stop offset="0.03" stop-color="#115ca5"/><stop offset="0.04" stop-color="#6caed6"/><stop offset="0.05" stop-color="#e7e7e8"/><stop offset="0.05" stop-color="#fca588"/><stop offset="0.06" stop-color="#e83429"/><stop offset="0.07" stop-color="#a30f15"/><stop offset="0.07" stop-color="#67000d"/><stop offset="0.08" stop-color="#67000d"/></linearGradient>
<linearGradient id="r74" gradientUnits="userSpaceOnUse" x1="41.5" y1="0" x2="268.5" y2="0"><stop offset="0" stop-color="#08306b"/><stop offset="0.01" stop-color="#08306b"/><stop offset="0.02" stop-color="#08306b"/><stop offset="0.03" stop-color="#115ca5"/><stop offset="0.04" stop-color="#6caed6"/><stop offset="0.05" stop-color="#e7e7e8"/><stop offset="0.06" stop-color="#fca588"/><stop offset="0.06" stop-color="#e83429"/><stop offset="0.07" stop-color="#a30f15"/><stop offset="0.07" stop-color="#67000d"/><stop offset="0.08" stop-color="#67000d"/></linearGradient>
<linearGradient id="r75" gradientUnits="userSpaceOnUse" x1="41.5" y1="0" x2="268.5" y2="0"><stop offset="0" stop-color="#08306b"/><stop offset="0.01" stop-color="#08306b"/><stop offset="0.02" stop-color="#08306b"/><stop offset="0.03" stop-color="#115ca5"/><stop offset="0.04" stop-color="#6caed6"/><stop offset="0.05" stop-color="#e7e7e8"/><stop offset="0.06" stop-color="#fca588"/><stop offset="0.06" stop-color="#e83429"/><stop offset="0.07" stop-color="#a30f15"/><stop offset="0.08" stop-color="#67000d"/><stop offset="0.08" stop-color="#67000d"/></linearGradient>
<linearGradient id="r76" gradientUnits="userSpaceOnUse" x1="41.5" y1="0" x2="268.5" y2="0"><stop offset="0" stop-color="#08306b"/><stop offset="0.01" stop-color="#08306b"/><stop offset="0.02" stop-color="#08306b"/><stop offset="0.03" stop-color="#115ca5"/><stop offset="0.04" stop-color="#6caed6"/><stop offset="0.06" stop-color="#e7e7e8"/><stop offset="0.06" stop-color="#fca588"/><stop offset="0.07" stop-color="#e83429"/><stop offset="0.07" stop-color="#a30f15"/><stop offset="0.08" stop-color="#67000d"/><stop offset="0.09" stop-color="#67000d"/></linearGradient>
<linearGradient id="r77" gradientUnits="userSpaceOnUse" x1="41.5" y1="0" x2="268.5" y2="0"><stop offset="0" stop-color="#08306b"/><stop offset="0.02" stop-color="#08306b"/><stop offset="0.03" stop-color="#08306b"/><stop offset="0.04" stop-color="#115ca5"/><stop offset="0.05" stop-color="#6caed6"/><stop offset="0.06" stop-color="#e7e7e8"/><stop offset="0.06" stop-color="#fca588"/><stop offset="0.07" stop-color="#e83429"/><stop offset="0.07" stop-color="#a30f15"/><stop offset="0.08" stop-color="#67000d"/><stop offset="0.09" stop-color="#67000d"/></linearGradient>
<linearGradient id="r78" gradientUnits="userSpaceOnUse" x1="41.5" y1="0" x2="268.5" y2="0"><stop offset="0" stop-color="#08306b"/><stop offset="0.02" stop-color="#08306b"/><stop offset="0.03" stop-color="#08306b"/><stop offset="0.04" stop-color="#115ca5"/><stop offset="0.05" stop-color="#6caed6"/><stop offset="0.06" stop-color="#e7e7e8"/><stop offset="0.06" stop-color="#fca588"/><stop offset="0.07" stop-color="#e83429"/><stop offset="0.08" stop-color="#a30f15"/><stop offset="0.08" stop-color="#67000d"/><stop offset="0.09" stop-color="#67000d"/></linearGradient>
<linearGradient id="r79" gradientUnits="userSpaceOnUse" x1="41.5" y1="0" x2="268.5" y2="0"><stop offset="0" stop-color="#08306b"/><stop offset="0.02" stop-color="#08306b"/><stop offset="0.03" stop-color="#08306b"/><stop offset="0.04" stop-color="#115ca5"/><stop offset="0.05" stop-color="#6caed6"/><stop offset="0.06" stop-color="#e7e7e8"/><stop offset="0.06" stop-color="#fca588"/><stop offset="0.07" stop-color="#e83429"/><stop offset="0.08" stop-color="#a30f15"/><stop offset="0.08" stop-color="#67000d"/><stop offset="0.09" stop-color="#67000d"/></linearGradient>
<linearGradient id="r80" gradientUnits="userSpaceOnUse" x1="41.5" y1="0" x2="268.5" y2="0"><stop offset="0" stop-color="#08306b"/><stop offset="0.02" stop-color="#08306b"/><stop offset="0.03" stop-color="#08306b"/><stop offset="0.04" stop-color="#115ca5"/><stop offset="0.05" stop-color="#6caed6"/><stop offset="0.06" stop-color="#e7e7e8"/><stop offset="0.07" stop-color="#fca588"/><stop offset="0.07" stop-color="#e83429"/><stop offset="0.08" stop-color="#a30f15"/><stop offset="0.08" stop-color="#67000d"/><stop offset="0.09" stop-color="#67000d"/></linearGradient>
<linearGradient id="r81" gradientUnits="userSpaceOnUse" x1="41.5" y1="0" x2="268.5" y2="0"><stop offset="0" stop-color="#08306b"/><stop offset="0.02" stop-color="#08306b"/><stop offset="0.03" stop-color="#08306b"/><stop offset="0.04" stop-color="#115ca5"/><stop offset="0.05" stop-color="#6caed6"/><stop offset="0.06" stop-color="#e7e7e8"/><stop offset="0.07" stop-color="#fca588"/><stop offset="0.07" stop-color="#e83429"/><stop offset="0.08" stop-color="#a30f15"/><stop offset="0.09" stop-color="#67000d"/><stop offset="0.1" stop-color="#67000d"/></linearGradient>
<linearGradient id="r82" gradientUnits="userSpaceOnUse" x1="41.5" y1="0" x2="268.5" y2="0"><stop offset="0" stop-color="#08306b"/><stop offset="0.03" stop-color="#08306b"/><stop offset="0.03" stop-color="#08306b"/><stop offset="0.04" stop-color="#115ca5"/><stop offset="0.05" stop-color="#6caed6"/><stop offset="0.06" stop-color="#e7e7e8"/><stop offset="0.07" stop-color="#fca588"/><stop offset="0.08" stop-color="#e83429"/><stop offset="0.08" stop-color="#a30f15"/><stop offset="0.09" stop-color="#67000d"/><stop offset="0.1" stop-color="#67000d"/></linearGradient>
<linearGradient id="r83" gradientUnits="userSpaceOnUse" x1="41.5" y1="0" x2="268.5" y2="0"><stop offset="0" stop-color="#08306b"/><stop offset="0.03" stop-color="#08306b"/><stop offset="0.04" stop-color="#08306b"/><stop offset="0.05" stop-color="#115ca5"/><stop offset="0.05" stop-color="#6caed6"/><stop offset="0.06" stop-color="#e7e7e8"/><stop offset="0.07" stop-color="#fca588"/><stop offset="0.08" stop-color="#e83429"/><stop offset="0.09" stop-color="#a30f15"/><stop offset="0.1" stop-color="#67000d"/><stop offset="0.11" stop-color="#67000d"/></linearGradient>
<linearGradient id="r84" gradientUnits="userSpaceOnUse" x1="41.5" y1="0" x2="268.5" y2="0"><stop offset="0" stop-color="#08306b"/><stop offset="0.03" stop-color="#08306b"/><stop offset="0.04" stop-color="#08306b"/><stop offset="0.05" stop-color="#115ca5"/><stop offset="0.06" stop-color="#6caed6"/><stop offset="0.06" stop-color="#e7e7e8"/><stop offset="0.07" stop-color="#fca588"/><stop offset="0.08" stop-color="#e83429"/><stop offset="0.09" stop-color="#a30f15"/><stop offset="0.1" stop-color="#67000d"/><stop offset="0.11" stop-color="#67000d"/></linearGradient>
<linearGradient id="r85" gradientUnits="userSpaceOnUse" x1="41.5" y1="0" x2="268.5" y2="0"><stop offset="0" stop-color="#08306b"/><stop offset="0.03" stop-color="#08306b"/><stop offset="0.04" stop-color="#08306b"/><stop offset="0.05" stop-color="#115ca5"/><stop offset="0.06" stop-color="#6caed6"/><stop offset="0.06" stop-color="#e7e7e8"/><stop offset="0.07" stop-color="#fca588"/><stop offset="0.08" stop-color="#e83429"/><stop offset="0.09" stop-color="#a30f15"/><stop offset="0.1" stop-color="#67000d"/><stop offset="0.11" stop-color="#67000d"/></linearGradient>
<linearGradient id="r86" gradientUnits="userSpaceOnUse" x1="41.5" y1="0" x2="268.5" y2="0"><stop offset="0" stop-color="#08306b"/><stop offset="0.03" stop-color="#08306b"/><stop offset="0.04" stop-color="#08306b"/><stop offset="0.05" stop-color="#115ca5"/><stop offset="0.06" stop-color="#6caed6"/><stop offset="0.06" stop-color="#e7e7e8"/><stop offset="0.07" stop-color="#fca588"/><stop offset="0.08" stop-color="#e83429"/><stop offset="0.09" stop-color="#a30f15"/><stop offset="0.1" stop-color="#67000d"/><stop offset="0.11" stop-color="#67000d"/></linearGradient>
<linearGradient id="r87" gradientUnits="userSpaceOnUse" x1="41.5" y1="0" x2="268.5" y2="0"><stop offset="0" stop-color="#08306b"/><stop offset="0.03" stop-color="#08306b"/><stop offset="0.04" stop-color="#08306b"/><stop offset="0.05" stop-color="#115ca5"/><stop offset="0.06" stop-color="#6caed6"/><stop offset="0.07" stop-color="#e7e7e8"/><stop offset="0.07" stop-color="#fca588"/><stop offset="0.08" stop-color="#e83429"/><stop offset="0.09" stop-color="#a30f15"/><stop offset="0.1" stop-color="#67000d"/><stop offset="0.11" stop-color="#67000d"/></linearGradient>
<linearGradient id="r88" gradientUnits="userSpaceOnUse" x1="41.5" y1="0" x2="268.5" y2="0"><stop offset="0" stop-color="#08306b"/><stop offset="0.03" stop-color="#08306b"/><stop offset="0.04" stop-color="#08306b"/><stop offset="0.05" stop-color="#115ca5"/><stop offset="0.06" stop-color="#6caed6"/><stop offset="0.07" stop-color="#e7e7e8"/><stop offset="0.07" stop-color="#fca588"/><stop offset="0.08" stop-color="#e83429"/><stop offset="0.09" stop-color="#a30f15"/><stop offset="0.1" stop-color="#67000d"/><stop offset="0.11" stop-color="#67000d"/></linearGradient>
<linearGradient id="r89" gradientUnits="userSpaceOnUse" x1="41.5" y1="0" x2="268.5" y2="0"><stop offset="0" stop-color="#08306b"/><stop offset="0.03" stop-color="#08306b"/><stop offset="0.04" stop-color="#08306b"/><stop offset="0.05" stop-color="#115ca5"/><stop offset="0.06" stop-color="#6caed6"/><stop offset="0.07" stop-color="#e7e7e8"/><stop offset="0.07" stop-color="#fca588"/><stop offset="0.08" stop-color="#e83429"/><stop offset="0.09" stop-color="#a30f15"/><stop offset="0.1" stop-color="#67000d"/><stop offset="0.11" stop-color="#67000d"/></linearGradient>
<linearGradient id="r90" gradientUnits="userSpaceOnUse" x1="41.5" y1="0" x2="268.5" y2="0"><stop offset="0" stop-color="#08306b"/><stop offset="0.03" stop-color="#08306b"/><stop offset="0.04" stop-color="#08306b"/><stop offset="0.05" stop-color="#115ca5"/><stop offset="0.06" stop-color="#6caed6"/><stop offset="0.07" stop-color="#e7e7e8"/><stop offset="0.07" stop-color="#fca588"/><stop offset="0.08" stop-color="#e83429"/><stop offset="0.09" stop-color="#a30f15"/><stop offset="0.1" stop-color="#67000d"/><stop offset="0.11" stop-color="#67000d"/></linearGradient>
<linearGradient id="r91" gradientUnits="userSpaceOnUse" x1="41.5" y1="0" x2="268.5" y2="0"><stop offset="0" stop-color="#08306b"/><stop offset="0.04" stop-color="#08306b"/><stop offset="0.04" stop-color="#08306b"/><stop offset="0.05" stop-color="#115ca5"/><stop offset="0.06" stop-color="#6caed6"/><stop offset="0.07" stop-color="#e7e7e8"/><stop offset="0.07" stop-color="#fca588"/><stop offset="0.08" stop-color="#e83429"/><stop offset="0.09" stop-color="#a30f15"/><stop offset="0.1" stop-color="#67000d"/><stop offset="0.11" stop-color="#67000d"/></linearGradient>
<linearGradient id="r92" gradientUnits="userSpaceOnUse" x1="41.5" y1="0" x2="268.5" y2="0"><stop offset="0" stop-color="#08306b"/><stop offset="0.04" stop-color="#08306b"/><stop offset="0.04" stop-color="#08306b"/><stop offset="0.05" stop-color="#115ca5"/><stop offset="0.06" stop-color="#6caed6"/><stop offset="0.07" stop-color="#e7e7e8"/><stop offset="0.08" stop-color="#fca588"/><stop offset="0.08" stop-color="#e83429"/><stop offset="0.09" stop-color="#a30f15"/><stop offset="0.1" stop-color="#67000d"/><stop offset="0.12" stop-color="#67000d"/></linearGradient>
<linearGradient id="r93" gradientUnits="userSpaceOnUse" x1="41.5" y1="0" x2="268.5" y2="0"><stop offset="0" stop-color="#08306b"/><stop offset="0.04" stop-color="#08306b"/><stop offset="0.05" stop-color="#08306b"/><stop offset="0.05" stop-color="#115ca5"/><stop offset="0.06" stop-color="#6caed6"/><stop offset="0.07" stop-color="#e7e7e8"/><stop offset="0.08" stop-color="#fca588"/><stop offset="0.09" stop-color="#e83429"/><stop offset="0.1" stop-color="#a30f15"/><stop offset="0.11" stop-color="#67000d"/><stop offset="0.12" stop-color="#67000d"/></linearGradient>
<linearGradient id="r94" gradientUnits="userSpaceOnUse" x1="41.5" y1="0" x2="268.5" y2="0"><stop offset="0" stop-color="#08306b"/><stop offset="0.04" stop-color="#08306b"/><stop offset="0.05" stop-color="#08306b"/><stop offset="0.05" stop-color="#115ca5"/><stop offset="0.06" stop-color="#6caed6"/><stop offset="0.07" stop-color="#e7e7e8"/><stop offset="0.08" stop-color="#fca588"/><stop offset="0.09" stop-color="#e83429"/><stop offset="0.1" stop-color="#a30f15"/><stop offset="0.11" stop-color="#67000d"/><stop offset="0.12" stop-color="#67000d"/></linearGradient>
<linearGradient id="r95" gradientUnits="userSpaceOnUse" x1="41.5" y1="0" x2="268.5" y2="0"><stop offset="0" stop-color="#08306b"/><stop offset="0.04" stop-color="#08306b"/><stop offset="0.05" stop-color="#08306b"/><stop offset="0.06" stop-color="#115ca5"/><stop offset="0.06" stop-color="#6caed6"/><stop offset="0.07" stop-color="#e7e7e8"/><stop offset="0.08" stop-color="#fca588"/><stop offset="0.09" stop-color="#e83429"/><stop offset="0.1" stop-color="#a30f15"/><stop offset="0.12" stop-color="#67000d"/><stop offset="0.13" stop-color="#67000d"/></linearGradient>
<linearGradient id="r96" gradientUnits="userSpaceOnUse" x1="41.5" y1="0" x2="268.5" y2="0"><stop offset="0" stop-color="#08306b"/><stop offset="0.04" stop-color="#08306b"/><stop offset="0.05" stop-color="#08306b"/><stop offset="0.06" stop-color="#115ca5"/><stop offset="0.06" stop-color="#6caed6"/><stop offset="0.07" stop-color="#e7e7e8"/><stop offset="0.08" stop-color="#fca588"/><stop offset="0.1" stop-color="#e83429"/><stop offset="0.11" stop-color="#a30f15"/><stop offset="0.12" stop-color="#67000d"/><stop offset="0.14" stop-color="#67000d"/></linearGradient>
<linearGradient id="r97" gradientUnits="userSpaceOnUse" x1="41.5" y1="0" x2="268.5" y2="0"><stop offset="0" stop-color="#08306b"/><stop offset="0.04" stop-color="#08306b"/><stop offset="0.05" stop-color="#08306b"/><stop offset="0.06" stop-color="#115ca5"/><stop offset="0.07" stop-color="#6caed6"/><stop offset="0.07" stop-color="#e7e7e8"/><stop offset="0.08" stop-color="#fca588"/><stop offset="0.1" stop-color="#e83429"/><stop offset="0.12" stop-color="#a30f15"/><stop offset="0.13" stop-color="#67000d"/><stop offset="0.15" stop-color="#67000d"/></linearGradient>
<linearGradient id="r98" gradientUnits="userSpaceOnUse" x1="41.5" y1="0" x2="268.5" y2="0"><stop offset="0" stop-color="#08306b"/><stop offset="0.04" stop-color="#08306b"/><stop offset="0.05" stop-color="#08306b"/><stop offset="0.06" stop-color="#115ca5"/><stop offset="0.07" stop-color="#6caed6"/><stop offset="0.07" stop-color="#e7e7e8"/><stop offset="0.09" stop-color="#fca588"/><stop offset="0.1" stop-color="#e83429"/><stop offset="0.12" stop-color="#a30f15"/><stop offset="0.14" stop-color="#67000d"/><stop offset="0.16" stop-color="#67000d"/></linearGradient>
<linearGradient id="r99" gradientUnits="userSpaceOnUse" x1="41.5" y1="0" x2="268.5" y2="0"><stop offset="0" stop-color="#08306b"/><stop offset="0.04" stop-color="#08306b"/><stop offset="0.05" stop-color="#08306b"/><stop offset="0.06" stop-color="#115ca5"/><stop offset="0.07" stop-color="#6caed6"/><stop offset="0.08" stop-color="#e7e7e8"/><stop offset="0.09" stop-color="#fca588"/><stop offset="0.11" stop-color="#e83429"/><stop offset="0.12" stop-color="#a30f15"/><stop offset="0.14" stop-color="#67000d"/><stop offset="0.16" stop-color="#67000d"/></linearGradient>
<linearGradient id="r100" gradientUnits="userSpaceOnUse" x1="41.5" y1="0" x2="268.5" y2="0"><stop offset="0" stop-color="#08306b"/><stop offset="0.05" stop-color="#08306b"/><stop offset="0.05" stop-color="#08306b"/><stop offset="0.06" stop-color="#115ca5"/><stop offset="0.07" stop-color="#6caed6"/><stop offset="0.08" stop-color="#e7e7e8"/><stop offset="0.09" stop-color="#fca588"/><stop offset="0.11" stop-color="#e83429"/><stop offset="0.13" stop-color="#a30f15"/><stop offset="0.15" stop-color="#67000d"/><stop offset="0.17" stop-color="#67000d"/></linearGradient>
<linearGradient id="r101" gradientUnits="userSpaceOnUse" x1="41.5" y1="0" x2="268.5" y2="0"><stop offset="0" stop-color="#08306b"/><stop offset="0.05" stop-color="#08306b"/><stop offset="0.05" stop-color="#08306b"/><stop offset="0.06" stop-color="#115ca5"/><stop offset="0.07" stop-color="#6caed6"/><stop offset="0.08" stop-color="#e7e7e8"/><stop offset="0.09" stop-color="#fca588"/><stop offset="0.11" stop-color="#e83429"/><stop offset="0.13" stop-color="#a30f15"/><stop offset="0.15" stop-color="#67000d"/><stop offset="0.18" stop-color="#67000d"/></linearGradient>
<linearGradient id="r102" gradientUnits="userSpaceOnUse" x1="41.5" y1="0" x2="268.5" y2="0"><stop offset="0" stop-color="#08306b"/><stop offset="0.05" stop-color="#08306b"/><stop offset="0.05" stop-color="#08306b"/><stop offset="0.06" stop-color="#115ca5"/><stop offset="0.07" stop-color="#6caed6"/><stop offset="0.08" stop-color="#e7e7e8"/><stop offset="0.1" stop-color="#fca588"/><stop offset="0.12" stop-color="#e83429"/><stop offset="0.14" stop-color="#a30f15"/><stop offset="0.16" stop-color="#67000d"/><stop offset="0.19" stop-color="#67000d"/></linearGradient>
<linearGradient id="r103" gradientUnits="userSpaceOnUse" x1="41.5" y1="0" x2="268.5" y2="0"><stop offset="0" stop-color="#08306b"/><stop offset="0.05" stop-color="#08306b"/><stop offset="0.05" stop-color="#08306b"/><stop offset="0.06" stop-color="#115ca5"/><stop offset="0.07" stop-color="#6caed6"/><stop offset="0.08" stop-color="#e7e7e8"/><stop offset="0.1" stop-color="#fca588"/><stop offset="0.13" stop-color="#e83429"/><stop offset="0.15" stop-color="#a30f15"/><stop offset="0.17" stop-color="#67000d"/><stop offset="0.2" stop-color="#67000d"/></linearGradient>
<linearGradient id="r104" gradientUnits="userSpaceOnUse" x1="41.5" y1="0" x2="268.5" y2="0"><stop offset="0" stop-color="#08306b"/><stop offset="0.05" stop-color="#08306b"/><stop offset="0.06" stop-color="#08306b"/><stop offset="0.07" stop-color="#115ca5"/><stop offset="0.08" stop-color="#6caed6"/><stop offset="0.09" stop-color="#e7e7e8"/><stop offset="0.11" stop-color="#fca588"/><stop offset="0.13" stop-color="#e83429"/><stop offset="0.16" stop-color="#a30f15"/><stop offset="0.18" stop-color="#67000d"/><stop offset="0.21" stop-color="#67000d"/></linearGradient>
<linearGradient id="r105" gradientUnits="userSpaceOnUse" x1="41.5" y1="0" x2="268.5" y2="0"><stop offset="0" stop-color="#08306b"/><stop offset="0.04" stop-color="#08306b"/><stop offset="0.06" stop-color="#08306b"/><stop offset="0.07" stop-color="#115ca5"/><stop offset="0.08" stop-color="#6caed6"/><stop offset="0.09" stop-color="#e7e7e8"/><stop offset="0.11" stop-color="#fca588"/><stop offset="0.13" stop-color="#e83429"/><stop offset="0.16" stop-color="#a30f15"/><stop offset="0.18" stop-color="#67000d"/><stop offset="0.22" stop-color="#67000d"/></linearGradient>
<linearGradient id="r106" gradientUnits="userSpaceOnUse" x1="41.5" y1="0" x2="268.5" y2="0"><stop offset="0" stop-color="#08306b"/><stop offset="0.04" stop-color="#08306b"/><stop offset="0.06" stop-color="#08306b"/><stop offset="0.07" stop-color="#115ca5"/><stop offset="0.08" stop-color="#6caed6"/><stop offset="0.09" stop-color="#e7e7e8"/><stop offset="0.11" stop-color="#fca588"/><stop offset="0.14" stop-color="#e83429"/><stop offset="0.16" stop-color="#a30f15"/><stop offset="0.18" stop-color="#67000d"/><stop offset="0.21" stop-color="#67000d"/></linearGradient>
<linearGradient id="r107" gradientUnits="userSpaceOnUse" x1="41.5" y1="0" x2="268.5" y2="0"><stop offset="0" stop-color="#08306b"/><stop offset="0.04" stop-color="#08306b"/><stop offset="0.06" stop-color="#08306b"/><stop offset="0.07" stop-color="#115ca5"/><stop offset="0.08" stop-color="#6caed6"/><stop offset="0.1" stop-color="#e7e7e8"/><stop offset="0.11" stop-color="#fca588"/><stop offset="0.14" stop-color="#e83429"/><stop offset="0.16" stop-color="#a30f15"/><stop offset="0.18" stop-color="#67000d"/><stop offset="0.21" stop-color="#67000d"/></linearGradient>
<linearGradient id="r108" gradientUnits="userSpaceOnUse" x1="41.5" y1="0" x2="268.5" y2="0"><stop offset="0" stop-color="#08306b"/><stop offset="0.04" stop-color="#08306b"/><stop offset="0.06" stop-color="#08306b"/><stop offset="0.07" stop-color="#115ca5"/><stop offset="0.08" stop-color="#6caed6"/><stop offset="0.1" stop-color="#e7e7e8"/><stop offset="0.12" stop-color="#fca588"/><stop offset="0.14" stop-color="#e83429"/><stop offset="0.16" stop-color="#a30f15"/><stop offset="0.18" stop-color="#67000d"/><stop offset="0.21" stop-color="#67000d"/></linearGradient>
<linearGradient id="r109" gradientUnits="userSpaceOnUse" x1="41.5" y1="0" x2="268.5" y2="0"><stop offset="0" stop-color="#08306b"/><stop offset="0.04" stop-color="#08306b"/><stop offset="0.06" stop-color="#08306b"/><stop offset="0.07" stop-color="#115ca5"/><stop offset="0.09" stop-color="#6caed6"/><stop offset="0.1" stop-color="#e7e7e8"/><stop offset="0.12" stop-color="#fca588"/><stop offset="0.14" stop-color="#e83429"/><stop offset="0.16" stop-color="#a30f15"/><stop offset="0.19" stop-color="#67000d"/><stop offset="0.22" stop-color="#67000d"/></linearGradient>
<linearGradient id="r110" gradientUnits="userSpaceOnUse" x1="41.5" y1="0" x2="268.5" y2="0"><stop offset="0" stop-color="#08306b"/><stop offset="0.04" stop-color="#08306b"/><stop offset="0.06" stop-color="#08306b"/><stop offset="0.07" stop-color="#115ca5"/><stop offset="0.09" stop-color="#6caed6"/><stop offset="0.1" stop-color="#e7e7e8"/><stop offset="0.12" stop-color="#fca588"/><stop offset="0.15" stop-color="#e83429"/><stop offset="0.17" stop-color="#a30f15"/><stop offset="0.19" stop-color="#67000d"/><stop offset="0.22" stop-color="#67000d"/></linearGradient>
<linearGradient id="r111" gradientUnits="userSpaceOnUse" x1="41.5" y1="0" x2="268.5" y2="0"><stop offset="0" stop-color="#08306b"/><stop offset="0.04" stop-color="#08306b"/><stop offset="0.06" stop-color="#08306b"/><stop offset="0.08" stop-color="#115ca5"/><stop offset="0.09" stop-color="#6caed6"/><stop offset="0.11" stop-color="#e7e7e8"/><stop offset="0.13" stop-color="#fca588"/><stop offset="0.15" stop-color="#e83429"/><stop offset="0.17" stop-color="#a30f15"/><stop offset="0.2" stop-color="#67000d"/><stop offset="0.23" stop-color="#67000d"/></linearGradient>
<linearGradient id="r112" gradientUnits="userSpaceOnUse" x1="41.5" y1="0" x2="268.5" y2="0"><stop offset="0" stop-color="#08306b"/><stop offset="0.04" stop-color="#08306b"/><stop offset="0.06" stop-color="#08306b"/><stop offset="0.08" stop-color="#115ca5"/><stop offset="0.1" stop-color="#6caed6"/><stop offset="0.11" stop-color="#e7e7e8"/><stop offset="0.13" stop-color="#fca588"/><stop offset="0.15" stop-color="#e83429"/><stop offset="0.18" stop-color="#a30f15"/><stop offset="0.2" stop-color="#67000d"/><stop offset="0.23" stop-color="#67000d"/></linearGradient>
<linearGradient id="r113" gradientUnits="userSpaceOnUse" x1="41.5" y1="0" x2="268.5" y2="0"><stop offset="0" stop-color="#08306b"/><stop offset="0.05" stop-color="#08306b"/><stop offset="0.06" stop-color="#08306b"/><stop offset="0.08" stop-color="#115ca5"/><stop offset="0.1" stop-color="#6caed6"/><stop offset="0.12" stop-color="#e7e7e8"/><stop offset="0.13" stop-color="#fca588"/><stop offset="0.16" stop-color="#e83429"/><stop offset="0.18" stop-color="#a30f15"/><stop offset="0.2" stop-color="#67000d"/><stop offset="0.23" stop-color="#67000d"/></linearGradient>
<linearGradient id="r114" gradientUnits="userSpaceOnUse" x1="41.5" y1="0" x2="268.5" y2="0"><stop offset="0" stop-color="#08306b"/><stop offset="0.05" stop-color="#08306b"/><stop offset="0.06" stop-color="#08306b"/><stop offset="0.08" stop-color="#115ca5"/><stop offset="0.1" stop-color="#6caed6"/><stop offset="0.12" stop-color="#e7e7e8"/><stop offset="0.14" stop-color="#fca588"/><stop offset="0.16" stop-color="#e83429"/><stop offset="0.18" stop-color="#a30f15"/><stop offset="0.2" stop-color="#67000d"/><stop offset="0.23" stop-color="#67000d"/></linearGradient>
<linearGradient id="r115" gradientUnits="userSpaceOnUse" x1="41.5" y1="0" x2="268.5" y2="0"><stop offset="0" stop-color="#08306b"/><stop offset="0.05" stop-color="#08306b"/><stop offset="0.07" stop-color="#08306b"/><stop offset="0.09" stop-color="#115ca5"/><stop offset="0.11" stop-color="#6caed6"/><stop offset="0.12" stop-color="#e7e7e8"/><stop offset="0.14" stop-color="#fca588"/><stop offset="0.16" stop-color="#e83429"/><stop offset="0.19" stop-color="#a30f15"/><stop offset="0.21" stop-color="#67000d"/><stop offset="0.24" stop-color="#67000d"/></linearGradient>
<linearGradient id="r116" gradientUnits="userSpaceOnUse" x1="41.5" y1="0" x2="268.5" y2="0"><stop offset="0" stop-color="#08306b"/><stop offset="0.05" stop-color="#08306b"/><stop offset="0.07" stop-color="#08306b"/><stop offset="0.09" stop-color="#115ca5"/><stop offset="0.11" stop-color="#6caed6"/><stop offset="0.13" stop-color="#e7e7e8"/><stop offset="0.15" stop-color="#fca588"/><stop offset="0.17" stop-color="#e83429"/><stop offset="0.2" stop-color="#a30f15"/><stop offset="0.22" stop-color="#67000d"/><stop offset="0.25" stop-color="#67000d"/></linearGradient>
<linearGradient id="r117" gradientUnits="userSpaceOnUse" x1="41.5" y1="0" x2="268.5" y2="0"><stop offset="0" stop-color="#08306b"/><stop offset="0.05" stop-color="#08306b"/><stop offset="0.07" stop-color="#08306b"/><stop offset="0.09" stop-color="#115ca5"/><stop offset="0.11" stop-color="#6caed6"/><stop offset="0.13" stop-color="#e7e7e8"/><stop offset="0.15" stop-color="#fca588"/><stop offset="0.18" stop-color="#e83429"/><stop offset="0.21" stop-color="#a30f15"/><stop offset="0.23" stop-color="#67000d"/><stop offset="0.27" stop-color="#67000d"/></linearGradient>
<linearGradient id="r118" gradientUnits="userSpaceOnUse" x1="41.5" y1="0" x2="268.5" y2="0"><stop offset="0" stop-color="#08306b"/><stop offset="0.05" stop-color="#08306b"/><stop offset="0.07" stop-color="#08306b"/><stop offset="0.09" stop-color="#115ca5"/><stop offset="0.11" stop-color="#6caed6"/><stop offset="0.14" stop-color="#e7e7e8"/><stop offset="0.16" stop-color="#fca588"/><stop offset="0.19" stop-color="#e83429"/><stop offset="0.22" stop-color="#a30f15"/><stop offset="0.25" stop-color="#67000d"/><stop offset="0.28" stop-color="#67000d"/></linearGradient>
<linearGradient id="r119" gradientUnits="userSpaceOnUse" x1="41.5" y1="0" x2="268.5" y2="0"><stop offset="0" stop-color="#08306b"/><stop offset="0.05" stop-color="#08306b"/><stop offset="0.07" stop-color="#08306b"/><stop offset="0.09" stop-color="#115ca5"/><stop offset="0.12" stop-color="#6caed6"/><stop offset="0.14" stop-color="#e7e7e8"/><stop offset="0.16" stop-color="#fca588"/><stop offset="0.19" stop-color="#e83429"/><stop offset="0.22" stop-color="#a30f15"/><stop offset="0.25" stop-color="#67000d"/><stop offset="0.29" stop-color="#67000d"/></linearGradient>
<linearGradient id="r120" gradientUnits="userSpaceOnUse" x1="41.5" y1="0" x2="268.5" y2="0"><stop offset="0" stop-color="#08306b"/><stop offset="0.05" stop-color="#08306b"/><stop offset="0.07" stop-color="#08306b"/><stop offset="0.1" stop-color="#115ca5"/><stop offset="0.12" stop-color="#6caed6"/><stop offset="0.14" stop-color="#e7e7e8"/><stop offset="0.16" stop-color="#fca588"/><stop offset="0.2" stop-color="#e83429"/><stop offset="0.23" stop-color="#a30f15"/><stop offset="0.26" stop-color="#67000d"/><stop offset="0.29" stop-color="#67000d"/></linearGradient>
<linearGradient id="r121" gradientUnits="userSpaceOnUse" x1="41.5" y1="0" x2="268.5" y2="0"><stop offset="0" stop-color="#08306b"/><stop offset="0.05" stop-color="#08306b"/><stop offset="0.08" stop-color="#08306b"/><stop offset="0.1" stop-color="#115ca5"/><stop offset="0.12" stop-color="#6caed6"/><stop offset="0.14" stop-color="#e7e7e8"/><stop offset="0.17" stop-color="#fca588"/><stop offset="0.2" stop-color="#e83429"/><stop offset="0.23" stop-color="#a30f15"/><stop offset="0.26" stop-color="#67000d"/><stop offset="0.3" stop-color="#67000d"/></linearGradient>
<linearGradient id="r122" gradientUnits="userSpaceOnUse" x1="41.5" y1="0" x2="268.5" y2="0"><stop offset="0" stop-color="#08306b"/><stop offset="0.06" stop-color="#08306b"/><stop offset="0.08" stop-color="#08306b"/><stop offset="0.1" stop-color="#115ca5"/><stop offset="0.12" stop-color="#6caed6"/><stop offset="0.15" stop-color="#e7e7e8"/><stop offset="0.17" stop-color="#fca588"/><stop offset="0.2" stop-color="#e83429"/><stop offset="0.23" stop-color="#a30f15"/><stop offset="0.26" stop-color="#67000d"/><stop offset="0.3" stop-color="#67000d"/></linearGradient>
<linearGradient id="r123" gradientUnits="userSpaceOnUse" x1="41.5" y1="0" x2="268.5" y2="0"><stop offset="0" stop-color="#08306b"/><stop offset="0.06" stop-color="#08306b"/><stop offset="0.08" stop-color="#08306b"/><stop offset="0.1" stop-color="#115ca5"/><stop offset="0.13" stop-color="#6caed6"/><stop offset="0.15" stop-color="#e7e7e8"/><stop offset="0.17" stop-color="#fca588"/><stop offset="0.2" stop-color="#e83429"/><stop offset="0.24" stop-color="#a30f15"/><stop offset="0.27" stop-color="#67000d"/><stop offset="0.31" stop-color="#67000d"/></linearGradient>
<linearGradient id="r124" gradientUnits="userSpaceOnUse" x1="41.5" y1="0" x2="268.5" y2="0"><stop offset="0" stop-color="#08306b"/><stop offset="0.06" stop-color="#08306b"/><stop offset="0.08" stop-color="#08306b"/><stop offset="0.11" stop-color="#115ca5"/><stop offset="0.13" stop-color="#6caed6"/><stop offset="0.15" stop-color="#e7e7e8"/><stop offset="0.17" stop-color="#fca588"/><stop offset="0.21" stop-color="#e83429"/><stop offset="0.24" stop-color="#a30f15"/><stop offset="0.28" stop-color="#67000d"/><stop offset="0.32" stop-color="#67000d"/></linearGradient>
<linearGradient id="r125" gradientUnits="userSpaceOnUse" x1="41.5" y1="0" x2="268.5" y2="0"><stop offset="0" stop-color="#08306b"/><stop offset="0.07" stop-color="#08306b"/><stop offset="0.09" stop-color="#08306b"/><stop offset="0.11" stop-color="#115ca5"/><stop offset="0.13" stop-color="#6caed6"/><stop offset="0.15" stop-color="#e7e7e8"/><stop offset="0.18" stop-color="#fca588"/><stop offset="0.21" stop-color="#e83429"/><stop offset="0.25" stop-color="#a30f15"/><stop offset="0.28" stop-color="#67000d"/><stop offset="0.32" stop-color="#67000d"/></linearGradient>
<linearGradient id="r126" gradientUnits="userSpaceOnUse" x1="41.5" y1="0" x2="268.5" y2="0"><stop offset="0" stop-color="#08306b"/><stop offset="0.07" stop-color="#08306b"/><stop offset="0.09" stop-color="#08306b"/><stop offset="0.11" stop-color="#115ca5"/><stop offset="0.13" stop-color="#6caed6"/><stop offset="0.15" stop-color="#e7e7e8"/><stop offset="0.18" stop-color="#fca588"/><stop offset="0.21" stop-color="#e83429"/><stop offset="0.24" stop-color="#a30f15"/><stop offset="0.28" stop-color="#67000d"/><stop offset="0.32" stop-color="#67000d"/></linearGradient>
<linearGradient id="r127" gradientUnits="userSpaceOnUse" x1="41.5" y1="0" x2="268.5" y2="0"><stop offset="0" stop-color="#08306b"/><stop offset="0.07" stop-color="#08306b"/><stop offset="0.09" stop-color="#08306b"/><stop offset="0.11" stop-color="#115ca5"/><stop offset="0.13" stop-color="#6caed6"/><stop offset="0.16" stop-color="#e7e7e8"/><stop offset="0.18" stop-color="#fca588"/><stop offset="0.21" stop-color="#e83429"/><stop offset="0.24" stop-color="#a30f15"/><stop offset="0.27" stop-color="#67000d"/><stop offset="0.31" stop-color="#67000d"/></linearGradient>
<linearGradient id="r128" gradientUnits="userSpaceOnUse" x1="41.5" y1="0" x2="268.5" y2="0"><stop offset="0" stop-color="#08306b"/><stop offset="0.08" stop-color="#08306b"/><stop offset="0.1" stop-color="#08306b"/><stop offset="0.12" stop-color="#115ca5"/><stop offset="0.14" stop-color="#6caed6"/><stop offset="0.16" stop-color="#e7e7e8"/><stop offset="0.18" stop-color="#fca588"/><stop offset="0.21" stop-color="#e83429"/><stop offset="0.24" stop-color="#a30f15"/><stop offset="0.27" stop-color="#67000d"/><stop offset="0.3" stop-color="#67000d"/></linearGradient>
<linearGradient id="r129" gradientUnits="userSpaceOnUse" x1="41.5" y1="0" x2="268.5" y2="0"><stop offset="0" stop-color="#08306b"/><stop offset="0.08" stop-color="#08306b"/><stop offset="0.1" stop-color="#08306b"/><stop offset="0.12" stop-color="#115ca5"/><stop offset="0.14" stop-color="#6caed6"/><stop offset="0.16" stop-color="#e7e7e8"/><stop offset="0.18" stop-color="#fca588"/><stop offset="0.21" stop-color="#e83429"/><stop offset="0.24" stop-color="#a30f15"/><stop offset="0.26" stop-color="#67000d"/><stop offset="0.3" stop-color="#67000d"/></linearGradient>
<linearGradient id="r130" gradientUnits="userSpaceOnUse" x1="41.5" y1="0" x2="268.5" y2="0"><stop offset="0" stop-color="#08306b"/><stop offset="0.08" stop-color="#08306b"/><stop offset="0.1" stop-color="#08306b"/><stop offset="0.12" stop-color="#115ca5"/><stop offset="0.14" stop-color="#6caed6"/><stop offset="0.16" stop-color="#e7e7e8"/><stop offset="0.18" stop-color="#fca588"/><stop offset="0.21" stop-color="#e83429"/><stop offset="0.24" stop-color="#a30f15"/><stop offset="0.27" stop-color="#67000d"/><stop offset="0.3" stop-color="#67000d"/></linearGradient>
<linearGradient id="r131" gradientUnits="userSpaceOnUse" x1="41.5" y1="0" x2="268.5" y2="0"><stop offset="0" stop-color="#08306b"/><stop offset="0.09" stop-color="#08306b"/><stop offset="0.1" stop-color="#08306b"/><stop offset="0.12" stop-color="#115ca5"/><stop offset="0.14" stop-color="#6caed6"/><stop offset="0.16" stop-color="#e7e7e8"/><stop offset="0.19" stop-color="#fca588"/><stop offset="0.21" stop-color="#e83429"/><stop offset="0.24" stop-color="#a30f15"/><stop offset="0.27" stop-color="#67000d"/><stop offset="0.31" stop-color="#67000d"/></linearGradient>
<linearGradient id="r132" gradientUnits="userSpaceOnUse" x1="41.5" y1="0" x2="268.5" y2="0"><stop offset="0" stop-color="#08306b"/><stop offset="0.09" stop-color="#08306b"/><stop offset="0.11" stop-color="#08306b"/><stop offset="0.13" stop-color="#115ca5"/><stop offset="0.15" stop-color="#6caed6"/><stop offset="0.17" stop-color="#e7e7e8"/><stop offset="0.19" stop-color="#fca588"/><stop offset="0.22" stop-color="#e83429"/><stop offset="0.25" stop-color="#a30f15"/><stop offset="0.27" stop-color="#67000d"/><stop offset="0.31" stop-color="#67000d"/></linearGradient>
<linearGradient id="r133" gradientUnits="userSpaceOnUse" x1="41.5" y1="0" x2="268.5" y2="0"><stop offset="0" stop-color="#08306b"/><stop offset="0.09" stop-color="#08306b"/><stop offset="0.11" stop-color="#08306b"/><stop offset="0.13" stop-color="#115ca5"/><stop offset="0.15" stop-color="#6caed6"/><stop offset="0.17" stop-color="#e7e7e8"/><stop offset="0.19" stop-color="#fca588"/><stop offset="0.22" stop-color="#e83429"/><stop offset="0.25" stop-color="#a30f15"/><stop offset="0.27" stop-color="#67000d"/><stop offset="0.31" stop-color="#67000d"/></linearGradient>
<linearGradient id="r134" gradientUnits="userSpaceOnUse" x1="41.5" y1="0" x2="268.5" y2="0"><stop offset="0" stop-color="#08306b"/><stop offset="0.09" stop-color="#08306b"/><stop offset="0.11" stop-color="#08306b"/><stop offset="0.13" stop-color="#115ca5"/><stop offset="0.15" stop-color="#6caed6"/><stop offset="0.17" stop-color="#e7e7e8"/><stop offset="0.19" stop-color="#fca588"/><stop offset="0.22" stop-color="#e83429"/><stop offset="0.25" stop-color="#a30f15"/><stop offset="0.27" stop-color="#67000d"/><stop offset="0.31" stop-color="#67000d"/></linearGradient>
<linearGradient id="r135" gradientUnits="userSpaceOnUse" x1="41.5" y1="0" x2="268.5" y2="0"><stop offset="0" stop-color="#08306b"/><stop offset="0.09" stop-color="#08306b"/><stop offset="0.11" stop-color="#08306b"/><stop offset="0.13" stop-color="#115ca5"/><stop offset="0.15" stop-color="#6caed6"/><stop offset="0.17" stop-color="#e7e7e8"/><stop offset="0.19" stop-color="#fca588"/><stop offset="0.22" stop-color="#e83429"/><stop offset="0.25" stop-color="#a30f15"/><stop offset="0.27" stop-color="#67000d"/><stop offset="0.31" stop-color="#67000d"/></linearGradient>
<linearGradient id="r136" gradientUnits="userSpaceOnUse" x1="41.5" y1="0" x2="268.5" y2="0"><stop offset="0" stop-color="#08306b"/><stop offset="0.1" stop-color="#08306b"/><stop offset="0.12" stop-color="#08306b"/><stop offset="0.14" stop-color="#115ca5"/><stop offset="0.16" stop-color="#6caed6"/><stop offset="0.18" stop-color="#e7e7e8"/><stop offset="0.2" stop-color="#fca588"/><stop offset="0.22" stop-color="#e83429"/><stop offset="0.25" stop-color="#a30f15"/><stop offset="0.28" stop-color="#67000d"/><stop offset="0.31" stop-color="#67000d"/></linearGradient>
<linearGradient id="r137" gradientUnits="userSpaceOnUse" x1="41.5" y1="0" x2="268.5" y2="0"><stop offset="0" stop-color="#08306b"/><stop offset="0.1" stop-color="#08306b"/><stop offset="0.12" stop-color="#08306b"/><stop offset="0.14" stop-color="#115ca5"/><stop offset="0.16" stop-color="#6caed6"/><stop offset="0.18" stop-color="#e7e7e8"/><stop offset="0.2" stop-color="#fca588"/><stop offset="0.23" stop-color="#e83429"/><stop offset="0.26" stop-color="#a30f15"/><stop offset="0.29" stop-color="#67000d"/><stop offset="0.33" stop-color="#67000d"/></linearGradient>
<linearGradient id="r138" gradientUnits="userSpaceOnUse" x1="41.5" y1="0" x2="268.5" y2="0"><stop offset="0" stop-color="#08306b"/><stop offset="0.1" stop-color="#08306b"/><stop offset="0.12" stop-color="#08306b"/><stop offset="0.14" stop-color="#115ca5"/><stop offset="0.16" stop-color="#6caed6"/><stop offset="0.18" stop-color="#e7e7e8"/><stop offset="0.21" stop-color="#fca588"/><stop offset="0.24" stop-color="#e83429"/><stop offset="0.27" stop-color="#a30f15"/><stop offset="0.3" stop-color="#67000d"/><stop offset="0.34" stop-color="#67000d"/></linearGradient>
<linearGradient id="r139" gradientUnits="userSpaceOnUse" x1="41.5" y1="0" x2="268.5" y2="0"><stop offset="0" stop-color="#08306b"/><stop offset="0.11" stop-color="#08306b"/><stop offset="0.13" stop-color="#08306b"/><stop offset="0.15" stop-color="#115ca5"/><stop offset="0.17" stop-color="#6caed6"/><stop offset="0.19" stop-color="#e7e7e8"/><stop offset="0.21" stop-color="#fca588"/><stop offset="0.24" stop-color="#e83429"/><stop offset="0.28" stop-color="#a30f15"/><stop offset="0.31" stop-color="#67000d"/><stop offset="0.35" stop-color="#67000d"/></linearGradient>
<linearGradient id="r140" gradientUnits="userSpaceOnUse" x1="41.5" y1="0" x2="268.5" y2="0"><stop offset="0" stop-color="#08306b"/><stop offset="0.11" stop-color="#08306b"/><stop offset="0.13" stop-color="#08306b"/><stop offset="0.15" stop-color="#115ca5"/><stop offset="0.17" stop-color="#6caed6"/><stop offset="0.19" stop-color="#e7e7e8"/><stop offset="0.21" stop-color="#fca588"/><stop offset="0.25" stop-color="#e83429"/><stop offset="0.28" stop-color="#a30f15"/><stop offset="0.31" stop-color="#67000d"/><stop offset="0.36" stop-color="#67000d"/></linearGradient>
<linearGradient id="r141" gradientUnits="userSpaceOnUse" x1="41.5" y1="0" x2="268.5" y2="0"><stop offset="0" stop-color="#08306b"/><stop offset="0.11" stop-color="#08306b"/><stop offset="0.13" stop-color="#08306b"/><stop offset="0.15" stop-color="#115ca5"/><stop offset="0.17" stop-color="#6caed6"/><stop offset="0.19" stop-color="#e7e7e8"/><stop offset="0.22" stop-color="#fca588"/><stop offset="0.25" stop-color="#e83429"/><stop offset="0.28" stop-color="#a30f15"/><stop offset="0.31" stop-color="#67000d"/><stop offset="0.36" stop-color="#67000d"/></linearGradient>
<linearGradient id="r142" gradientUnits="userSpaceOnUse" x1="41.5" y1="0" x2="268.5" y2="0"><stop offset="0" stop-color="#08306b"/><stop offset="0.12" stop-color="#08306b"/><stop offset="0.13" stop-color="#08306b"/><stop offset="0.15" stop-color="#115ca5"/><stop offset="0.17" stop-color="#6caed6"/><stop offset="0.19" stop-color="#e7e7e8"/><stop offset="0.22" stop-color="#fca588"/><stop offset="0.25" stop-color="#e83429"/><stop offset="0.28" stop-color="#a30f15"/><stop offset="0.32" stop-color="#67000d"/><stop offset="0.36" stop-color="#67000d"/></linearGradient>
<linearGradient id="r143" gradientUnits="userSpaceOnUse" x1="41.5" y1="0" x2="268.5" y2="0"><stop offset="0" stop-color="#08306b"/><stop offset="0.12" stop-color="#08306b"/><stop offset="0.14" stop-color="#08306b"/><stop offset="0.16" stop-color="#115ca5"/><stop offset="0.18" stop-color="#6caed6"/><stop offset="0.2" stop-color="#e7e7e8"/><stop offset="0.22" stop-color="#fca588"/><stop offset="0.25" stop-color="#e83429"/><stop offset="0.29" stop-color="#a30f15"/><stop offset="0.32" stop-color="#67000d"/><stop offset="0.36" stop-color="#67000d"/></linearGradient>
<linearGradient id="r144" gradientUnits="userSpaceOnUse" x1="41.5" y1="0" x2="268.5" y2="0"><stop offset="0" stop-color="#08306b"/><stop offset="0.12" stop-color="#08306b"/><stop offset="0.14" stop-color="#08306b"/><stop offset="0.16" stop-color="#115ca5"/><stop offset="0.18" stop-color="#6caed6"/><stop offset="0.2" stop-color="#e7e7e8"/><stop offset="0.22" stop-color="#fca588"/><stop offset="0.26" stop-color="#e83429"/><stop offset="0.29" stop-color="#a30f15"/><stop offset="0.32" stop-color="#67000d"/><stop offset="0.36" stop-color="#67000d"/></linearGradient>
<linearGradient id="r145" gradientUnits="userSpaceOnUse" x1="41.5" y1="0" x2="268.5" y2="0"><stop offset="0" stop-color="#08306b"/><stop offset="0.12" stop-color="#08306b"/><stop offset="0.14" stop-color="#08306b"/><stop offset="0.16" stop-color="#115ca5"/><stop offset="0.18" stop-color="#6caed6"/><stop offset="0.2" stop-color="#e7e7e8"/><stop offset="0.23" stop-color="#fca588"/><stop offset="0.26" stop-color="#e83429"/><stop offset="0.29" stop-color="#a30f15"/><stop offset="0.33" stop-color="#67000d"/><stop offset="0.37" stop-color="#67000d"/></linearGradient>
<linearGradient id="r146" gradientUnits="userSpaceOnUse" x1="41.5" y1="0" x2="268.5" y2="0"><stop offset="0" stop-color="#08306b"/><stop offset="0.13" stop-color="#08306b"/><stop offset="0.15" stop-color="#08306b"/><stop offset="0.17" stop-color="#115ca5"/><stop offset="0.18" stop-color="#6caed6"/><stop offset="0.2" stop-color="#e7e7e8"/><stop offset="0.23" stop-color="#fca588"/><stop offset="0.26" stop-color="#e83429"/><stop offset="0.3" stop-color="#a30f15"/><stop offset="0.33" stop-color="#67000d"/><stop offset="0.37" stop-color="#67000d"/></linearGradient>
<linearGradient id="r147" gradientUnits="userSpaceOnUse" x1="41.5" y1="0" x2="268.5" y2="0"><stop offset="0" stop-color="#08306b"/><stop offset="0.13" stop-color="#08306b"/><stop offset="0.15" stop-color="#08306b"/><stop offset="0.17" stop-color="#115ca5"/><stop offset="0.19" stop-color="#6caed6"/><stop offset="0.21" stop-color="#e7e7e8"/><stop offset="0.23" stop-color="#fca588"/><stop offset="0.26" stop-color="#e83429"/><stop offset="0.29" stop-color="#a30f15"/><stop offset="0.33" stop-color="#67000d"/><stop offset="0.37" stop-color="#67000d"/></linearGradient>
<linearGradient id="r148" gradientUnits="userSpaceOnUse" x1="41.5" y1="0" x2="268.5" y2="0"><stop offset="0" stop-color="#08306b"/><stop offset="0.13" stop-color="#08306b"/><stop offset="0.15" stop-color="#08306b"/><stop offset="0.17" stop-color="#115ca5"/><stop offset="0.19" stop-color="#6caed6"/><stop offset="0.21" stop-color="#e7e7e8"/><stop offset="0.23" stop-color="#fca588"/><stop offset="0.26" stop-color="#e83429"/><stop offset="0.29" stop-color="#a30f15"/><stop offset="0.32" stop-color="#67000d"/><stop offset="0.36" stop-color="#67000d"/></linearGradient>
<linearGradient id="r149" gradientUnits="userSpaceOnUse" x1="41.5" y1="0" x2="268.5" y2="0"><stop offset="0" stop-color="#08306b"/><stop offset="0.14" stop-color="#08306b"/><stop offset="0.15" stop-color="#08306b"/><stop offset="0.17" stop-color="#115ca5"/><stop offset="0.19" stop-color="#6caed6"/><stop offset="0.21" stop-color="#e7e7e8"/><stop offset="0.23" stop-color="#fca588"/><stop offset="0.26" stop-color="#e83429"/><stop offset="0.29" stop-color="#a30f15"/><stop offset="0.32" stop-color="#67000d"/><stop offset="0.35" stop-color="#67000d"/></linearGradient>
<linearGradient id="r150" gradientUnits="userSpaceOnUse" x1="41.5" y1="0" x2="268.5" y2="0"><stop offset="0" stop-color="#08306b"/><stop offset="0.14" stop-color="#08306b"/><stop offset="0.16" stop-color="#08306b"/><stop offset="0.18" stop-color="#115ca5"/><stop offset="0.19" stop-color="#6caed6"/><stop offset="0.21" stop-color="#e7e7e8"/><stop offset="0.23" stop-color="#fca588"/><stop offset="0.26" stop-color="#e83429"/><stop offset="0.29" stop-color="#a30f15"/><stop offset="0.31" stop-color="#67000d"/><stop offset="0.35" stop-color="#67000d"/></linearGradient>
<linearGradient id="r151" gradientUnits="userSpaceOnUse" x1="41.5" y1="0" x2="268.5" y2="0"><stop offset="0" stop-color="#08306b"/><stop offset="0.14" stop-color="#08306b"/><stop offset="0.16" stop-color="#08306b"/><stop offset="0.18" stop-color="#115ca5"/><stop offset="0.2" stop-color="#6caed6"/><stop offset="0.21" stop-color="#e7e7e8"/><stop offset="0.23" stop-color="#fca588"/><stop offset="0.26" stop-color="#e83429"/><stop offset="0.29" stop-color="#a30f15"/><stop offset="0.32" stop-color="#67000d"/><stop offset="0.36" stop-color="#67000d"/></linearGradient>
<linearGradient id="r152" gradientUnits="userSpaceOnUse" x1="41.5" y1="0" x2="268.5" y2="0"><stop offset="0" stop-color="#08306b"/><stop offset="0.14" stop-color="#08306b"/><stop offset="0.16" stop-color="#08306b"/><stop offset="0.18" stop-color="#115ca5"/><stop offset="0.2" stop-color="#6caed6"/><stop offset="0.22" stop-color="#e7e7e8"/><stop offset="0.24" stop-color="#fca588"/><stop offset="0.27" stop-color="#e83429"/><stop offset="0.3" stop-color="#a30f15"/><stop offset="0.33" stop-color="#67000d"/><stop offset="0.37" stop-color="#67000d"/></linearGradient>
<linearGradient id="r153" gradientUnits="userSpaceOnUse" x1="41.5" y1="0" x2="268.5" y2="0"><stop offset="0" stop-color="#08306b"/><stop offset="0.15" stop-color="#08306b"/><stop offset="0.17" stop-color="#08306b"/><stop offset="0.18" stop-color="#115ca5"/><stop offset="0.2" stop-color="#6caed6"/><stop offset="0.22" stop-color="#e7e7e8"/><stop offset="0.24" stop-color="#fca588"/><stop offset="0.27" stop-color="#e83429"/><stop offset="0.31" stop-color="#a30f15"/><stop offset="0.34" stop-color="#67000d"/><stop offset="0.38" stop-color="#67000d"/></linearGradient>
<linearGradient id="r154" gradientUnits="userSpaceOnUse" x1="41.5" y1="0" x2="268.5" y2="0"><stop offset="0" stop-color="#08306b"/><stop offset="0.15" stop-color="#08306b"/><stop offset="0.17" stop-color="#08306b"/><stop offset="0.19" stop-color="#115ca5"/><stop offset="0.2" stop-color="#6caed6"/><stop offset="0.22" stop-color="#e7e7e8"/><stop offset="0.25" stop-color="#fca588"/><stop offset="0.28" stop-color="#e83429"/><stop offset="0.31" stop-color="#a30f15"/><stop offset="0.35" stop-color="#67000d"/><stop offset="0.39" stop-color="#67000d"/></linearGradient>
<linearGradient id="r155" gradientUnits="userSpaceOnUse" x1="41.5" y1="0" x2="268.5" y2="0"><stop offset="0" stop-color="#08306b"/><stop offset="0.15" stop-color="#08306b"/><stop offset="0.17" stop-color="#08306b"/><stop offset="0.19" stop-color="#115ca5"/><stop offset="0.21" stop-color="#6caed6"/><stop offset="0.22" stop-color="#e7e7e8"/><stop offset="0.25" stop-color="#fca588"/><stop offset="0.28" stop-color="#e83429"/><stop offset="0.32" stop-color="#a30f15"/><stop offset="0.35" stop-color="#67000d"/><stop offset="0.39" stop-color="#67000d"/></linearGradient>
<linearGradient id="r156" gradientUnits="userSpaceOnUse" x1="41.5" y1="0" x2="268.5" y2="0"><stop offset="0" stop-color="#08306b"/><stop offset="0.15" stop-color="#08306b"/><stop offset="0.17" stop-color="#08306b"/><stop offset="0.19" stop-color="#115ca5"/><stop offset="0.21" stop-color="#6caed6"/><stop offset="0.23" stop-color="#e7e7e8"/><stop offset="0.25" stop-color="#fca588"/><stop offset="0.29" stop-color="#e83429"/><stop offset="0.32" stop-color="#a30f15"/><stop offset="0.36" stop-color="#67000d"/><stop offset="0.4" stop-color="#67000d"/></linearGradient>
<linearGradient id="r157" gradientUnits="userSpaceOnUse" x1="41.5" y1="0" x2="268.5" y2="0"><stop offset="0" stop-color="#08306b"/><stop offset="0.16" stop-color="#08306b"/><stop offset="0.18" stop-color="#08306b"/><stop offset="0.19" stop-color="#115ca5"/><stop offset="0.21" stop-color="#6caed6"/><stop offset="0.23" stop-color="#e7e7e8"/><stop offset="0.26" stop-color="#fca588"/><stop offset="0.3" stop-color="#e83429"/><stop offset="0.33" stop-color="#a30f15"/><stop offset="0.37" stop-color="#67000d"/><stop offset="0.42" stop-color="#67000d"/></linearGradient>
<linearGradient id="r158" gradientUnits="userSpaceOnUse" x1="41.5" y1="0" x2="268.5" y2="0"><stop offset="0" stop-color="#08306b"/><stop offset="0.16" stop-color="#08306b"/><stop offset="0.18" stop-color="#08306b"/><stop offset="0.2" stop-color="#115ca5"/><stop offset="0.22" stop-color="#6caed6"/><stop offset="0.23" stop-color="#e7e7e8"/><stop offset="0.26" stop-color="#fca588"/><stop offset="0.31" stop-color="#e83429"/><stop offset="0.35" stop-color="#a30f15"/><stop offset="0.39" stop-color="#67000d"/><stop offset="0.44" stop-color="#67000d"/></linearGradient>
<linearGradient id="r159" gradientUnits="userSpaceOnUse" x1="41.5" y1="0" x2="268.5" y2="0"><stop offset="0" stop-color="#08306b"/><stop offset="0.16" stop-color="#08306b"/><stop offset="0.18" stop-color="#08306b"/><stop offset="0.2" stop-color="#115ca5"/><stop offset="0.22" stop-color="#6caed6"/><stop offset="0.24" stop-color="#e7e7e8"/><stop offset="0.27" stop-color="#fca588"/><stop offset="0.32" stop-color="#e83429"/><stop offset="0.36" stop-color="#a30f15"/><stop offset="0.41" stop-color="#67000d"/><stop offset="0.47" stop-color="#67000d"/></linearGradient>
<linearGradient id="r160" gradientUnits="userSpaceOnUse" x1="41.5" y1="0" x2="268.5" y2="0"><stop offset="0" stop-color="#08306b"/><stop offset="0.16" stop-color="#08306b"/><stop offset="0.18" stop-color="#08306b"/><stop offset="0.2" stop-color="#115ca5"/><stop offset="0.22" stop-color="#6caed6"/><stop offset="0.24" stop-color="#e7e7e8"/><stop offset="0.28" stop-color="#fca588"/><stop offset="0.33" stop-color="#e83429"/><stop offset="0.37" stop-color="#a30f15"/><stop offset="0.42" stop-color="#67000d"/><stop offset="0.48" stop-color="#67000d"/></linearGradient>
<linearGradient id="r161" gradientUnits="userSpaceOnUse" x1="41.5" y1="0" x2="268.5" y2="0"><stop offset="0" stop-color="#08306b"/><stop offset="0.17" stop-color="#08306b"/><stop offset="0.19" stop-color="#08306b"/><stop offset="0.21" stop-color="#115ca5"/><stop offset="0.22" stop-color="#6caed6"/><stop offset="0.24" stop-color="#e7e7e8"/><stop offset="0.28" stop-color="#fca588"/><stop offset="0.33" stop-color="#e83429"/><stop offset="0.38" stop-color="#a30f15"/><stop offset="0.43" stop-color="#67000d"/><stop offset="0.49" stop-color="#67000d"/></linearGradient>
<linearGradient id="r162" gradientUnits="userSpaceOnUse" x1="41.5" y1="0" x2="268.5" y2="0"><stop offset="0" stop-color="#08306b"/><stop offset="0.17" stop-color="#08306b"/><stop offset="0.19" stop-color="#08306b"/><stop offset="0.21" stop-color="#115ca5"/><stop offset="0.23" stop-color="#6caed6"/><stop offset="0.25" stop-color="#e7e7e8"/><stop offset="0.28" stop-color="#fca588"/><stop offset="0.33" stop-color="#e83429"/><stop offset="0.38" stop-color="#a30f15"/><stop offset="0.43" stop-color="#67000d"/><stop offset="0.49" stop-color="#67000d"/></linearGradient>
<linearGradient id="r163" gradientUnits="userSpaceOnUse" x1="41.5" y1="0" x2="268.5" y2="0"><stop offset="0" stop-color="#08306b"/><stop offset="0.17" stop-color="#08306b"/><stop offset="0.19" stop-color="#08306b"/><stop offset="0.21" stop-color="#115ca5"/><stop offset="0.23" stop-color="#6caed6"/><stop offset="0.25" stop-color="#e7e7e8"/><stop offset="0.29" stop-color="#fca588"/><stop offset="0.33" stop-color="#e83429"/><stop offset="0.38" stop-color="#a30f15"/><stop offset="0.43" stop-color="#67000d"/><stop offset="0.49" stop-color="#67000d"/></linearGradient>
<linearGradient id="r164" gradientUnits="userSpaceOnUse" x1="41.5" y1="0" x2="268.5" y2="0"><stop offset="0" stop-color="#08306b"/><stop offset="0.17" stop-color="#08306b"/><stop offset="0.19" stop-color="#08306b"/><stop offset="0.21" stop-color="#115ca5"/><stop offset="0.23" stop-color="#6caed6"/><stop offset="0.25" stop-color="#e7e7e8"/><stop offset="0.29" stop-color="#fca588"/><stop offset="0.34" stop-color="#e83429"/><stop offset="0.39" stop-color="#a30f15"/><stop offset="0.43" stop-color="#67000d"/><stop offset="0.49" stop-color="#67000d"/></linearGradient>
<linearGradient id="r165" gradientUnits="userSpaceOnUse" x1="41.5" y1="0" x2="268.5" y2="0"><stop offset="0" stop-color="#08306b"/><stop offset="0.18" stop-color="#08306b"/><stop offset="0.2" stop-color="#08306b"/><stop offset="0.22" stop-color="#115ca5"/><stop offset="0.24" stop-color="#6caed6"/><stop offset="0.26" stop-color="#e7e7e8"/><stop offset="0.29" stop-color="#fca588"/><stop offset="0.34" stop-color="#e83429"/><stop offset="0.39" stop-color="#a30f15"/><stop offset="0.44" stop-color="#67000d"/><stop offset="0.5" stop-color="#67000d"/></linearGradient>
<linearGradient id="r166" gradientUnits="userSpaceOnUse" x1="41.5" y1="0" x2="268.5" y2="0"><stop offset="0" stop-color="#08306b"/><stop offset="0.18" stop-color="#08306b"/><stop offset="0.2" stop-color="#08306b"/><stop offset="0.22" stop-color="#115ca5"/><stop offset="0.24" stop-color="#6caed6"/><stop offset="0.26" stop-color="#e7e7e8"/><stop offset="0.3" stop-color="#fca588"/><stop offset="0.34" stop-color="#e83429"/><stop offset="0.39" stop-color="#a30f15"/><stop offset="0.44" stop-color="#67000d"/><stop offset="0.5" stop-color="#67000d"/></linearGradient>
<linearGradient id="r167" gradientUnits="userSpaceOnUse" x1="41.5" y1="0" x2="268.5" y2="0"><stop offset="0" stop-color="#08306b"/><stop offset="0.18" stop-color="#08306b"/><stop offset="0.2" stop-color="#08306b"/><stop offset="0.22" stop-color="#115ca5"/><stop offset="0.24" stop-color="#6caed6"/><stop offset="0.26" stop-color="#e7e7e8"/><stop offset="0.3" stop-color="#fca588"/><stop offset="0.35" stop-color="#e83429"/><stop offset="0.39" stop-color="#a30f15"/><stop offset="0.44" stop-color="#67000d"/><stop offset="0.5" stop-color="#67000d"/></linearGradient>
<linearGradient id="r168" gradientUnits="userSpaceOnUse" x1="41.5" y1="0" x2="268.5" y2="0"><stop offset="0" stop-color="#08306b"/><stop offset="0.18" stop-color="#08306b"/><stop offset="0.2" stop-color="#08306b"/><stop offset="0.22" stop-color="#115ca5"/><stop offset="0.24" stop-color="#6caed6"/><stop offset="0.27" stop-color="#e7e7e8"/><stop offset="0.3" stop-color="#fca588"/><stop offset="0.34" stop-color="#e83429"/><stop offset="0.39" stop-color="#a30f15"/><stop offset="0.43" stop-color="#67000d"/><stop offset="0.49" stop-color="#67000d"/></linearGradient>
<linearGradient id="r169" gradientUnits="userSpaceOnUse" x1="41.5" y1="0" x2="268.5" y2="0"><stop offset="0" stop-color="#08306b"/><stop offset="0.18" stop-color="#08306b"/><stop offset="0.2" stop-color="#08306b"/><stop offset="0.22" stop-color="#115ca5"/><stop offset="0.25" stop-color="#6caed6"/><stop offset="0.27" stop-color="#e7e7e8"/><stop offset="0.3" stop-color="#fca588"/><stop offset="0.34" stop-color="#e83429"/><stop offset="0.38" stop-color="#a30f15"/><stop offset="0.42" stop-color="#67000d"/><stop offset="0.48" stop-color="#67000d"/></linearGradient>
<linearGradient id="r170" gradientUnits="userSpaceOnUse" x1="41.5" y1="0" x2="268.5" y2="0"><stop offset="0" stop-color="#08306b"/><stop offset="0.18" stop-color="#08306b"/><stop offset="0.2" stop-color="#08306b"/><stop offset="0.22" stop-color="#115ca5"/><stop offset="0.25" stop-color="#6caed6"/><stop offset="0.27" stop-color="#e7e7e8"/><stop offset="0.3" stop-color="#fca588"/><stop offset="0.34" stop-color="#e83429"/><stop offset="0.38" stop-color="#a30f15"/><stop offset="0.42" stop-color="#67000d"/><stop offset="0.47" stop-color="#67000d"/></linearGradient>
<linearGradient id="r171" gradientUnits="userSpaceOnUse" x1="41.5" y1="0" x2="268.5" y2="0"><stop offset="0" stop-color="#08306b"/><stop offset="0.18" stop-color="#08306b"/><stop offset="0.2" stop-color="#08306b"/><stop offset="0.23" stop-color="#115ca5"/><stop offset="0.25" stop-color="#6caed6"/><stop offset="0.27" stop-color="#e7e7e8"/><stop offset="0.3" stop-color="#fca588"/><stop offset="0.34" stop-color="#e83429"/><stop offset="0.38" stop-color="#a30f15"/><stop offset="0.42" stop-color="#67000d"/><stop offset="0.47" stop-color="#67000d"/></linearGradient>
<linearGradient id="r172" gradientUnits="userSpaceOnUse" x1="41.5" y1="0" x2="268.5" y2="0"><stop offset="0" stop-color="#08306b"/><stop offset="0.18" stop-color="#08306b"/><stop offset="0.2" stop-color="#08306b"/><stop offset="0.23" stop-color="#115ca5"/><stop offset="0.25" stop-color="#6caed6"/><stop offset="0.28" stop-color="#e7e7e8"/><stop offset="0.31" stop-color="#fca588"/><stop offset="0.35" stop-color="#e83429"/><stop offset="0.39" stop-color="#a30f15"/><stop offset="0.43" stop-color="#67000d"/><stop offset="0.48" stop-color="#67000d"/></linearGradient>
<linearGradient id="r173" gradientUnits="userSpaceOnUse" x1="41.5" y1="0" x2="268.5" y2="0"><stop offset="0" stop-color="#08306b"/><stop offset="0.18" stop-color="#08306b"/><stop offset="0.2" stop-color="#08306b"/><stop offset="0.23" stop-color="#115ca5"/><stop offset="0.25" stop-color="#6caed6"/><stop offset="0.28" stop-color="#e7e7e8"/><stop offset="0.31" stop-color="#fca588"/><stop offset="0.36" stop-color="#e83429"/><stop offset="0.4" stop-color="#a30f15"/><stop offset="0.45" stop-color="#67000d"/><stop offset="0.5" stop-color="#67000d"/></linearGradient>
<linearGradient id="r174" gradientUnits="userSpaceOnUse" x1="41.5" y1="0" x2="268.5" y2="0"><stop offset="0" stop-color="#08306b"/><stop offset="0.18" stop-color="#08306b"/><stop offset="0.2" stop-color="#08306b"/><stop offset="0.23" stop-color="#115ca5"/><stop offset="0.26" stop-color="#6caed6"/><stop offset="0.28" stop-color="#e7e7e8"/><stop offset="0.32" stop-color="#fca588"/><stop offset="0.36" stop-color="#e83429"/><stop offset="0.41" stop-color="#a30f15"/><stop offset="0.46" stop-color="#67000d"/><stop offset="0.51" stop-color="#67000d"/></linearGradient>
<linearGradient id="r175" gradientUnits="userSpaceOnUse" x1="41.5" y1="0" x2="268.5" y2="0"><stop offset="0" stop-color="#08306b"/><stop offset="0.18" stop-color="#08306b"/><stop offset="0.2" stop-color="#08306b"/><stop offset="0.23" stop-color="#115ca5"/><stop offset="0.26" stop-color="#6caed6"/><stop offset="0.29" stop-color="#e7e7e8"/><stop offset="0.32" stop-color="#fca588"/><stop offset="0.37" stop-color="#e83429"/><stop offset="0.42" stop-color="#a30f15"/><stop offset="0.46" stop-color="#67000d"/><stop offset="0.52" stop-color="#67000d"/></linearGradient>
<linearGradient id="r176" gradientUnits="userSpaceOnUse" x1="41.5" y1="0" x2="268.5" y2="0"><stop offset="0" stop-color="#08306b"/><stop offset="0.18" stop-color="#08306b"/><stop offset="0.21" stop-color="#08306b"/><stop offset="0.23" stop-color="#115ca5"/><stop offset="0.26" stop-color="#6caed6"/><stop offset="0.29" stop-color="#e7e7e8"/><stop offset="0.33" stop-color="#fca588"/><stop offset="0.37" stop-color="#e83429"/><stop offset="0.42" stop-color="#a30f15"/><stop offset="0.47" stop-color="#67000d"/><stop offset="0.52" stop-color="#67000d"/></linearGradient>
<linearGradient id="r177" gradientUnits="userSpaceOnUse" x1="41.5" y1="0" x2="268.5" y2="0"><stop offset="0" stop-color="#08306b"/><stop offset="0.18" stop-color="#08306b"/><stop offset="0.21" stop-color="#08306b"/><stop offset="0.24" stop-color="#115ca5"/><stop offset="0.27" stop-color="#6caed6"/><stop offset="0.29" stop-color="#e7e7e8"/><stop offset="0.33" stop-color="#fca588"/><stop offset="0.38" stop-color="#e83429"/><stop offset="0.42" stop-color="#a30f15"/><stop offset="0.47" stop-color="#67000d"/><stop offset="0.53" stop-color="#67000d"/></linearGradient>
<linearGradient id="r178" gradientUnits="userSpaceOnUse" x1="41.5" y1="0" x2="268.5" y2="0"><stop offset="0" stop-color="#08306b"/><stop offset="0.18" stop-color="#08306b"/><stop offset="0.21" stop-color="#08306b"/><stop offset="0.24" stop-color="#115ca5"/><stop offset="0.27" stop-color="#6caed6"/><stop offset="0.3" stop-color="#e7e7e8"/><stop offset="0.33" stop-color="#fca588"/><stop offset="0.38" stop-color="#e83429"/><stop offset="0.43" stop-color="#a30f15"/><stop offset="0.48" stop-color="#67000d"/><stop offset="0.54" stop-color="#67000d"/></linearGradient>
<linearGradient id="r179" gradientUnits="userSpaceOnUse" x1="41.5" y1="0" x2="268.5" y2="0"><stop offset="0" stop-color="#08306b"/><stop offset="0.18" stop-color="#08306b"/><stop offset="0.21" stop-color="#08306b"/><stop offset="0.24" stop-color="#115ca5"/><stop offset="0.27" stop-color="#6caed6"/><stop offset="0.3" stop-color="#e7e7e8"/><stop offset="0.34" stop-color="#fca588"/><stop offset="0.39" stop-color="#e83429"/><stop offset="0.44" stop-color="#a30f15"/><stop offset="0.49" stop-color="#67000d"/><stop offset="0.55" stop-color="#67000d"/></linearGradient>
<linearGradient id="r180" gradientUnits="userSpaceOnUse" x1="41.5" y1="0" x2="268.5" y2="0"><stop offset="0" stop-color="#08306b"/><stop offset="0.18" stop-color="#08306b"/><stop offset="0.21" stop-color="#08306b"/><stop offset="0.24" stop-color="#115ca5"/><stop offset="0.28" stop-color="#6caed6"/><stop offset="0.31" stop-color="#e7e7e8"/><stop offset="0.34" stop-color="#fca588"/><stop offset="0.4" stop-color="#e83429"/><stop offset="0.45" stop-color="#a30f15"/><stop offset="0.5" stop-color="#67000d"/><stop offset="0.57" stop-color="#67000d"/></linearGradient>
<linearGradient id="r181" gradientUnits="userSpaceOnUse" x1="41.5" y1="0" x2="268.5" y2="0"><stop offset="0" stop-color="#08306b"/><stop offset="0.19" stop-color="#08306b"/><stop offset="0.22" stop-color="#08306b"/><stop offset="0.25" stop-color="#115ca5"/><stop offset="0.28" stop-color="#6caed6"/><stop offset="0.31" stop-color="#e7e7e8"/><stop offset="0.35" stop-color="#fca588"/><stop offset="0.4" stop-color="#e83429"/><stop offset="0.46" stop-color="#a30f15"/><stop offset="0.51" stop-color="#67000d"/><stop offset="0.57" stop-color="#67000d"/></linearGradient>
<linearGradient id="r182" gradientUnits="userSpaceOnUse" x1="41.5" y1="0" x2="268.5" y2="0"><stop offset="0" stop-color="#08306b"/><stop offset="0.19" stop-color="#08306b"/><stop offset="0.22" stop-color="#08306b"/><stop offset="0.25" stop-color="#115ca5"/><stop offset="0.28" stop-color="#6caed6"/><stop offset="0.31" stop-color="#e7e7e8"/><stop offset="0.35" stop-color="#fca588"/><stop offset="0.4" stop-color="#e83429"/><stop offset="0.45" stop-color="#a30f15"/><stop offset="0.51" stop-color="#67000d"/><stop offset="0.57" stop-color="#67000d"/></linearGradient>
<linearGradient id="r183" gradientUnits="userSpaceOnUse" x1="41.5" y1="0" x2="268.5" y2="0"><stop offset="0" stop-color="#08306b"/><stop offset="0.19" stop-color="#08306b"/><stop offset="0.22" stop-color="#08306b"/><stop offset="0.25" stop-color="#115ca5"/><stop offset="0.29" stop-color="#6caed6"/><stop offset="0.32" stop-color="#e7e7e8"/><stop offset="0.35" stop-color="#fca588"/><stop offset="0.4" stop-color="#e83429"/><stop offset="0.45" stop-color="#a30f15"/><stop offset="0.5" stop-color="#67000d"/><stop offset="0.56" stop-color="#67000d"/></linearGradient>
<linearGradient id="r184" gradientUnits="userSpaceOnUse" x1="41.5" y1="0" x2="268.5" y2="0"><stop offset="0" stop-color="#08306b"/><stop offset="0.19" stop-color="#08306b"/><stop offset="0.22" stop-color="#08306b"/><stop offset="0.26" stop-color="#115ca5"/><stop offset="0.29" stop-color="#6caed6"/><stop offset="0.32" stop-color="#e7e7e8"/><stop offset="0.35" stop-color="#fca588"/><stop offset="0.4" stop-color="#e83429"/><stop offset="0.44" stop-color="#a30f15"/><stop offset="0.49" stop-color="#67000d"/><stop offset="0.54" stop-color="#67000d"/></linearGradient>
<linearGradient id="r185" gradientUnits="userSpaceOnUse" x1="41.5" y1="0" x2="268.5" y2="0"><stop offset="0" stop-color="#08306b"/><stop offset="0.19" stop-color="#08306b"/><stop offset="0.23" stop-color="#08306b"/><stop offset="0.26" stop-color="#115ca5"/><stop offset="0.29" stop-color="#6caed6"/><stop offset="0.33" stop-color="#e7e7e8"/><stop offset="0.36" stop-color="#fca588"/><stop offset="0.4" stop-color="#e83429"/><stop offset="0.44" stop-color="#a30f15"/><stop offset="0.49" stop-color="#67000d"/><stop offset="0.54" stop-color="#67000d"/></linearGradient>
<linearGradient id="r186" gradientUnits="userSpaceOnUse" x1="41.5" y1="0" x2="268.5" y2="0"><stop offset="0" stop-color="#08306b"/><stop offset="0.19" stop-color="#08306b"/><stop offset="0.23" stop-color="#08306b"/><stop offset="0.26" stop-color="#115ca5"/><stop offset="0.3" stop-color="#6caed6"/><stop offset="0.33" stop-color="#e7e7e8"/><stop offset="0.36" stop-color="#fca588"/><stop offset="0.4" stop-color="#e83429"/><stop offset="0.45" stop-color="#a30f15"/><stop offset="0.49" stop-color="#67000d"/><stop offset="0.54" stop-color="#67000d"/></linearGradient>
<linearGradient id="r187" gradientUnits="userSpaceOnUse" x1="41.5" y1="0" x2="268.5" y2="0"><stop offset="0" stop-color="#08306b"/><stop offset="0.2" stop-color="#08306b"/><stop offset="0.23" stop-color="#08306b"/><stop offset="0.27" stop-color="#115ca5"/><stop offset="0.3" stop-color="#6caed6"/><stop offset="0.33" stop-color="#e7e7e8"/><stop offset="0.37" stop-color="#fca588"/><stop offset="0.41" stop-color="#e83429"/><stop offset="0.45" stop-color="#a30f15"/><stop offset="0.49" stop-color="#67000d"/><stop offset="0.55" stop-color="#67000d"/></linearGradient>
<linearGradient id="r188" gradientUnits="userSpaceOnUse" x1="41.5" y1="0" x2="268.5" y2="0"><stop offset="0" stop-color="#08306b"/><stop offset="0.2" stop-color="#08306b"/><stop offset="0.23" stop-color="#08306b"/><stop offset="0.27" stop-color="#115ca5"/><stop offset="0.3" stop-color="#6caed6"/><stop offset="0.34" stop-color="#e7e7e8"/><stop offset="0.37" stop-color="#fca588"/><stop offset="0.41" stop-color="#e83429"/><stop offset="0.45" stop-color="#a30f15"/><stop offset="0.5" stop-color="#67000d"/><stop offset="0.55" stop-color="#67000d"/></linearGradient>
<linearGradient id="r189" gradientUnits="userSpaceOnUse" x1="41.5" y1="0" x2="268.5" y2="0"><stop offset="0" stop-color="#08306b"/><stop offset="0.2" stop-color="#08306b"/><stop offset="0.24" stop-color="#08306b"/><stop offset="0.27" stop-color="#115ca5"/><stop offset="0.31" stop-color="#6caed6"/><stop offset="0.34" stop-color="#e7e7e8"/><stop offset="0.37" stop-color="#fca588"/><stop offset="0.41" stop-color="#e83429"/><stop offset="0.45" stop-color="#a30f15"/><stop offset="0.49" stop-color="#67000d"/><stop offset="0.54" stop-color="#67000d"/></linearGradient>
<linearGradient id="r190" gradientUnits="userSpaceOnUse" x1="41.5" y1="0" x2="268.5" y2="0"><stop offset="0" stop-color="#08306b"/><stop offset="0.2" stop-color="#08306b"/><stop offset="0.24" stop-color="#08306b"/><stop offset="0.28" stop-color="#115ca5"/><stop offset="0.31" stop-color="#6caed6"/><stop offset="0.35" stop-color="#e7e7e8"/><stop offset="0.38" stop-color="#fca588"/><stop offset="0.41" stop-color="#e83429"/><stop offset="0.45" stop-color="#a30f15"/><stop offset="0.49" stop-color="#67000d"/><stop offset="0.54" stop-color="#67000d"/></linearGradient>
<linearGradient id="r191" gradientUnits="userSpaceOnUse" x1="41.5" y1="0" x2="268.5" y2="0"><stop offset="0" stop-color="#08306b"/><stop offset="0.21" stop-color="#08306b"/><stop offset="0.24" stop-color="#08306b"/><stop offset="0.28" stop-color="#115ca5"/><stop offset="0.32" stop-color="#6caed6"/><stop offset="0.35" stop-color="#e7e7e8"/><stop offset="0.38" stop-color="#fca588"/><stop offset="0.42" stop-color="#e83429"/><stop offset="0.46" stop-color="#a30f15"/><stop offset="0.49" stop-color="#67000d"/><stop offset="0.54" stop-color="#67000d"/></linearGradient>
<linearGradient id="r192" gradientUnits="userSpaceOnUse" x1="41.5" y1="0" x2="268.5" y2="0"><stop offset="0" stop-color="#08306b"/><stop offset="0.21" stop-color="#08306b"/><stop offset="0.25" stop-color="#08306b"/><stop offset="0.28" stop-color="#115ca5"/><stop offset="0.32" stop-color="#6caed6"/><stop offset="0.36" stop-color="#e7e7e8"/><stop offset="0.39" stop-color="#fca588"/><stop offset="0.42" stop-color="#e83429"/><stop offset="0.46" stop-color="#a30f15"/><stop offset="0.5" stop-color="#67000d"/><stop offset="0.55" stop-color="#67000d"/></linearGradient>
<linearGradient id="r193" gradientUnits="userSpaceOnUse" x1="41.5" y1="0" x2="268.5" y2="0"><stop offset="0" stop-color="#08306b"/><stop offset="0.21" stop-color="#08306b"/><stop offset="0.25" stop-color="#08306b"/><stop offset="0.29" stop-color="#115ca5"/><stop offset="0.32" stop-color="#6caed6"/><stop offset="0.36" stop-color="#e7e7e8"/><stop offset="0.39" stop-color="#fca588"/><stop offset="0.44" stop-color="#e83429"/><stop offset="0.48" stop-color="#a30f15"/><stop offset="0.52" stop-color="#67000d"/><stop offset="0.58" stop-color="#67000d"/></linearGradient>
<linearGradient id="r194" gradientUnits="userSpaceOnUse" x1="41.5" y1="0" x2="268.5" y2="0"><stop offset="0" stop-color="#08306b"/><stop offset="0.22" stop-color="#08306b"/><stop offset="0.25" stop-color="#08306b"/><stop offset="0.29" stop-color="#115ca5"/><stop offset="0.33" stop-color="#6caed6"/><stop offset="0.37" stop-color="#e7e7e8"/><stop offset="0.4" stop-color="#fca588"/><stop offset="0.45" stop-color="#e83429"/><stop offset="0.5" stop-color="#a30f15"/><stop offset="0.54" stop-color="#67000d"/><stop offset="0.6" stop-color="#67000d"/></linearGradient>
<linearGradient id="r195" gradientUnits="userSpaceOnUse" x1="41.5" y1="0" x2="268.5" y2="0"><stop offset="0" stop-color="#08306b"/><stop offset="0.22" stop-color="#08306b"/><stop offset="0.26" stop-color="#08306b"/><stop offset="0.3" stop-color="#115ca5"/><stop offset="0.33" stop-color="#6caed6"/><stop offset="0.37" stop-color="#e7e7e8"/><stop offset="0.41" stop-color="#fca588"/><stop offset="0.46" stop-color="#e83429"/><stop offset="0.51" stop-color="#a30f15"/><stop offset="0.56" stop-color="#67000d"/><stop offset="0.62" stop-color="#67000d"/></linearGradient>
<linearGradient id="r196" gradientUnits="userSpaceOnUse" x1="41.5" y1="0" x2="268.5" y2="0"><stop offset="0" stop-color="#08306b"/><stop offset="0.22" stop-color="#08306b"/><stop offset="0.26" stop-color="#08306b"/><stop offset="0.3" stop-color="#115ca5"/><stop offset="0.34" stop-color="#6caed6"/><stop offset="0.38" stop-color="#e7e7e8"/><stop offset="0.41" stop-color="#fca588"/><stop offset="0.47" stop-color="#e83429"/><stop offset="0.52" stop-color="#a30f15"/><stop offset="0.57" stop-color="#67000d"/><stop offset="0.63" stop-color="#67000d"/></linearGradient>
<linearGradient id="r197" gradientUnits="userSpaceOnUse" x1="41.5" y1="0" x2="268.5" y2="0"><stop offset="0" stop-color="#08306b"/><stop offset="0.23" stop-color="#08306b"/><stop offset="0.27" stop-color="#08306b"/><stop offset="0.3" stop-color="#115ca5"/><stop offset="0.34" stop-color="#6caed6"/><stop offset="0.38" stop-color="#e7e7e8"/><stop offset="0.42" stop-color="#fca588"/><stop offset="0.47" stop-color="#e83429"/><stop offset="0.52" stop-color="#a30f15"/><stop offset="0.57" stop-color="#67000d"/><stop offset="0.64" stop-color="#67000d"/></linearGradient>
<linearGradient id="r198" gradientUnits="userSpaceOnUse" x1="41.5" y1="0" x2="268.5" y2="0"><stop offset="0" stop-color="#08306b"/><stop offset="0.23" stop-color="#08306b"/><stop offset="0.27" stop-color="#08306b"/><stop offset="0.31" stop-color="#115ca5"/><stop offset="0.35" stop-color="#6caed6"/><stop offset="0.39" stop-color="#e7e7e8"/><stop offset="0.42" stop-color="#fca588"/><stop offset="0.48" stop-color="#e83429"/><stop offset="0.53" stop-color="#a30f15"/><stop offset="0.58" stop-color="#67000d"/><stop offset="0.64" stop-color="#67000d"/></linearGradient>
<linearGradient id="r199" gradientUnits="userSpaceOnUse" x1="41.5" y1="0" x2="268.5" y2="0"><stop offset="0" stop-color="#08306b"/><stop offset="0.23" stop-color="#08306b"/><stop offset="0.27" stop-color="#08306b"/><stop offset="0.31" stop-color="#115ca5"/><stop offset="0.35" stop-color="#6caed6"/><stop offset="0.39" stop-color="#e7e7e8"/><stop offset="0.43" stop-color="#fca588"/><stop offset="0.48" stop-color="#e83429"/><stop offset="0.53" stop-color="#a30f15"/><stop offset="0.59" stop-color="#67000d"/><stop offset="0.65" stop-color="#67000d"/></linearGradient>
<linearGradient id="r200" gradientUnits="userSpaceOnUse" x1="41.5" y1="0" x2="268.5" y2="0"><stop offset="0" stop-color="#08306b"/><stop offset="0.24" stop-color="#08306b"/><stop offset="0.28" stop-color="#08306b"/><stop offset="0.32" stop-color="#115ca5"/><stop offset="0.36" stop-color="#6caed6"/><stop offset="0.4" stop-color="#e7e7e8"/><stop offset="0.44" stop-color="#fca588"/><stop offset="0.49" stop-color="#e83429"/><stop offset="0.55" stop-color="#a30f15"/><stop offset="0.6" stop-color="#67000d"/><stop offset="0.67" stop-color="#67000d"/></linearGradient>
<linearGradient id="r201" gradientUnits="userSpaceOnUse" x1="41.5" y1="0" x2="268.5" y2="0"><stop offset="0" stop-color="#08306b"/><stop offset="0.24" stop-color="#08306b"/><stop offset="0.28" stop-color="#08306b"/><stop offset="0.32" stop-color="#115ca5"/><stop offset="0.36" stop-color="#6caed6"/><stop offset="0.4" stop-color="#e7e7e8"/><stop offset="0.44" stop-color="#fca588"/><stop offset="0.5" stop-color="#e83429"/><stop offset="0.56" stop-color="#a30f15"/><stop offset="0.61" stop-color="#67000d"/><stop offset="0.68" stop-color="#67000d"/></linearGradient>
<linearGradient id="r202" gradientUnits="userSpaceOnUse" x1="41.5" y1="0" x2="268.5" y2="0"><stop offset="0" stop-color="#08306b"/><stop offset="0.25" stop-color="#08306b"/><stop offset="0.29" stop-color="#08306b"/><stop offset="0.33" stop-color="#115ca5"/><stop offset="0.37" stop-color="#6caed6"/><stop offset="0.41" stop-color="#e7e7e8"/><stop offset="0.45" stop-color="#fca588"/><stop offset="0.5" stop-color="#e83429"/><stop offset="0.56" stop-color="#a30f15"/><stop offset="0.62" stop-color="#67000d"/><stop offset="0.69" stop-color="#67000d"/></linearGradient>
<linearGradient id="r203" gradientUnits="userSpaceOnUse" x1="41.5" y1="0" x2="268.5" y2="0"><stop offset="0" stop-color="#08306b"/><stop offset="0.25" stop-color="#08306b"/><stop offset="0.29" stop-color="#08306b"/><stop offset="0.33" stop-color="#115ca5"/><stop offset="0.37" stop-color="#6caed6"/><stop offset="0.41" stop-color="#e7e7e8"/><stop offset="0.45" stop-color="#fca588"/><stop offset="0.51" stop-color="#e83429"/><stop offset="0.56" stop-color="#a30f15"/><stop offset="0.61" stop-color="#67000d"/><stop offset="0.68" stop-color="#67000d"/></linearGradient>
<linearGradient id="r204" gradientUnits="userSpaceOnUse" x1="41.5" y1="0" x2="268.5" y2="0"><stop offset="0" stop-color="#08306b"/><stop offset="0.25" stop-color="#08306b"/><stop offset="0.29" stop-color="#08306b"/><stop offset="0.33" stop-color="#115ca5"/><stop offset="0.38" stop-color="#6caed6"/><stop offset="0.42" stop-color="#e7e7e8"/><stop offset="0.45" stop-color="#fca588"/><stop offset="0.5" stop-color="#e83429"/><stop offset="0.56" stop-color="#a30f15"/><stop offset="0.61" stop-color="#67000d"/><stop offset="0.67" stop-color="#67000d"/></linearGradient>
<linearGradient id="r205" gradientUnits="userSpaceOnUse" x1="41.5" y1="0" x2="268.5" y2="0"><stop offset="0" stop-color="#08306b"/><stop offset="0.26" stop-color="#08306b"/><stop offset="0.3" stop-color="#08306b"/><stop offset="0.34" stop-color="#115ca5"/><stop offset="0.38" stop-color="#6caed6"/><stop offset="0.42" stop-color="#e7e7e8"/><stop offset="0.46" stop-color="#fca588"/><stop offset="0.5" stop-color="#e83429"/><stop offset="0.55" stop-color="#a30f15"/><stop offset="0.6" stop-color="#6f020e"/><stop offset="0.66" stop-color="#67000d"/></linearGradient>
<linearGradient id="r206" gradientUnits="userSpaceOnUse" x1="41.5" y1="0" x2="268.5" y2="0"><stop offset="0" stop-color="#08306b"/><stop offset="0.26" stop-color="#08306b"/><stop offset="0.3" stop-color="#08306b"/><stop offset="0.34" stop-color="#115ca5"/><stop offset="0.39" stop-color="#6caed6"/><stop offset="0.43" stop-color="#e7e7e8"/><stop offset="0.46" stop-color="#fca588"/><stop offset="0.51" stop-color="#e83429"/><stop offset="0.55" stop-color="#a30f15"/><stop offset="0.6" stop-color="#7a0510"/><stop offset="0.66" stop-color="#67000d"/></linearGradient>
<linearGradient id="r207" gradientUnits="userSpaceOnUse" x1="41.5" y1="0" x2="268.5" y2="0"><stop offset="0" stop-color="#08306b"/><stop offset="0.27" stop-color="#08306b"/><stop offset="0.31" stop-color="#08306b"/><stop offset="0.35" stop-color="#115ca5"/><stop offset="0.39" stop-color="#6caed6"/><stop offset="0.43" stop-color="#e7e7e8"/><stop offset="0.47" stop-color="#fca588"/><stop offset="0.51" stop-color="#e83429"/><stop offset="0.56" stop-color="#a30f15"/><stop offset="0.61" stop-color="#860811"/><stop offset="0.67" stop-color="#860811"/><stop offset="0.68" stop-color="#860811"/><stop offset="0.73" stop-color="#67000d"/></linearGradient>
<linearGradient id="r208" gradientUnits="userSpaceOnUse" x1="41.5" y1="0" x2="268.5" y2="0"><stop offset="0" stop-color="#08306b"/><stop offset="0.27" stop-color="#08306b"/><stop offset="0.31" stop-color="#08306b"/><stop offset="0.35" stop-color="#115ca5"/><stop offset="0.4" stop-color="#6caed6"/><stop offset="0.44" stop-color="#e7e7e8"/><stop offset="0.47" stop-color="#fca588"/><stop offset="0.52" stop-color="#e83429"/><stop offset="0.57" stop-color="#a30f15"/><stop offset="0.62" stop-color="#920a13"/><stop offset="0.68" stop-color="#920a13"/><stop offset="0.7" stop-color="#920a13"/><stop offset="0.76" stop-color="#67000d"/></linearGradient>
<linearGradient id="r209" gradientUnits="userSpaceOnUse" x1="41.5" y1="0" x2="268.5" y2="0"><stop offset="0" stop-color="#08306b"/><stop offset="0.28" stop-color="#08306b"/><stop offset="0.32" stop-color="#08306b"/><stop offset="0.36" stop-color="#115ca5"/><stop offset="0.4" stop-color="#6caed6"/><stop offset="0.44" stop-color="#e7e7e8"/><stop offset="0.48" stop-color="#fca588"/><stop offset="0.53" stop-color="#e83429"/><stop offset="0.58" stop-color="#a30f15"/><stop offset="0.63" stop-color="#9d0d14"/><stop offset="0.69" stop-color="#9d0d14"/><stop offset="0.73" stop-color="#9d0d14"/><stop offset="0.78" stop-color="#67000d"/></linearGradient>
<linearGradient id="r210" gradientUnits="userSpaceOnUse" x1="41.5" y1="0" x2="268.5" y2="0"><stop offset="0" stop-color="#08306b"/><stop offset="0.28" stop-color="#08306b"/><stop offset="0.32" stop-color="#08306b"/><stop offset="0.36" stop-color="#115ca5"/><stop offset="0.4" stop-color="#6caed6"/><stop offset="0.45" stop-color="#e7e7e8"/><stop offset="0.48" stop-color="#fca588"/><stop offset="0.53" stop-color="#e83429"/><stop offset="0.58" stop-color="#a60f15"/><stop offset="0.64" stop-color="#a60f15"/><stop offset="0.7" stop-color="#a60f15"/><stop offset="0.76" stop-color="#a60f15"/><stop offset="0.81" stop-color="#67000d"/></linearGradient>
<linearGradient id="r211" gradientUnits="userSpaceOnUse" x1="41.5" y1="0" x2="268.5" y2="0"><stop offset="0" stop-color="#08306b"/><stop offset="0.28" stop-color="#08306b"/><stop offset="0.33" stop-color="#08306b"/><stop offset="0.37" stop-color="#115ca5"/><stop offset="0.41" stop-color="#6caed6"/><stop offset="0.45" stop-color="#e7e7e8"/><stop offset="0.49" stop-color="#fca588"/><stop offset="0.54" stop-color="#e83429"/><stop offset="0.59" stop-color="#ad1117"/><stop offset="0.64" stop-color="#ad1117"/><stop offset="0.7" stop-color="#ad1117"/><stop offset="0.78" stop-color="#ad1117"/><stop offset="0.83" stop-color="#67000d"/></linearGradient>
<linearGradient id="r212" gradientUnits="userSpaceOnUse" x1="41.5" y1="0" x2="268.5" y2="0"><stop offset="0" stop-color="#08306b"/><stop offset="0.29" stop-color="#08306b"/><stop offset="0.33" stop-color="#08306b"/><stop offset="0.37" stop-color="#115ca5"/><stop offset="0.42" stop-color="#6caed6"/><stop offset="0.46" stop-color="#e7e7e8"/><stop offset="0.49" stop-color="#fca588"/><stop offset="0.54" stop-color="#e83429"/><stop offset="0.59" stop-color="#b51318"/><stop offset="0.64" stop-color="#b51318"/><stop offset="0.7" stop-color="#b51318"/><stop offset="0.81" stop-color="#b51318"/><stop offset="0.86" stop-color="#67000d"/></linearGradient>
<linearGradient id="r213" gradientUnits="userSpaceOnUse" x1="41.5" y1="0" x2="268.5" y2="0"><stop offset="0" stop-color="#08306b"/><stop offset="0.3" stop-color="#08306b"/><stop offset="0.34" stop-color="#08306b"/><stop offset="0.38" stop-color="#115ca5"/><stop offset="0.42" stop-color="#6caed6"/><stop offset="0.46" stop-color="#e7e7e8"/><stop offset="0.5" stop-color="#fca588"/><stop offset="0.55" stop-color="#e83429"/><stop offset="0.6" stop-color="#bc141a"/><stop offset="0.66" stop-color="#bc141a"/><stop offset="0.72" stop-color="#bc141a"/><stop offset="0.83" stop-color="#bc141a"/><stop offset="0.89" stop-color="#67000d"/></linearGradient>
<linearGradient id="r214" gradientUnits="userSpaceOnUse" x1="41.5" y1="0" x2="268.5" y2="0"><stop offset="0" stop-color="#08306b"/><stop offset="0.3" stop-color="#08306b"/><stop offset="0.34" stop-color="#08306b"/><stop offset="0.38" stop-color="#115ca5"/><stop offset="0.43" stop-color="#6caed6"/><stop offset="0.47" stop-color="#e7e7e8"/><stop offset="0.51" stop-color="#fca588"/><stop offset="0.57" stop-color="#e83429"/><stop offset="0.62" stop-color="#c3161b"/><stop offset="0.68" stop-color="#c3161b"/><stop offset="0.75" stop-color="#c3161b"/><stop offset="0.86" stop-color="#c3161b"/><stop offset="0.91" stop-color="#67000d"/></linearGradient>
<linearGradient id="r215" gradientUnits="userSpaceOnUse" x1="41.5" y1="0" x2="268.5" y2="0"><stop offset="0" stop-color="#08306b"/><stop offset="0.31" stop-color="#08306b"/><stop offset="0.35" stop-color="#08306b"/><stop offset="0.39" stop-color="#115ca5"/><stop offset="0.43" stop-color="#6caed6"/><stop offset="0.47" stop-color="#e7e7e8"/><stop offset="0.52" stop-color="#fca588"/><stop offset="0.58" stop-color="#e83429"/><stop offset="0.64" stop-color="#c9181d"/><stop offset="0.7" stop-color="#c9181d"/><stop offset="0.77" stop-color="#c9181d"/><stop offset="0.89" stop-color="#c9181d"/><stop offset="0.94" stop-color="#67000d"/></linearGradient>
<linearGradient id="r216" gradientUnits="userSpaceOnUse" x1="41.5" y1="0" x2="268.5" y2="0"><stop offset="0" stop-color="#08306b"/><stop offset="0.31" stop-color="#08306b"/><stop offset="0.35" stop-color="#08306b"/><stop offset="0.39" stop-color="#115ca5"/><stop offset="0.44" stop-color="#6caed6"/><stop offset="0.48" stop-color="#e7e7e8"/><stop offset="0.53" stop-color="#fca588"/><stop offset="0.59" stop-color="#e83429"/><stop offset="0.65" stop-color="#d01d1f"/><stop offset="0.71" stop-color="#d01d1f"/><stop offset="0.79" stop-color="#d01d1f"/><stop offset="0.91" stop-color="#d01d1f"/><stop offset="0.97" stop-color="#67000d"/></linearGradient>
</defs>
<rect x="42.0" y="281" width="226.0" height="1.05" fill="url(#r0)"/>
<rect x="42.0" y="282" width="226.0" height="1.05" fill="url(#r1)"/>
<rect x="42.0" y="283" width="226.0" height="1.05" fill="url(#r2)"/>
<rect x="42.0" y="284" width="226.0" height="1.05" fill="url(#r3)"/>
<rect x="42.0" y="285" width="226.0" height="1.05" fill="url(#r4)"/>
<rect x="42.0" y="286" width="226.0" height="1.05" fill="url(#r5)"/>
<rect x="42.0" y="287" width="226.0" height="1.05" fill="url(#r6)"/>
<rect x="42.0" y="288" width="226.0" height="1.05" fill="url(#r7)"/>
<rect x="42.0" y="289" width="226.0" height="1.05" fill="url(#r8)"/>
<rect x="42.0" y="290" width="226.0" height="1.05" fill="url(#r9)"/>
<rect x="42.0" y="291" width="226.0" height="1.05" fill="url(#r10)"/>
<rect x="42.0" y="292" width="226.0" height="1.05" fill="url(#r11)"/>
<rect x="42.0" y="293" width="226.0" height="1.05" fill="url(#r12)"/>
<rect x="42.0" y="294" width="226.0" height="1.05" fill="url(#r13)"/>
<rect x="42.0" y="295" width="226.0" height="1.05" fill="url(#r14)"/>
<rect x="42.0" y="296" width="226.0" height="1.05" fill="url(#r15)"/>
<rect x="42.0" y="297" width="226.0" height="1.05" fill="url(#r16)"/>
<rect x="42.0" y="298" width="226.0" height="1.05" fill="url(#r17)"/>
<rect x="42.0" y="299" width="226.0" height="1.05" fill="url(#r18)"/>
<rect x="42.0" y="300" width="226.0" height="1.05" fill="url(#r19)"/>
<rect x="42.0" y="301" width="226.0" height="1.05" fill="url(#r20)"/>
<rect x="42.0" y="302" width="226.0" height="1.05" fill="url(#r21)"/>
<rect x="42.0" y="303" width="226.0" height="1.05" fill="url(#r22)"/>
<rect x="42.0" y="304" width="226.0" height="1.05" fill="url(#r23)"/>
<rect x="42.0" y="305" width="226.0" height="1.05" fill="url(#r24)"/>
<rect x="42.0" y="306" width="226.0" height="1.05" fill="url(#r25)"/>
<rect x="42.0" y="307" width="226.0" height="1.05" fill="url(#r26)"/>
<rect x="42.0" y="308" width="226.0" height="1.05" fill="url(#r27)"/>
<rect x="42.0" y="309" width="226.0" height="1.05" fill="url(#r28)"/>
<rect x="42.0" y="310" width="226.0" height="1.05" fill="url(#r29)"/>
<rect x="42.0" y="311" width="226.0" height="1.05" fill="url(#r30)"/>
<rect x="42.0" y="312" width="226.0" height="1.05" fill="url(#r31)"/>
<rect x="42.0" y="313" width="226.0" height="1.05" fill="url(#r32)"/>
<rect x="42.0" y="314" width="226.0" height="1.05" fill="url(#r33)"/>
<rect x="42.0" y="315" width="226.0" height="1.05" fill="url(#r34)"/>
<rect x="42.0" y="316" width="226.0" height="1.05" fill="url(#r35)"/>
<rect x="42.0" y="317" width="226.0" height="1.05" fill="url(#r36)"/>
<rect x="42.0" y="318" width="226.0" height="1.05" fill="url(#r37)"/>
<rect x="42.0" y="319" width="226.0" height="1.05" fill="url(#r38)"/>
<rect x="42.0" y="320" width="226.0" height="1.05" fill="url(#r39)"/>
<rect x="42.0" y="321" width="226.0" height="1.05" fill="url(#r40)"/>
<rect x="42.0" y="322" width="226.0" height="1.05" fill="url(#r41)"/>
<rect x="42.0" y="323" width="226.0" height="1.05" fill="url(#r42)"/>
<rect x="42.0" y="324" width="226.0" height="1.05" fill="url(#r43)"/>
<rect x="42.0" y="325" width="226.0" height="1.05" fill="url(#r44)"/>
<rect x="42.0" y="326" width="226.0" height="1.05" fill="url(#r45)"/>
<rect x="42.0" y="327" width="226.0" height="1.05" fill="url(#r46)"/>
<rect x="42.0" y="328" width="226.0" height="1.05" fill="url(#r47)"/>
<rect x="42.0" y="329" width="226.0" height="1.05" fill="url(#r48)"/>
<rect x="42.0" y="330" width="226.0" height="1.05" fill="url(#r49)"/>
<rect x="42.0" y="331" width="226.0" height="1.05" fill="url(#r50)"/>
<rect x="42.0" y="332" width="226.0" height="1.05" fill="url(#r51)"/>
<rect x="42.0" y="333" width="226.0" height="1.05" fill="url(#r52)"/>
<rect x="42.0" y="334" width="226.0" height="1.05" fill="url(#r53)"/>
<rect x="42.0" y="335" width="226.0" height="1.05" fill="url(#r54)"/>
<rect x="42.0" y="336" width="226.0" height="1.05" fill="url(#r55)"/>
<rect x="42.0" y="337" width="226.0" height="1.05" fill="url(#r56)"/>
<rect x="42.0" y="338" width="226.0" height="1.05" fill="url(#r57)"/>
<rect x="42.0" y="339" width="226.0" height="1.05" fill="url(#r58)"/>
<rect x="42.0" y="340" width="226.0" height="1.05" fill="url(#r59)"/>
<rect x="42.0" y="341" width="226.0" height="1.05" fill="url(#r60)"/>
<rect x="42.0" y="342" width="226.0" height="1.05" fill="url(#r61)"/>
<rect x="42.0" y="343" width="226.0" height="1.05" fill="url(#r62)"/>
<rect x="42.0" y="344" width="226.0" height="1.05" fill="url(#r63)"/>
<rect x="42.0" y="345" width="226.0" height="1.05" fill="url(#r64)"/>
<rect x="42.0" y="346" width="226.0" height="1.05" fill="url(#r65)"/>
<rect x="42.0" y="347" width="226.0" height="1.05" fill="url(#r66)"/>
<rect x="42.0" y="348" width="226.0" height="1.05" fill="url(#r67)"/>
<rect x="42.0" y="349" width="226.0" height="1.05" fill="url(#r68)"/>
<rect x="42.0" y="350" width="226.0" height="1.05" fill="url(#r69)"/>
<rect x="42.0" y="351" width="226.0" height="1.05" fill="url(#r70)"/>
<rect x="42.0" y="352" width="226.0" height="1.05" fill="url(#r71)"/>
<rect x="42.0" y="353" width="226.0" height="1.05" fill="url(#r72)"/>
<rect x="42.0" y="354" width="226.0" height="1.05" fill="url(#r73)"/>
<rect x="42.0" y="355" width="226.0" height="1.05" fill="url(#r74)"/>
<rect x="42.0" y="356" width="226.0" height="1.05" fill="url(#r75)"/>
<rect x="42.0" y="357" width="226.0" height="1.05" fill="url(#r76)"/>
<rect x="42.0" y="358" width="226.0" height="1.05" fill="url(#r77)"/>
<rect x="42.0" y="359" width="226.0" height="1.05" fill="url(#r78)"/>
<rect x="42.0" y="360" width="226.0" height="1.05" fill="url(#r79)"/>
<rect x="42.0" y="361" width="226.0" height="1.05" fill="url(#r80)"/>
<rect x="42.0" y="362" width="226.0" height="1.05" fill="url(#r81)"/>
<rect x="42.0" y="363" width="226.0" height="1.05" fill="url(#r82)"/>
<rect x="42.0" y="364" width="226.0" height="1.05" fill="url(#r83)"/>
<rect x="42.0" y="365" width="226.0" height="1.05" fill="url(#r84)"/>
<rect x="42.0" y="366" width="226.0" height="1.05" fill="url(#r85)"/>
<rect x="42.0" y="367" width="226.0" height="1.05" fill="url(#r86)"/>
<rect x="42.0" y="368" width="226.0" height="1.05" fill="url(#r87)"/>
<rect x="42.0" y="369" width="226.0" height="1.05" fill="url(#r88)"/>
<rect x="42.0" y="370" width="226.0" height="1.05" fill="url(#r89)"/>
<rect x="42.0" y="371" width="226.0" height="1.05" fill="url(#r90)"/>
<rect x="42.0" y="372" width="226.0" height="1.05" fill="url(#r91)"/>
<rect x="42.0" y="373" width="226.0" height="1.05" fill="url(#r92)"/>
<rect x="42.0" y="374" width="226.0" height="1.05" fill="url(#r93)"/>
<rect x="42.0" y="375" width="226.0" height="1.05" fill="url(#r94)"/>
<rect x="42.0" y="376" width="226.0" height="1.05" fill="url(#r95)"/>
<rect x="42.0" y="377" width="226.0" height="1.05" fill="url(#r96)"/>
<rect x="42.0" y="378" width="226.0" height="1.05" fill="url(#r97)"/>
<rect x="42.0" y="379" width="226.0" height="1.05" fill="url(#r98)"/>
<rect x="42.0" y="380" width="226.0" height="1.05" fill="url(#r99)"/>
<rect x="42.0" y="381" width="226.0" height="1.05" fill="url(#r100)"/>
<rect x="42.0" y="382" width="226.0" height="1.05" fill="url(#r101)"/>
<rect x="42.0" y="383" width="226.0" height="1.05" fill="url(#r102)"/>
<rect x="42.0" y="384" width="226.0" height="1.05" fill="url(#r103)"/>
<rect x="42.0" y="385" width="226.0" height="1.05" fill="url(#r104)"/>
<rect x="42.0" y="386" width="226.0" height="1.05" fill="url(#r105)"/>
<rect x="42.0" y="387" width="226.0" height="1.05" fill="url(#r106)"/>
<rect x="42.0" y="388" width="226.0" height="1.05" fill="url(#r107)"/>
<rect x="42.0" y="389" width="226.0" height="1.05" fill="url(#r108)"/>
<rect x="42.0" y="390" width="226.0" height="1.05" fill="url(#r109)"/>
<rect x="42.0" y="391" width="226.0" height="1.05" fill="url(#r110)"/>
<rect x="42.0" y="392" width="226.0" height="1.05" fill="url(#r111)"/>
<rect x="42.0" y="393" width="226.0" height="1.05" fill="url(#r112)"/>
<rect x="42.0" y="394" width="226.0" height="1.05" fill="url(#r113)"/>
<rect x="42.0" y="395" width="226.0" height="1.05" fill="url(#r114)"/>
<rect x="42.0" y="396" width="226.0" height="1.05" fill="url(#r115)"/>
<rect x="42.0" y="397" width="226.0" height="1.05" fill="url(#r116)"/>
<rect x="42.0" y="398" width="226.0" height="1.05" fill="url(#r117)"/>
<rect x="42.0" y="399" width="226.0" height="1.05" fill="url(#r118)"/>
<rect x="42.0" y="400" width="226.0" height="1.05" fill="url(#r119)"/>
<rect x="42.0" y="401" width="226.0" height="1.05" fill="url(#r120)"/>
<rect x="42.0" y="402" width="226.0" height="1.05" fill="url(#r121)"/>
<rect x="42.0" y="403" width="226.0" height="1.05" fill="url(#r122)"/>
<rect x="42.0" y="404" width="226.0" height="1.05" fill="url(#r123)"/>
<rect x="42.0" y="405" width="226.0" height="1.05" fill="url(#r124)"/>
<rect x="42.0" y="406" width="226.0" height="1.05" fill="url(#r125)"/>
<rect x="42.0" y="407" width="226.0" height="1.05" fill="url(#r126)"/>
<rect x="42.0" y="408" width="226.0" height="1.05" fill="url(#r127)"/>
<rect x="42.0" y="409" width="226.0" height="1.05" fill="url(#r128)"/>
<rect x="42.0" y="410" width="226.0" height="1.05" fill="url(#r129)"/>
<rect x="42.0" y="411" width="226.0" height="1.05" fill="url(#r130)"/>
<rect x="42.0" y="412" width="226.0" height="1.05" fill="url(#r131)"/>
<rect x="42.0" y="413" width="226.0" height="1.05" fill="url(#r132)"/>
<rect x="42.0" y="414" width="226.0" height="1.05" fill="url(#r133)"/>
<rect x="42.0" y="415" width="226.0" height="1.05" fill="url(#r134)"/>
<rect x="42.0" y="416" width="226.0" height="1.05" fill="url(#r135)"/>
<rect x="42.0" y="417" width="226.0" height="1.05" fill="url(#r136)"/>
<rect x="42.0" y="418" width="226.0" height="1.05" fill="url(#r137)"/>
<rect x="42.0" y="419" width="226.0" height="1.05" fill="url(#r138)"/>
<rect x="42.0" y="420" width="226.0" height="1.05" fill="url(#r139)"/>
<rect x="42.0" y="421" width="226.0" height="1.05" fill="url(#r140)"/>
<rect x="42.0" y="422" width="226.0" height="1.05" fill="url(#r141)"/>
<rect x="42.0" y="423" width="226.0" height="1.05" fill="url(#r142)"/>
<rect x="42.0" y="424" width="226.0" height="1.05" fill="url(#r143)"/>
<rect x="42.0" y="425" width="226.0" height="1.05" fill="url(#r144)"/>
<rect x="42.0" y="426" width="226.0" height="1.05" fill="url(#r145)"/>
<rect x="42.0" y="427" width="226.0" height="1.05" fill="url(#r146)"/>
<rect x="42.0" y="428" width="226.0" height="1.05" fill="url(#r147)"/>
<rect x="42.0" y="429" width="226.0" height="1.05" fill="url(#r148)"/>
<rect x="42.0" y="430" width="226.0" height="1.05" fill="url(#r149)"/>
<rect x="42.0" y="431" width="226.0" height="1.05" fill="url(#r150)"/>
<rect x="42.0" y="432" width="226.0" height="1.05" fill="url(#r151)"/>
<rect x="42.0" y="433" width="226.0" height="1.05" fill="url(#r152)"/>
<rect x="42.0" y="434" width="226.0" height="1.05" fill="url(#r153)"/>
<rect x="42.0" y="435" width="226.0" height="1.05" fill="url(#r154)"/>
<rect x="42.0" y="436" width="226.0" height="1.05" fill="url(#r155)"/>
<rect x="42.0" y="437" width="226.0" height="1.05" fill="url(#r156)"/>
<rect x="42.0" y="438" width="226.0" height="1.05" fill="url(#r157)"/>
<rect x="42.0" y="439" width="226.0" height="1.05" fill="url(#r158)"/>
<rect x="42.0" y="440" width="226.0" height="1.05" fill="url(#r159)"/>
<rect x="42.0" y="441" width="226.0" height="1.05" fill="url(#r160)"/>
<rect x="42.0" y="442" width="226.0" height="1.05" fill="url(#r161)"/>
<rect x="42.0" y="443" width="226.0" height="1.05" fill="url(#r162)"/>
<rect x="42.0" y="444" width="226.0" height="1.05" fill="url(#r163)"/>
<rect x="42.0" y="445" width="226.0" height="1.05" fill="url(#r164)"/>
<rect x="42.0" y="446" width="226.0" height="1.05" fill="url(#r165)"/>
<rect x="42.0" y="447" width="226.0" height="1.05" fill="url(#r166)"/>
<rect x="42.0" y="448" width="226.0" height="1.05" fill="url(#r167)"/>
<rect x="42.0" y="449" width="226.0" height="1.05" fill="url(#r168)"/>
<rect x="42.0" y="450" width="226.0" height="1.05" fill="url(#r169)"/>
<rect x="42.0" y="451" width="226.0" height="1.05" fill="url(#r170)"/>
<rect x="42.0" y="452" width="226.0" height="1.05" fill="url(#r171)"/>
<rect x="42.0" y="453" width="226.0" height="1.05" fill="url(#r172)"/>
<rect x="42.0" y="454" width="226.0" height="1.05" fill="url(#r173)"/>
<rect x="42.0" y="455" width="226.0" height="1.05" fill="url(#r174)"/>
<rect x="42.0" y="456" width="226.0" height="1.05" fill="url(#r175)"/>
<rect x="42.0" y="457" width="226.0" height="1.05" fill="url(#r176)"/>
<rect x="42.0" y="458" width="226.0" height="1.05" fill="url(#r177)"/>
<rect x="42.0" y="459" width="226.0" height="1.05" fill="url(#r178)"/>
<rect x="42.0" y="460" width="226.0" height="1.05" fill="url(#r179)"/>
<rect x="42.0" y="461" width="226.0" height="1.05" fill="url(#r180)"/>
<rect x="42.0" y="462" width="226.0" height="1.05" fill="url(#r181)"/>
<rect x="42.0" y="463" width="226.0" height="1.05" fill="url(#r182)"/>
<rect x="42.0" y="464" width="226.0" height="1.05" fill="url(#r183)"/>
<rect x="42.0" y="465" width="226.0" height="1.05" fill="url(#r184)"/>
<rect x="42.0" y="466" width="226.0" height="1.05" fill="url(#r185)"/>
<rect x="42.0" y="467" width="226.0" height="1.05" fill="url(#r186)"/>
<rect x="42.0" y="468" width="226.0" height="1.05" fill="url(#r187)"/>
<rect x="42.0" y="469" width="226.0" height="1.05" fill="url(#r188)"/>
<rect x="42.0" y="470" width="226.0" height="1.05" fill="url(#r189)"/>
<rect x="42.0" y="471" width="226.0" height="1.05" fill="url(#r190)"/>
<rect x="42.0" y="472" width="226.0" height="1.05" fill="url(#r191)"/>
<rect x="42.0" y="473" width="226.0" height="1.05" fill="url(#r192)"/>
<rect x="42.0" y="474" width="226.0" height="1.05" fill="url(#r193)"/>
<rect x="42.0" y="475" width="226.0" height="1.05" fill="url(#r194)"/>
<rect x="42.0" y="476" width="226.0" height="1.05" fill="url(#r195)"/>
<rect x="42.0" y="477" width="226.0" height="1.05" fill="url(#r196)"/>
<rect x="42.0" y="478" width="226.0" height="1.05" fill="url(#r197)"/>
<rect x="42.0" y="479" width="226.0" height="1.05" fill="url(#r198)"/>
<rect x="42.0" y="480" width="226.0" height="1.05" fill="url(#r199)"/>
<rect x="42.0" y="481" width="226.0" height="1.05" fill="url(#r200)"/>
<rect x="42.0" y="482" width="226.0" height="1.05" fill="url(#r201)"/>
<rect x="42.0" y="483" width="226.0" height="1.05" fill="url(#r202)"/>
<rect x="42.0" y="484" width="226.0" height="1.05" fill="url(#r203)"/>
<rect x="42.0" y="485" width="226.0" height="1.05" fill="url(#r204)"/>
<rect x="42.0" y="486" width="226.0" height="1.05" fill="url(#r205)"/>
<rect x="42.0" y="487" width="226.0" height="1.05" fill="url(#r206)"/>
<rect x="42.0" y="488" width="226.0" height="1.05" fill="url(#r207)"/>
<rect x="42.0" y="489" width="226.0" height="1.05" fill="url(#r208)"/>
<rect x="42.0" y="490" width="226.0" height="1.05" fill="url(#r209)"/>
<rect x="42.0" y="491" width="226.0" height="1.05" fill="url(#r210)"/>
<rect x="42.0" y="492" width="226.0" height="1.05" fill="url(#r211)"/>
<rect x="42.0" y="493" width="226.0" height="1.05" fill="url(#r212)"/>
<rect x="42.0" y="494" width="226.0" height="1.05" fill="url(#r213)"/>
<rect x="42.0" y="495" width="226.0" height="1.05" fill="url(#r214)"/>
<rect x="42.0" y="496" width="226.0" height="1.05" fill="url(#r215)"/>
<rect x="42.0" y="497" width="226.0" height="1.05" fill="url(#r216)"/>
<path d="M42.4,321.5 L45,329.6 L48.1,338.7 L51.1,348.8 L54.2,358 L57.2,366 L58.1,370.6 L60.4,377.6 L62.8,384.6 L65.1,391 L68,397.4 L70.9,403.9 L74.5,410.3 L78.5,416.7 L82.6,422 L86.7,427.8 L90.7,434 L95,440.1 L98.5,444.7 L103.2,451.1 L107.8,456.9 L112.5,462.2 L117.2,467.4 L123,473.3 L128.3,478 L134.1,483.2 L139.4,487.9 L144.6,492.6 L149.9,497.2" fill="none" stroke="#000" stroke-width="2" stroke-dasharray="2.9 3.6"/>
<text x="57.6" y="481.5" font-size="13" text-anchor="start" style="fill:#fff">SC</text>
<text x="166" y="365.2" font-size="13" text-anchor="start" style="fill:#fff">normal</text>
<rect x="41.5" y="280.5" width="227.0" height="218.0" fill="none" stroke="#000" stroke-width="1"/>
<line x1="98.25" y1="498.5" x2="98.25" y2="495" stroke="#000" stroke-width="1" />
<line x1="98.25" y1="280.5" x2="98.25" y2="284" stroke="#000" stroke-width="1" />
<line x1="155" y1="498.5" x2="155" y2="495" stroke="#000" stroke-width="1" />
<line x1="155" y1="280.5" x2="155" y2="284" stroke="#000" stroke-width="1" />
<line x1="211.75" y1="498.5" x2="211.75" y2="495" stroke="#000" stroke-width="1" />
<line x1="211.75" y1="280.5" x2="211.75" y2="284" stroke="#000" stroke-width="1" />
<line x1="69.88" y1="498.5" x2="69.88" y2="496.5" stroke="#000" stroke-width="1" />
<line x1="69.88" y1="280.5" x2="69.88" y2="282.5" stroke="#000" stroke-width="1" />
<line x1="126.62" y1="498.5" x2="126.62" y2="496.5" stroke="#000" stroke-width="1" />
<line x1="126.62" y1="280.5" x2="126.62" y2="282.5" stroke="#000" stroke-width="1" />
<line x1="183.38" y1="498.5" x2="183.38" y2="496.5" stroke="#000" stroke-width="1" />
<line x1="183.38" y1="280.5" x2="183.38" y2="282.5" stroke="#000" stroke-width="1" />
<line x1="240.12" y1="498.5" x2="240.12" y2="496.5" stroke="#000" stroke-width="1" />
<line x1="240.12" y1="280.5" x2="240.12" y2="282.5" stroke="#000" stroke-width="1" />
<line x1="41.5" y1="478.68" x2="45" y2="478.68" stroke="#000" stroke-width="1" />
<line x1="268.5" y1="478.68" x2="265" y2="478.68" stroke="#000" stroke-width="1" />
<line x1="41.5" y1="429.14" x2="45" y2="429.14" stroke="#000" stroke-width="1" />
<line x1="268.5" y1="429.14" x2="265" y2="429.14" stroke="#000" stroke-width="1" />
<line x1="41.5" y1="379.59" x2="45" y2="379.59" stroke="#000" stroke-width="1" />
<line x1="268.5" y1="379.59" x2="265" y2="379.59" stroke="#000" stroke-width="1" />
<line x1="41.5" y1="330.05" x2="45" y2="330.05" stroke="#000" stroke-width="1" />
<line x1="268.5" y1="330.05" x2="265" y2="330.05" stroke="#000" stroke-width="1" />
<line x1="41.5" y1="503.45" x2="43.5" y2="503.45" stroke="#000" stroke-width="1" />
<line x1="268.5" y1="503.45" x2="266.5" y2="503.45" stroke="#000" stroke-width="1" />
<line x1="41.5" y1="453.91" x2="43.5" y2="453.91" stroke="#000" stroke-width="1" />
<line x1="268.5" y1="453.91" x2="266.5" y2="453.91" stroke="#000" stroke-width="1" />
<line x1="41.5" y1="404.36" x2="43.5" y2="404.36" stroke="#000" stroke-width="1" />
<line x1="268.5" y1="404.36" x2="266.5" y2="404.36" stroke="#000" stroke-width="1" />
<line x1="41.5" y1="354.82" x2="43.5" y2="354.82" stroke="#000" stroke-width="1" />
<line x1="268.5" y1="354.82" x2="266.5" y2="354.82" stroke="#000" stroke-width="1" />
<line x1="41.5" y1="305.27" x2="43.5" y2="305.27" stroke="#000" stroke-width="1" />
<line x1="268.5" y1="305.27" x2="266.5" y2="305.27" stroke="#000" stroke-width="1" />
<text transform="translate(41.5,513.9) scale(1,1.08)" font-size="13" text-anchor="middle" >0.0</text>
<text transform="translate(98.25,513.9) scale(1,1.08)" font-size="13" text-anchor="middle" >0.5</text>
<text transform="translate(155,513.9) scale(1,1.08)" font-size="13" text-anchor="middle" >1.0</text>
<text transform="translate(211.75,513.9) scale(1,1.08)" font-size="13" text-anchor="middle" >1.5</text>
<text transform="translate(268.5,513.9) scale(1,1.08)" font-size="13" text-anchor="middle" >2.0</text>
<text transform="translate(35,483.28) scale(1,1.08)" font-size="13" text-anchor="end" >2.0</text>
<text transform="translate(35,433.74) scale(1,1.08)" font-size="13" text-anchor="end" >2.5</text>
<text transform="translate(35,384.19) scale(1,1.08)" font-size="13" text-anchor="end" >3.0</text>
<text transform="translate(35,334.65) scale(1,1.08)" font-size="13" text-anchor="end" >3.5</text>
<text transform="translate(35,285.1) scale(1,1.08)" font-size="13" text-anchor="end" >4.0</text>
<text transform="translate(1.5,292.5) scale(1,1.08)" font-size="12" text-anchor="start" font-weight="bold">b</text>
<text transform="translate(155.2,539.4) scale(1,1.12)" font-size="15.5" text-anchor="middle" >μ<tspan font-size="11" dy="3.5">0</tspan><tspan dy="-3.5" font-style="italic">H</tspan> (T)</text>
<text transform="translate(11.7,388.4) rotate(-90) scale(1,1.12)" font-size="15.5" text-anchor="middle"><tspan font-style="italic">T</tspan> (K)</text>
<rect x="281.5" y="280.5" width="17.0" height="218" fill="#67000d"/>
<rect x="281.5" y="284.13" width="17.0" height="214.37" fill="#67000d"/>
<rect x="281.5" y="287.77" width="17.0" height="210.73" fill="#75030f"/>
<rect x="281.5" y="291.4" width="17.0" height="207.1" fill="#860811"/>
<rect x="281.5" y="295.03" width="17.0" height="203.47" fill="#980c13"/>
<rect x="281.5" y="298.67" width="17.0" height="199.83" fill="#a81016"/>
<rect x="281.5" y="302.3" width="17.0" height="196.2" fill="#b21218"/>
<rect x="281.5" y="305.93" width="17.0" height="192.57" fill="#bd151a"/>
<rect x="281.5" y="309.57" width="17.0" height="188.93" fill="#c8171c"/>
<rect x="281.5" y="313.2" width="17.0" height="185.3" fill="#d21f20"/>
<rect x="281.5" y="316.83" width="17.0" height="181.67" fill="#dc2924"/>
<rect x="281.5" y="320.47" width="17.0" height="178.03" fill="#e63328"/>
<rect x="281.5" y="324.1" width="17.0" height="174.4" fill="#f03d2d"/>
<rect x="281.5" y="327.73" width="17.0" height="170.77" fill="#f34a36"/>
<rect x="281.5" y="331.37" width="17.0" height="167.13" fill="#f6583e"/>
<rect x="281.5" y="335" width="17.0" height="163.5" fill="#fa6547"/>
<rect x="281.5" y="338.63" width="17.0" height="159.87" fill="#fb7151"/>
<rect x="281.5" y="342.27" width="17.0" height="156.23" fill="#fb7c5c"/>
<rect x="281.5" y="345.9" width="17.0" height="152.6" fill="#fc8767"/>
<rect x="281.5" y="349.53" width="17.0" height="148.97" fill="#fc9474"/>
<rect x="281.5" y="353.17" width="17.0" height="145.33" fill="#fca082"/>
<rect x="281.5" y="356.8" width="17.0" height="141.7" fill="#fcab8f"/>
<rect x="281.5" y="360.43" width="17.0" height="138.07" fill="#fcb79c"/>
<rect x="281.5" y="364.07" width="17.0" height="134.43" fill="#fcc1a9"/>
<rect x="281.5" y="367.7" width="17.0" height="130.8" fill="#fbcab6"/>
<rect x="281.5" y="371.33" width="17.0" height="127.17" fill="#f9d3c2"/>
<rect x="281.5" y="374.97" width="17.0" height="123.53" fill="#f8dbce"/>
<rect x="281.5" y="378.6" width="17.0" height="119.9" fill="#f6dfd5"/>
<rect x="281.5" y="382.23" width="17.0" height="116.27" fill="#efe5e0"/>
<rect x="281.5" y="385.87" width="17.0" height="112.63" fill="#e9e7e7"/>
<rect x="281.5" y="389.5" width="17.0" height="109" fill="#e7e8ea"/>
<rect x="281.5" y="393.13" width="17.0" height="105.37" fill="#e5e9ee"/>
<rect x="281.5" y="396.77" width="17.0" height="101.73" fill="#dfe8f1"/>
<rect x="281.5" y="400.4" width="17.0" height="98.1" fill="#d9e6f1"/>
<rect x="281.5" y="404.03" width="17.0" height="94.47" fill="#d4e3f1"/>
<rect x="281.5" y="407.67" width="17.0" height="90.83" fill="#cfe0f0"/>
<rect x="281.5" y="411.3" width="17.0" height="87.2" fill="#caddf0"/>
<rect x="281.5" y="414.93" width="17.0" height="83.57" fill="#c2d9ee"/>
<rect x="281.5" y="418.57" width="17.0" height="79.93" fill="#b7d4ea"/>
<rect x="281.5" y="422.2" width="17.0" height="76.3" fill="#abd0e6"/>
<rect x="281.5" y="425.83" width="17.0" height="72.67" fill="#a0cbe2"/>
<rect x="281.5" y="429.47" width="17.0" height="69.03" fill="#91c3de"/>
<rect x="281.5" y="433.1" width="17.0" height="65.4" fill="#82bbdb"/>
<rect x="281.5" y="436.73" width="17.0" height="61.77" fill="#74b3d8"/>
<rect x="281.5" y="440.37" width="17.0" height="58.13" fill="#66abd4"/>
<rect x="281.5" y="444" width="17.0" height="54.5" fill="#5ba3d0"/>
<rect x="281.5" y="447.63" width="17.0" height="50.87" fill="#4f9bcb"/>
<rect x="281.5" y="451.27" width="17.0" height="47.23" fill="#4493c7"/>
<rect x="281.5" y="454.9" width="17.0" height="43.6" fill="#3a8ac2"/>
<rect x="281.5" y="458.53" width="17.0" height="39.97" fill="#3181bd"/>
<rect x="281.5" y="462.17" width="17.0" height="36.33" fill="#2777b8"/>
<rect x="281.5" y="465.8" width="17.0" height="32.7" fill="#1f6eb3"/>
<rect x="281.5" y="469.43" width="17.0" height="29.07" fill="#1865ac"/>
<rect x="281.5" y="473.07" width="17.0" height="25.43" fill="#115ca5"/>
<rect x="281.5" y="476.7" width="17.0" height="21.8" fill="#0a539e"/>
<rect x="281.5" y="480.33" width="17.0" height="18.17" fill="#084a91"/>
<rect x="281.5" y="483.97" width="17.0" height="14.53" fill="#084184"/>
<rect x="281.5" y="487.6" width="17.0" height="10.9" fill="#083776"/>
<rect x="281.5" y="491.23" width="17.0" height="7.27" fill="#08306b"/>
<rect x="281.5" y="494.87" width="17.0" height="3.63" fill="#08306b"/>
<line x1="281.5" y1="280.5" x2="298.5" y2="280.5" stroke="#333" stroke-width="1" />
<line x1="281.5" y1="498.5" x2="298.5" y2="498.5" stroke="#333" stroke-width="1" />
<line x1="281.5" y1="280" x2="281.5" y2="499" stroke="#8a8a8a" stroke-width="1" />
<line x1="298.5" y1="280" x2="298.5" y2="499" stroke="#3a3a3a" stroke-width="1" />
<line x1="298.5" y1="494.4" x2="302.8" y2="494.4" stroke="#333" stroke-width="1" />
<text transform="translate(308,499) scale(1,1.08)" font-size="13" text-anchor="start" >0.0</text>
<line x1="298.5" y1="452.4" x2="302.8" y2="452.4" stroke="#333" stroke-width="1" />
<text transform="translate(308,457) scale(1,1.08)" font-size="13" text-anchor="start" >0.2</text>
<line x1="298.5" y1="410.4" x2="302.8" y2="410.4" stroke="#333" stroke-width="1" />
<text transform="translate(308,415) scale(1,1.08)" font-size="13" text-anchor="start" >0.4</text>
<line x1="298.5" y1="368.4" x2="302.8" y2="368.4" stroke="#333" stroke-width="1" />
<text transform="translate(308,373) scale(1,1.08)" font-size="13" text-anchor="start" >0.6</text>
<line x1="298.5" y1="326.4" x2="302.8" y2="326.4" stroke="#333" stroke-width="1" />
<text transform="translate(308,331) scale(1,1.08)" font-size="13" text-anchor="start" >0.8</text>
<line x1="298.5" y1="284.4" x2="302.8" y2="284.4" stroke="#333" stroke-width="1" />
<text transform="translate(308,289) scale(1,1.08)" font-size="13" text-anchor="start" >1.0</text>
<text transform="translate(270.2,267.6) scale(1,1.12)" font-size="15.5" text-anchor="start" ><tspan font-style="italic">R</tspan>/<tspan font-style="italic">R</tspan><tspan font-size="11.5" dy="4">5K</tspan></text>
<defs>
<linearGradient id="c0" gradientUnits="userSpaceOnUse" x1="0" y1="280.5" x2="0" y2="498.5"><stop offset="0" stop-color="#08306b"/><stop offset="0.13" stop-color="#08306b"/><stop offset="0.27" stop-color="#083a7a"/><stop offset="0.35" stop-color="#084387"/><stop offset="0.43" stop-color="#084b93"/><stop offset="0.49" stop-color="#0c56a0"/><stop offset="0.56" stop-color="#1865ac"/><stop offset="0.61" stop-color="#2979b9"/><stop offset="0.67" stop-color="#4997c9"/><stop offset="0.71" stop-color="#69add5"/><stop offset="0.75" stop-color="#aed1e7"/><stop offset="0.79" stop-color="#e7e8ea"/><stop offset="0.83" stop-color="#fcae92"/><stop offset="0.87" stop-color="#fb6e4e"/><stop offset="0.91" stop-color="#e63328"/><stop offset="0.95" stop-color="#cc191e"/><stop offset="0.97" stop-color="#bb141a"/><stop offset="1" stop-color="#ac1117"/></linearGradient>
<linearGradient id="c1" gradientUnits="userSpaceOnUse" x1="0" y1="280.5" x2="0" y2="498.5"><stop offset="0" stop-color="#08306b"/><stop offset="0.13" stop-color="#08306b"/><stop offset="0.27" stop-color="#083776"/><stop offset="0.35" stop-color="#083d7f"/><stop offset="0.43" stop-color="#084488"/><stop offset="0.49" stop-color="#084f99"/><stop offset="0.56" stop-color="#125da6"/><stop offset="0.61" stop-color="#2070b4"/><stop offset="0.67" stop-color="#3d8dc4"/><stop offset="0.71" stop-color="#5aa2cf"/><stop offset="0.75" stop-color="#9ac8e0"/><stop offset="0.79" stop-color="#dee8f2"/><stop offset="0.83" stop-color="#fbc8b3"/><stop offset="0.87" stop-color="#fc8f6f"/><stop offset="0.91" stop-color="#f7593f"/><stop offset="0.95" stop-color="#ee3a2c"/><stop offset="0.97" stop-color="#e02c26"/><stop offset="1" stop-color="#d52221"/></linearGradient>
<linearGradient id="c2" gradientUnits="userSpaceOnUse" x1="0" y1="280.5" x2="0" y2="498.5"><stop offset="0" stop-color="#08306b"/><stop offset="0.13" stop-color="#08306b"/><stop offset="0.27" stop-color="#083776"/><stop offset="0.35" stop-color="#083c7d"/><stop offset="0.43" stop-color="#084387"/><stop offset="0.49" stop-color="#084e98"/><stop offset="0.56" stop-color="#115ca5"/><stop offset="0.61" stop-color="#1f6eb3"/><stop offset="0.67" stop-color="#3c8cc3"/><stop offset="0.71" stop-color="#58a1cf"/><stop offset="0.75" stop-color="#95c5df"/><stop offset="0.79" stop-color="#dce7f1"/><stop offset="0.83" stop-color="#facab6"/><stop offset="0.87" stop-color="#fc9373"/><stop offset="0.91" stop-color="#f85d42"/><stop offset="0.95" stop-color="#f03f2e"/><stop offset="0.97" stop-color="#e32f27"/><stop offset="1" stop-color="#db2824"/></linearGradient>
<linearGradient id="c3" gradientUnits="userSpaceOnUse" x1="0" y1="280.5" x2="0" y2="498.5"><stop offset="0" stop-color="#08306b"/><stop offset="0.13" stop-color="#08306b"/><stop offset="0.27" stop-color="#083776"/><stop offset="0.35" stop-color="#083e81"/><stop offset="0.43" stop-color="#08468b"/><stop offset="0.49" stop-color="#08509b"/><stop offset="0.56" stop-color="#125ea6"/><stop offset="0.61" stop-color="#2171b5"/><stop offset="0.67" stop-color="#3e8ec4"/><stop offset="0.71" stop-color="#5ba3d0"/><stop offset="0.75" stop-color="#95c5df"/><stop offset="0.79" stop-color="#dbe7f1"/><stop offset="0.83" stop-color="#facab6"/><stop offset="0.87" stop-color="#fc9373"/><stop offset="0.91" stop-color="#f96245"/><stop offset="0.95" stop-color="#f03f2e"/><stop offset="0.97" stop-color="#e43027"/><stop offset="1" stop-color="#dd2a25"/></linearGradient>
<linearGradient id="c4" gradientUnits="userSpaceOnUse" x1="0" y1="280.5" x2="0" y2="498.5"><stop offset="0" stop-color="#08306b"/><stop offset="0.13" stop-color="#08306b"/><stop offset="0.27" stop-color="#083674"/><stop offset="0.35" stop-color="#083e81"/><stop offset="0.43" stop-color="#08458a"/><stop offset="0.49" stop-color="#084f99"/><stop offset="0.56" stop-color="#125da6"/><stop offset="0.61" stop-color="#2070b4"/><stop offset="0.67" stop-color="#3d8dc4"/><stop offset="0.71" stop-color="#5ba3d0"/><stop offset="0.75" stop-color="#92c4de"/><stop offset="0.79" stop-color="#d9e5f1"/><stop offset="0.83" stop-color="#facfbd"/><stop offset="0.87" stop-color="#fc9777"/><stop offset="0.91" stop-color="#fa6849"/><stop offset="0.95" stop-color="#f14130"/><stop offset="0.97" stop-color="#e83429"/><stop offset="1" stop-color="#e12d26"/></linearGradient>
<linearGradient id="c5" gradientUnits="userSpaceOnUse" x1="0" y1="280.5" x2="0" y2="498.5"><stop offset="0" stop-color="#08306b"/><stop offset="0.13" stop-color="#08306b"/><stop offset="0.27" stop-color="#083573"/><stop offset="0.35" stop-color="#083c7d"/><stop offset="0.43" stop-color="#084387"/><stop offset="0.49" stop-color="#084e98"/><stop offset="0.56" stop-color="#115ca5"/><stop offset="0.61" stop-color="#206fb4"/><stop offset="0.67" stop-color="#3d8dc4"/><stop offset="0.71" stop-color="#5ba3d0"/><stop offset="0.75" stop-color="#92c4de"/><stop offset="0.79" stop-color="#d8e5f1"/><stop offset="0.83" stop-color="#facfbd"/><stop offset="0.87" stop-color="#fc9272"/><stop offset="0.91" stop-color="#f96245"/><stop offset="0.95" stop-color="#ee3a2c"/><stop offset="0.97" stop-color="#e32f27"/><stop offset="1" stop-color="#dc2924"/></linearGradient>
<linearGradient id="c6" gradientUnits="userSpaceOnUse" x1="0" y1="280.5" x2="0" y2="498.5"><stop offset="0" stop-color="#08306b"/><stop offset="0.13" stop-color="#08306b"/><stop offset="0.27" stop-color="#083370"/><stop offset="0.35" stop-color="#083979"/><stop offset="0.43" stop-color="#083e81"/><stop offset="0.49" stop-color="#084990"/><stop offset="0.56" stop-color="#0c56a0"/><stop offset="0.61" stop-color="#1a68ae"/><stop offset="0.67" stop-color="#3383be"/><stop offset="0.71" stop-color="#4b98ca"/><stop offset="0.75" stop-color="#79b5d9"/><stop offset="0.79" stop-color="#c9ddf0"/><stop offset="0.83" stop-color="#eee5e1"/><stop offset="0.87" stop-color="#fcbda4"/><stop offset="0.91" stop-color="#fc9272"/><stop offset="0.95" stop-color="#fb7555"/><stop offset="0.97" stop-color="#fa6849"/><stop offset="1" stop-color="#f96044"/></linearGradient>
<linearGradient id="c7" gradientUnits="userSpaceOnUse" x1="0" y1="280.5" x2="0" y2="498.5"><stop offset="0" stop-color="#08306b"/><stop offset="0.13" stop-color="#08306b"/><stop offset="0.27" stop-color="#083471"/><stop offset="0.35" stop-color="#083c7d"/><stop offset="0.43" stop-color="#084285"/><stop offset="0.49" stop-color="#084c95"/><stop offset="0.56" stop-color="#0e59a2"/><stop offset="0.61" stop-color="#1d6cb1"/><stop offset="0.67" stop-color="#3888c1"/><stop offset="0.71" stop-color="#539ecd"/><stop offset="0.75" stop-color="#82bbdb"/><stop offset="0.79" stop-color="#ccdff0"/><stop offset="0.83" stop-color="#f4e1d9"/><stop offset="0.87" stop-color="#fcad90"/><stop offset="0.91" stop-color="#fc8060"/><stop offset="0.95" stop-color="#f96044"/><stop offset="0.97" stop-color="#f5523a"/><stop offset="1" stop-color="#f34a36"/></linearGradient>
<linearGradient id="c8" gradientUnits="userSpaceOnUse" x1="0" y1="280.5" x2="0" y2="498.5"><stop offset="0" stop-color="#08306b"/><stop offset="0.13" stop-color="#08306b"/><stop offset="0.27" stop-color="#083573"/><stop offset="0.35" stop-color="#084285"/><stop offset="0.43" stop-color="#08488e"/><stop offset="0.49" stop-color="#0a539e"/><stop offset="0.56" stop-color="#1460a8"/><stop offset="0.61" stop-color="#2272b6"/><stop offset="0.67" stop-color="#3d8dc4"/><stop offset="0.71" stop-color="#5aa2cf"/><stop offset="0.75" stop-color="#89bedc"/><stop offset="0.79" stop-color="#ccdff0"/><stop offset="0.83" stop-color="#f2e2db"/><stop offset="0.87" stop-color="#fcab8f"/><stop offset="0.91" stop-color="#fc7f5f"/><stop offset="0.95" stop-color="#f96044"/><stop offset="0.97" stop-color="#f5523a"/><stop offset="1" stop-color="#f34c37"/></linearGradient>
<linearGradient id="c9" gradientUnits="userSpaceOnUse" x1="0" y1="280.5" x2="0" y2="498.5"><stop offset="0" stop-color="#08306b"/><stop offset="0.13" stop-color="#08306b"/><stop offset="0.27" stop-color="#083573"/><stop offset="0.35" stop-color="#084285"/><stop offset="0.43" stop-color="#084a91"/><stop offset="0.49" stop-color="#0a549e"/><stop offset="0.56" stop-color="#1561a9"/><stop offset="0.61" stop-color="#2272b6"/><stop offset="0.67" stop-color="#3d8dc4"/><stop offset="0.71" stop-color="#5aa2cf"/><stop offset="0.75" stop-color="#85bcdc"/><stop offset="0.79" stop-color="#c8dcf0"/><stop offset="0.83" stop-color="#ece6e4"/><stop offset="0.87" stop-color="#fcb398"/><stop offset="0.91" stop-color="#fc8767"/><stop offset="0.95" stop-color="#fb6b4b"/><stop offset="0.97" stop-color="#f75c41"/><stop offset="1" stop-color="#f6563d"/></linearGradient>
<linearGradient id="c10" gradientUnits="userSpaceOnUse" x1="0" y1="280.5" x2="0" y2="498.5"><stop offset="0" stop-color="#08306b"/><stop offset="0.13" stop-color="#08306b"/><stop offset="0.27" stop-color="#083370"/><stop offset="0.35" stop-color="#083e81"/><stop offset="0.43" stop-color="#08458a"/><stop offset="0.49" stop-color="#084f99"/><stop offset="0.56" stop-color="#115ca5"/><stop offset="0.61" stop-color="#1e6db2"/><stop offset="0.67" stop-color="#3686c0"/><stop offset="0.71" stop-color="#519ccc"/><stop offset="0.75" stop-color="#77b5d9"/><stop offset="0.79" stop-color="#b9d6ea"/><stop offset="0.83" stop-color="#e7e9eb"/><stop offset="0.87" stop-color="#fcc3ac"/><stop offset="0.91" stop-color="#fc9879"/><stop offset="0.95" stop-color="#fb7b5b"/><stop offset="0.97" stop-color="#fb6e4e"/><stop offset="1" stop-color="#fb694a"/></linearGradient>
<linearGradient id="c11" gradientUnits="userSpaceOnUse" x1="0" y1="280.5" x2="0" y2="498.5"><stop offset="0" stop-color="#08306b"/><stop offset="0.13" stop-color="#08306b"/><stop offset="0.27" stop-color="#083370"/><stop offset="0.35" stop-color="#084082"/><stop offset="0.43" stop-color="#08478d"/><stop offset="0.49" stop-color="#08519c"/><stop offset="0.56" stop-color="#125ea6"/><stop offset="0.61" stop-color="#206fb4"/><stop offset="0.67" stop-color="#3888c1"/><stop offset="0.71" stop-color="#539ecd"/><stop offset="0.75" stop-color="#79b5d9"/><stop offset="0.79" stop-color="#b7d4ea"/><stop offset="0.83" stop-color="#e6e9ec"/><stop offset="0.87" stop-color="#fbc4ae"/><stop offset="0.91" stop-color="#fc9474"/><stop offset="0.95" stop-color="#fb7353"/><stop offset="0.97" stop-color="#fa6849"/><stop offset="1" stop-color="#f96044"/></linearGradient>
<linearGradient id="c12" gradientUnits="userSpaceOnUse" x1="0" y1="280.5" x2="0" y2="498.5"><stop offset="0" stop-color="#08306b"/><stop offset="0.27" stop-color="#08306b"/><stop offset="0.35" stop-color="#083b7c"/><stop offset="0.43" stop-color="#084184"/><stop offset="0.49" stop-color="#084a91"/><stop offset="0.56" stop-color="#0d57a1"/><stop offset="0.61" stop-color="#1967ad"/><stop offset="0.67" stop-color="#2e7ebc"/><stop offset="0.71" stop-color="#4695c8"/><stop offset="0.75" stop-color="#65aad4"/><stop offset="0.79" stop-color="#a0cbe2"/><stop offset="0.83" stop-color="#d8e5f1"/><stop offset="0.87" stop-color="#f7ddd0"/><stop offset="0.91" stop-color="#fcb296"/><stop offset="0.95" stop-color="#fc9373"/><stop offset="0.97" stop-color="#fc8666"/><stop offset="1" stop-color="#fc8161"/></linearGradient>
<linearGradient id="c13" gradientUnits="userSpaceOnUse" x1="0" y1="280.5" x2="0" y2="498.5"><stop offset="0" stop-color="#08306b"/><stop offset="0.27" stop-color="#08306b"/><stop offset="0.35" stop-color="#083c7d"/><stop offset="0.43" stop-color="#084285"/><stop offset="0.49" stop-color="#084b93"/><stop offset="0.56" stop-color="#0e58a2"/><stop offset="0.61" stop-color="#1967ad"/><stop offset="0.67" stop-color="#2e7ebc"/><stop offset="0.71" stop-color="#4594c7"/><stop offset="0.75" stop-color="#64a9d3"/><stop offset="0.79" stop-color="#9ac8e0"/><stop offset="0.83" stop-color="#d3e2f1"/><stop offset="0.87" stop-color="#f4e1d8"/><stop offset="0.91" stop-color="#fcb79c"/><stop offset="0.95" stop-color="#fc9879"/><stop offset="0.97" stop-color="#fc8a6a"/><stop offset="1" stop-color="#fc8464"/></linearGradient>
<linearGradient id="c14" gradientUnits="userSpaceOnUse" x1="0" y1="280.5" x2="0" y2="498.5"><stop offset="0" stop-color="#08306b"/><stop offset="0.27" stop-color="#08306b"/><stop offset="0.35" stop-color="#083c7d"/><stop offset="0.43" stop-color="#084387"/><stop offset="0.49" stop-color="#084b93"/><stop offset="0.56" stop-color="#0d57a1"/><stop offset="0.61" stop-color="#1966ad"/><stop offset="0.67" stop-color="#2c7cba"/><stop offset="0.71" stop-color="#4292c6"/><stop offset="0.75" stop-color="#5fa6d1"/><stop offset="0.79" stop-color="#92c4de"/><stop offset="0.83" stop-color="#cddff0"/><stop offset="0.87" stop-color="#ebe7e6"/><stop offset="0.91" stop-color="#fbc4ae"/><stop offset="0.95" stop-color="#fca689"/><stop offset="0.97" stop-color="#fc997a"/><stop offset="1" stop-color="#fc9272"/></linearGradient>
<linearGradient id="c15" gradientUnits="userSpaceOnUse" x1="0" y1="280.5" x2="0" y2="498.5"><stop offset="0" stop-color="#08306b"/><stop offset="0.27" stop-color="#08306b"/><stop offset="0.35" stop-color="#083979"/><stop offset="0.43" stop-color="#083e81"/><stop offset="0.49" stop-color="#08478d"/><stop offset="0.56" stop-color="#0a549e"/><stop offset="0.61" stop-color="#1562a9"/><stop offset="0.67" stop-color="#2777b8"/><stop offset="0.71" stop-color="#3e8ec4"/><stop offset="0.75" stop-color="#5ca4d0"/><stop offset="0.79" stop-color="#8cc0dd"/><stop offset="0.83" stop-color="#c8dcf0"/><stop offset="0.87" stop-color="#e7e7e9"/><stop offset="0.91" stop-color="#facab6"/><stop offset="0.95" stop-color="#fca78b"/><stop offset="0.97" stop-color="#fc997a"/><stop offset="1" stop-color="#fc9373"/></linearGradient>
<linearGradient id="c16" gradientUnits="userSpaceOnUse" x1="0" y1="280.5" x2="0" y2="498.5"><stop offset="0" stop-color="#08306b"/><stop offset="0.27" stop-color="#08306b"/><stop offset="0.35" stop-color="#083776"/><stop offset="0.43" stop-color="#083c7d"/><stop offset="0.49" stop-color="#084387"/><stop offset="0.56" stop-color="#084e98"/><stop offset="0.61" stop-color="#0f5aa3"/><stop offset="0.67" stop-color="#1d6cb1"/><stop offset="0.71" stop-color="#3181bd"/><stop offset="0.75" stop-color="#4896c8"/><stop offset="0.79" stop-color="#6aaed6"/><stop offset="0.83" stop-color="#a3cce3"/><stop offset="0.87" stop-color="#d4e3f1"/><stop offset="0.91" stop-color="#e9e7e7"/><stop offset="0.95" stop-color="#f8d8c9"/><stop offset="0.97" stop-color="#facebb"/><stop offset="1" stop-color="#fbcab6"/></linearGradient>
<linearGradient id="c17" gradientUnits="userSpaceOnUse" x1="0" y1="280.5" x2="0" y2="498.5"><stop offset="0" stop-color="#08306b"/><stop offset="0.27" stop-color="#08306b"/><stop offset="0.35" stop-color="#083a7a"/><stop offset="0.43" stop-color="#084184"/><stop offset="0.49" stop-color="#08488e"/><stop offset="0.56" stop-color="#0a549e"/><stop offset="0.61" stop-color="#1561a9"/><stop offset="0.67" stop-color="#2474b7"/><stop offset="0.71" stop-color="#3a8ac2"/><stop offset="0.75" stop-color="#56a0ce"/><stop offset="0.79" stop-color="#7cb7da"/><stop offset="0.83" stop-color="#afd1e7"/><stop offset="0.87" stop-color="#dae6f1"/><stop offset="0.91" stop-color="#f5e1d8"/><stop offset="0.95" stop-color="#fcc3ac"/><stop offset="0.97" stop-color="#fcb398"/><stop offset="1" stop-color="#fcad90"/></linearGradient>
<linearGradient id="c18" gradientUnits="userSpaceOnUse" x1="0" y1="280.5" x2="0" y2="498.5"><stop offset="0" stop-color="#08306b"/><stop offset="0.27" stop-color="#08306b"/><stop offset="0.35" stop-color="#083776"/><stop offset="0.43" stop-color="#083e81"/><stop offset="0.49" stop-color="#084488"/><stop offset="0.56" stop-color="#08509b"/><stop offset="0.61" stop-color="#105ba4"/><stop offset="0.67" stop-color="#1f6eb3"/><stop offset="0.71" stop-color="#3282be"/><stop offset="0.75" stop-color="#4997c9"/><stop offset="0.79" stop-color="#68acd5"/><stop offset="0.83" stop-color="#99c7e0"/><stop offset="0.87" stop-color="#ccdff0"/><stop offset="0.91" stop-color="#e7e8eb"/><stop offset="0.95" stop-color="#f7dcd0"/><stop offset="0.97" stop-color="#fad0be"/><stop offset="1" stop-color="#fbc9b4"/></linearGradient>
<linearGradient id="c19" gradientUnits="userSpaceOnUse" x1="0" y1="280.5" x2="0" y2="498.5"><stop offset="0" stop-color="#08306b"/><stop offset="0.27" stop-color="#08306b"/><stop offset="0.35" stop-color="#083471"/><stop offset="0.43" stop-color="#083b7c"/><stop offset="0.49" stop-color="#084184"/><stop offset="0.56" stop-color="#084c95"/><stop offset="0.61" stop-color="#0e58a2"/><stop offset="0.67" stop-color="#1b69af"/><stop offset="0.71" stop-color="#2c7cba"/><stop offset="0.75" stop-color="#4191c6"/><stop offset="0.79" stop-color="#5da5d1"/><stop offset="0.83" stop-color="#8abfdd"/><stop offset="0.87" stop-color="#c1d9ed"/><stop offset="0.91" stop-color="#dee8f2"/><stop offset="0.95" stop-color="#eee5e1"/><stop offset="0.97" stop-color="#f7ddd1"/><stop offset="1" stop-color="#f8d9ca"/></linearGradient>
<linearGradient id="c20" gradientUnits="userSpaceOnUse" x1="0" y1="280.5" x2="0" y2="498.5"><stop offset="0" stop-color="#08306b"/><stop offset="0.27" stop-color="#08306b"/><stop offset="0.35" stop-color="#083573"/><stop offset="0.43" stop-color="#083e81"/><stop offset="0.49" stop-color="#084488"/><stop offset="0.56" stop-color="#084f99"/><stop offset="0.61" stop-color="#0f5aa3"/><stop offset="0.67" stop-color="#1c6ab0"/><stop offset="0.71" stop-color="#2c7cba"/><stop offset="0.75" stop-color="#4090c5"/><stop offset="0.79" stop-color="#5aa2cf"/><stop offset="0.83" stop-color="#82bbdb"/><stop offset="0.87" stop-color="#b3d3e8"/><stop offset="0.91" stop-color="#d5e4f1"/><stop offset="0.95" stop-color="#e7e8e9"/><stop offset="0.97" stop-color="#eee5e1"/><stop offset="1" stop-color="#f4e1d9"/></linearGradient>
<linearGradient id="c21" gradientUnits="userSpaceOnUse" x1="0" y1="280.5" x2="0" y2="498.5"><stop offset="0" stop-color="#08306b"/><stop offset="0.27" stop-color="#08306b"/><stop offset="0.35" stop-color="#08326e"/><stop offset="0.43" stop-color="#083b7c"/><stop offset="0.49" stop-color="#084184"/><stop offset="0.56" stop-color="#084b93"/><stop offset="0.61" stop-color="#0b559f"/><stop offset="0.67" stop-color="#1865ac"/><stop offset="0.71" stop-color="#2474b7"/><stop offset="0.75" stop-color="#3888c1"/><stop offset="0.79" stop-color="#4e9acb"/><stop offset="0.83" stop-color="#71b1d7"/><stop offset="0.87" stop-color="#9cc9e1"/><stop offset="0.91" stop-color="#c9ddf0"/><stop offset="0.95" stop-color="#dde8f1"/><stop offset="0.97" stop-color="#e6e9ec"/><stop offset="1" stop-color="#e7e8e9"/></linearGradient>
<linearGradient id="c22" gradientUnits="userSpaceOnUse" x1="0" y1="280.5" x2="0" y2="498.5"><stop offset="0" stop-color="#08306b"/><stop offset="0.27" stop-color="#08306b"/><stop offset="0.35" stop-color="#083573"/><stop offset="0.43" stop-color="#084082"/><stop offset="0.49" stop-color="#08458a"/><stop offset="0.56" stop-color="#084f99"/><stop offset="0.61" stop-color="#0e59a2"/><stop offset="0.67" stop-color="#1b69af"/><stop offset="0.71" stop-color="#2777b8"/><stop offset="0.75" stop-color="#3c8cc3"/><stop offset="0.79" stop-color="#56a0ce"/><stop offset="0.83" stop-color="#77b5d9"/><stop offset="0.87" stop-color="#a1cbe2"/><stop offset="0.91" stop-color="#c9ddf0"/><stop offset="0.95" stop-color="#dce7f1"/><stop offset="0.97" stop-color="#e6e9ec"/><stop offset="1" stop-color="#e7e7e8"/></linearGradient>
<linearGradient id="c23" gradientUnits="userSpaceOnUse" x1="0" y1="280.5" x2="0" y2="498.5"><stop offset="0" stop-color="#08306b"/><stop offset="0.27" stop-color="#08306b"/><stop offset="0.35" stop-color="#08326e"/><stop offset="0.43" stop-color="#083c7d"/><stop offset="0.49" stop-color="#084285"/><stop offset="0.56" stop-color="#084a91"/><stop offset="0.61" stop-color="#0b559f"/><stop offset="0.67" stop-color="#1663aa"/><stop offset="0.71" stop-color="#2171b5"/><stop offset="0.75" stop-color="#3585bf"/><stop offset="0.79" stop-color="#4a98c9"/><stop offset="0.83" stop-color="#66abd4"/><stop offset="0.87" stop-color="#8fc2de"/><stop offset="0.91" stop-color="#b8d5ea"/><stop offset="0.95" stop-color="#d1e1f1"/><stop offset="0.97" stop-color="#dae6f1"/><stop offset="1" stop-color="#dfe9f1"/></linearGradient>
<linearGradient id="c24" gradientUnits="userSpaceOnUse" x1="0" y1="280.5" x2="0" y2="498.5"><stop offset="0" stop-color="#08306b"/><stop offset="0.27" stop-color="#08306b"/><stop offset="0.35" stop-color="#08316d"/><stop offset="0.43" stop-color="#083b7c"/><stop offset="0.49" stop-color="#084184"/><stop offset="0.56" stop-color="#084990"/><stop offset="0.61" stop-color="#0a539e"/><stop offset="0.67" stop-color="#1561a9"/><stop offset="0.71" stop-color="#2070b4"/><stop offset="0.75" stop-color="#3383be"/><stop offset="0.79" stop-color="#4997c9"/><stop offset="0.83" stop-color="#64a9d3"/><stop offset="0.87" stop-color="#8cc0dd"/><stop offset="0.91" stop-color="#afd1e7"/><stop offset="0.95" stop-color="#cddff0"/><stop offset="0.97" stop-color="#d5e4f1"/><stop offset="1" stop-color="#dae6f1"/></linearGradient>
<linearGradient id="c25" gradientUnits="userSpaceOnUse" x1="0" y1="280.5" x2="0" y2="498.5"><stop offset="0" stop-color="#08306b"/><stop offset="0.27" stop-color="#08306b"/><stop offset="0.35" stop-color="#08316d"/><stop offset="0.43" stop-color="#083a7a"/><stop offset="0.49" stop-color="#084082"/><stop offset="0.56" stop-color="#08478d"/><stop offset="0.61" stop-color="#08519c"/><stop offset="0.67" stop-color="#125da6"/><stop offset="0.71" stop-color="#1c6ab0"/><stop offset="0.75" stop-color="#2c7cba"/><stop offset="0.79" stop-color="#3e8ec4"/><stop offset="0.83" stop-color="#56a0ce"/><stop offset="0.87" stop-color="#75b4d8"/><stop offset="0.91" stop-color="#97c6df"/><stop offset="0.95" stop-color="#b7d4ea"/><stop offset="0.97" stop-color="#c7dbef"/><stop offset="1" stop-color="#cadef0"/></linearGradient>
<linearGradient id="c26" gradientUnits="userSpaceOnUse" x1="0" y1="280.5" x2="0" y2="498.5"><stop offset="0" stop-color="#08306b"/><stop offset="0.35" stop-color="#08306b"/><stop offset="0.43" stop-color="#083a7a"/><stop offset="0.49" stop-color="#084082"/><stop offset="0.56" stop-color="#08478d"/><stop offset="0.61" stop-color="#08519c"/><stop offset="0.67" stop-color="#125ea6"/><stop offset="0.71" stop-color="#1d6cb1"/><stop offset="0.75" stop-color="#2e7ebc"/><stop offset="0.79" stop-color="#4292c6"/><stop offset="0.83" stop-color="#5ca4d0"/><stop offset="0.87" stop-color="#7db8da"/><stop offset="0.91" stop-color="#a0cbe2"/><stop offset="0.95" stop-color="#bad6eb"/><stop offset="0.97" stop-color="#c9ddf0"/><stop offset="1" stop-color="#cddff0"/></linearGradient>
<linearGradient id="c27" gradientUnits="userSpaceOnUse" x1="0" y1="280.5" x2="0" y2="498.5"><stop offset="0" stop-color="#08306b"/><stop offset="0.35" stop-color="#08306b"/><stop offset="0.43" stop-color="#083674"/><stop offset="0.49" stop-color="#083c7d"/><stop offset="0.56" stop-color="#084488"/><stop offset="0.61" stop-color="#084d96"/><stop offset="0.67" stop-color="#0e59a2"/><stop offset="0.71" stop-color="#1966ad"/><stop offset="0.75" stop-color="#2575b7"/><stop offset="0.79" stop-color="#3989c1"/><stop offset="0.83" stop-color="#4f9bcb"/><stop offset="0.87" stop-color="#68acd5"/><stop offset="0.91" stop-color="#8abfdd"/><stop offset="0.95" stop-color="#a4cce3"/><stop offset="0.97" stop-color="#b2d2e8"/><stop offset="1" stop-color="#b9d6ea"/></linearGradient>
<linearGradient id="c28" gradientUnits="userSpaceOnUse" x1="0" y1="280.5" x2="0" y2="498.5"><stop offset="0" stop-color="#08306b"/><stop offset="0.35" stop-color="#08306b"/><stop offset="0.43" stop-color="#083573"/><stop offset="0.49" stop-color="#083c7d"/><stop offset="0.56" stop-color="#084387"/><stop offset="0.61" stop-color="#084c95"/><stop offset="0.67" stop-color="#0d57a1"/><stop offset="0.71" stop-color="#1663aa"/><stop offset="0.75" stop-color="#2171b5"/><stop offset="0.79" stop-color="#3484bf"/><stop offset="0.83" stop-color="#4896c8"/><stop offset="0.87" stop-color="#5fa6d1"/><stop offset="0.91" stop-color="#7cb7da"/><stop offset="0.95" stop-color="#97c6df"/><stop offset="0.97" stop-color="#a1cbe2"/><stop offset="1" stop-color="#a8cee4"/></linearGradient>
<linearGradient id="c29" gradientUnits="userSpaceOnUse" x1="0" y1="280.5" x2="0" y2="498.5"><stop offset="0" stop-color="#08306b"/><stop offset="0.35" stop-color="#08306b"/><stop offset="0.43" stop-color="#083674"/><stop offset="0.49" stop-color="#084082"/><stop offset="0.56" stop-color="#08458a"/><stop offset="0.61" stop-color="#084d96"/><stop offset="0.67" stop-color="#0e58a2"/><stop offset="0.71" stop-color="#1562a9"/><stop offset="0.75" stop-color="#2070b4"/><stop offset="0.79" stop-color="#3282be"/><stop offset="0.83" stop-color="#4493c7"/><stop offset="0.87" stop-color="#5aa2cf"/><stop offset="0.91" stop-color="#74b3d8"/><stop offset="0.95" stop-color="#8dc1dd"/><stop offset="0.97" stop-color="#99c7e0"/><stop offset="1" stop-color="#9fcae1"/></linearGradient>
<linearGradient id="c30" gradientUnits="userSpaceOnUse" x1="0" y1="280.5" x2="0" y2="498.5"><stop offset="0" stop-color="#08306b"/><stop offset="0.35" stop-color="#08306b"/><stop offset="0.43" stop-color="#083573"/><stop offset="0.49" stop-color="#083d7f"/><stop offset="0.56" stop-color="#084488"/><stop offset="0.61" stop-color="#084b93"/><stop offset="0.67" stop-color="#0b559f"/><stop offset="0.71" stop-color="#135fa7"/><stop offset="0.75" stop-color="#1d6cb1"/><stop offset="0.79" stop-color="#2d7dbb"/><stop offset="0.83" stop-color="#3e8ec4"/><stop offset="0.87" stop-color="#539ecd"/><stop offset="0.91" stop-color="#68acd5"/><stop offset="0.95" stop-color="#81badb"/><stop offset="0.97" stop-color="#8cc0dd"/><stop offset="1" stop-color="#92c4de"/></linearGradient>
<linearGradient id="c31" gradientUnits="userSpaceOnUse" x1="0" y1="280.5" x2="0" y2="498.5"><stop offset="0" stop-color="#08306b"/><stop offset="0.35" stop-color="#08306b"/><stop offset="0.43" stop-color="#083674"/><stop offset="0.49" stop-color="#083e81"/><stop offset="0.56" stop-color="#084488"/><stop offset="0.61" stop-color="#084b93"/><stop offset="0.67" stop-color="#0b559f"/><stop offset="0.71" stop-color="#125ea6"/><stop offset="0.75" stop-color="#1c6ab0"/><stop offset="0.79" stop-color="#2a7ab9"/><stop offset="0.83" stop-color="#3a8ac2"/><stop offset="0.87" stop-color="#4e9acb"/><stop offset="0.91" stop-color="#60a7d2"/><stop offset="0.95" stop-color="#75b4d8"/><stop offset="0.97" stop-color="#81badb"/><stop offset="1" stop-color="#87bddc"/></linearGradient>
<linearGradient id="c32" gradientUnits="userSpaceOnUse" x1="0" y1="280.5" x2="0" y2="498.5"><stop offset="0" stop-color="#08306b"/><stop offset="0.43" stop-color="#08306b"/><stop offset="0.49" stop-color="#083573"/><stop offset="0.56" stop-color="#083a7a"/><stop offset="0.61" stop-color="#084184"/><stop offset="0.67" stop-color="#084a91"/><stop offset="0.71" stop-color="#0a539e"/><stop offset="0.75" stop-color="#135fa7"/><stop offset="0.79" stop-color="#1e6db2"/><stop offset="0.83" stop-color="#2f7fbc"/><stop offset="0.87" stop-color="#3f8fc5"/><stop offset="0.91" stop-color="#519ccc"/><stop offset="0.95" stop-color="#63a8d3"/><stop offset="0.97" stop-color="#6caed6"/><stop offset="1" stop-color="#72b2d8"/></linearGradient>
<linearGradient id="c33" gradientUnits="userSpaceOnUse" x1="0" y1="280.5" x2="0" y2="498.5"><stop offset="0" stop-color="#08306b"/><stop offset="0.43" stop-color="#08306b"/><stop offset="0.49" stop-color="#083776"/><stop offset="0.56" stop-color="#083d7f"/><stop offset="0.61" stop-color="#084387"/><stop offset="0.67" stop-color="#084d96"/><stop offset="0.71" stop-color="#0c56a0"/><stop offset="0.75" stop-color="#1561a9"/><stop offset="0.79" stop-color="#1f6eb3"/><stop offset="0.83" stop-color="#2f7fbc"/><stop offset="0.87" stop-color="#3f8fc5"/><stop offset="0.91" stop-color="#529dcc"/><stop offset="0.95" stop-color="#61a7d2"/><stop offset="0.97" stop-color="#6aaed6"/><stop offset="1" stop-color="#71b1d7"/></linearGradient>
<linearGradient id="c34" gradientUnits="userSpaceOnUse" x1="0" y1="280.5" x2="0" y2="498.5"><stop offset="0" stop-color="#08306b"/><stop offset="0.43" stop-color="#08306b"/><stop offset="0.49" stop-color="#083573"/><stop offset="0.56" stop-color="#083c7d"/><stop offset="0.61" stop-color="#084285"/><stop offset="0.67" stop-color="#084b93"/><stop offset="0.71" stop-color="#0a539e"/><stop offset="0.75" stop-color="#125da6"/><stop offset="0.79" stop-color="#1c6ab0"/><stop offset="0.83" stop-color="#2a7ab9"/><stop offset="0.87" stop-color="#3989c1"/><stop offset="0.91" stop-color="#4a98c9"/><stop offset="0.95" stop-color="#58a1cf"/><stop offset="0.97" stop-color="#60a7d2"/><stop offset="1" stop-color="#64a9d3"/></linearGradient>
<linearGradient id="c35" gradientUnits="userSpaceOnUse" x1="0" y1="280.5" x2="0" y2="498.5"><stop offset="0" stop-color="#08306b"/><stop offset="0.35" stop-color="#08306b"/><stop offset="0.43" stop-color="#08316d"/><stop offset="0.49" stop-color="#083471"/><stop offset="0.56" stop-color="#083c7d"/><stop offset="0.61" stop-color="#084285"/><stop offset="0.67" stop-color="#084990"/><stop offset="0.71" stop-color="#08519c"/><stop offset="0.75" stop-color="#0f5aa3"/><stop offset="0.79" stop-color="#1966ad"/><stop offset="0.83" stop-color="#2373b6"/><stop offset="0.87" stop-color="#3383be"/><stop offset="0.91" stop-color="#4090c5"/><stop offset="0.95" stop-color="#4e9acb"/><stop offset="0.97" stop-color="#549fcd"/><stop offset="1" stop-color="#58a1cf"/></linearGradient>
<linearGradient id="c36" gradientUnits="userSpaceOnUse" x1="0" y1="280.5" x2="0" y2="498.5"><stop offset="0" stop-color="#08306b"/><stop offset="0.43" stop-color="#08306b"/><stop offset="0.49" stop-color="#08316d"/><stop offset="0.56" stop-color="#083a7a"/><stop offset="0.61" stop-color="#084082"/><stop offset="0.67" stop-color="#08468b"/><stop offset="0.71" stop-color="#084e98"/><stop offset="0.75" stop-color="#0d57a1"/><stop offset="0.79" stop-color="#1562a9"/><stop offset="0.83" stop-color="#206fb4"/><stop offset="0.87" stop-color="#2f7fbc"/><stop offset="0.91" stop-color="#3c8cc3"/><stop offset="0.95" stop-color="#4997c9"/><stop offset="0.97" stop-color="#519ccc"/><stop offset="1" stop-color="#539ecd"/></linearGradient>
<linearGradient id="c37" gradientUnits="userSpaceOnUse" x1="0" y1="280.5" x2="0" y2="498.5"><stop offset="0" stop-color="#08306b"/><stop offset="0.49" stop-color="#08306b"/><stop offset="0.56" stop-color="#083877"/><stop offset="0.61" stop-color="#083d7f"/><stop offset="0.67" stop-color="#084387"/><stop offset="0.71" stop-color="#084a91"/><stop offset="0.75" stop-color="#0a539e"/><stop offset="0.79" stop-color="#125da6"/><stop offset="0.83" stop-color="#1c6ab0"/><stop offset="0.87" stop-color="#2777b8"/><stop offset="0.91" stop-color="#3585bf"/><stop offset="0.95" stop-color="#3f8fc5"/><stop offset="0.97" stop-color="#4695c8"/><stop offset="1" stop-color="#4997c9"/></linearGradient>
<linearGradient id="c38" gradientUnits="userSpaceOnUse" x1="0" y1="280.5" x2="0" y2="498.5"><stop offset="0" stop-color="#08306b"/><stop offset="0.35" stop-color="#08306b"/><stop offset="0.43" stop-color="#08316d"/><stop offset="0.49" stop-color="#083471"/><stop offset="0.56" stop-color="#083b7c"/><stop offset="0.61" stop-color="#084184"/><stop offset="0.67" stop-color="#08468b"/><stop offset="0.71" stop-color="#084d96"/><stop offset="0.75" stop-color="#0b559f"/><stop offset="0.79" stop-color="#135fa7"/><stop offset="0.83" stop-color="#1c6bb0"/><stop offset="0.87" stop-color="#2979b9"/><stop offset="0.91" stop-color="#3686c0"/><stop offset="0.95" stop-color="#4191c6"/><stop offset="0.97" stop-color="#4896c8"/><stop offset="1" stop-color="#4a98c9"/></linearGradient>
<linearGradient id="c39" gradientUnits="userSpaceOnUse" x1="0" y1="280.5" x2="0" y2="498.5"><stop offset="0" stop-color="#08306b"/><stop offset="0.43" stop-color="#08306b"/><stop offset="0.49" stop-color="#08326e"/><stop offset="0.56" stop-color="#083776"/><stop offset="0.61" stop-color="#083e81"/><stop offset="0.67" stop-color="#084488"/><stop offset="0.71" stop-color="#084a91"/><stop offset="0.75" stop-color="#09529d"/><stop offset="0.79" stop-color="#115ca5"/><stop offset="0.83" stop-color="#1a68ae"/><stop offset="0.87" stop-color="#2575b7"/><stop offset="0.91" stop-color="#3383be"/><stop offset="0.95" stop-color="#3e8ec4"/><stop offset="0.97" stop-color="#4493c7"/><stop offset="1" stop-color="#4896c8"/></linearGradient>
<linearGradient id="c40" gradientUnits="userSpaceOnUse" x1="0" y1="280.5" x2="0" y2="498.5"><stop offset="0" stop-color="#08306b"/><stop offset="0.49" stop-color="#08306b"/><stop offset="0.56" stop-color="#08316d"/><stop offset="0.61" stop-color="#083877"/><stop offset="0.67" stop-color="#083d7f"/><stop offset="0.71" stop-color="#084285"/><stop offset="0.75" stop-color="#084a91"/><stop offset="0.79" stop-color="#0a539e"/><stop offset="0.83" stop-color="#125da6"/><stop offset="0.87" stop-color="#1b69af"/><stop offset="0.91" stop-color="#2575b7"/><stop offset="0.95" stop-color="#3080bd"/><stop offset="0.97" stop-color="#3585bf"/><stop offset="1" stop-color="#3888c1"/></linearGradient>
<linearGradient id="c41" gradientUnits="userSpaceOnUse" x1="0" y1="280.5" x2="0" y2="498.5"><stop offset="0" stop-color="#08306b"/><stop offset="0.35" stop-color="#08306b"/><stop offset="0.43" stop-color="#08316d"/><stop offset="0.49" stop-color="#083573"/><stop offset="0.56" stop-color="#083776"/><stop offset="0.61" stop-color="#083e81"/><stop offset="0.67" stop-color="#084387"/><stop offset="0.71" stop-color="#08478d"/><stop offset="0.75" stop-color="#084e98"/><stop offset="0.79" stop-color="#0c56a0"/><stop offset="0.83" stop-color="#135fa7"/><stop offset="0.87" stop-color="#1c6ab0"/><stop offset="0.91" stop-color="#2575b7"/><stop offset="0.95" stop-color="#3080bd"/><stop offset="0.97" stop-color="#3484bf"/><stop offset="1" stop-color="#3787c0"/></linearGradient>
<linearGradient id="c42" gradientUnits="userSpaceOnUse" x1="0" y1="280.5" x2="0" y2="498.5"><stop offset="0" stop-color="#08306b"/><stop offset="0.43" stop-color="#08306b"/><stop offset="0.49" stop-color="#083370"/><stop offset="0.56" stop-color="#083573"/><stop offset="0.61" stop-color="#083a7a"/><stop offset="0.67" stop-color="#084082"/><stop offset="0.71" stop-color="#084488"/><stop offset="0.75" stop-color="#084990"/><stop offset="0.79" stop-color="#08509b"/><stop offset="0.83" stop-color="#0e59a2"/><stop offset="0.87" stop-color="#1562a9"/><stop offset="0.91" stop-color="#1d6cb1"/><stop offset="0.95" stop-color="#2575b7"/><stop offset="0.97" stop-color="#2b7bba"/><stop offset="1" stop-color="#2d7dbb"/></linearGradient>
<linearGradient id="c43" gradientUnits="userSpaceOnUse" x1="0" y1="280.5" x2="0" y2="498.5"><stop offset="0" stop-color="#08306b"/><stop offset="0.56" stop-color="#08306b"/><stop offset="0.61" stop-color="#08326e"/><stop offset="0.67" stop-color="#083979"/><stop offset="0.71" stop-color="#083d7f"/><stop offset="0.75" stop-color="#084184"/><stop offset="0.79" stop-color="#084990"/><stop offset="0.83" stop-color="#08519c"/><stop offset="0.87" stop-color="#0e59a2"/><stop offset="0.91" stop-color="#1663aa"/><stop offset="0.95" stop-color="#1d6cb1"/><stop offset="0.97" stop-color="#2070b4"/><stop offset="1" stop-color="#2272b6"/></linearGradient>
<linearGradient id="c44" gradientUnits="userSpaceOnUse" x1="0" y1="280.5" x2="0" y2="498.5"><stop offset="0" stop-color="#08306b"/><stop offset="0.43" stop-color="#08306b"/><stop offset="0.49" stop-color="#08316d"/><stop offset="0.56" stop-color="#083370"/><stop offset="0.61" stop-color="#083573"/><stop offset="0.67" stop-color="#083c7d"/><stop offset="0.71" stop-color="#084082"/><stop offset="0.75" stop-color="#084488"/><stop offset="0.79" stop-color="#084990"/><stop offset="0.83" stop-color="#08519c"/><stop offset="0.87" stop-color="#0e59a2"/><stop offset="0.91" stop-color="#1562a9"/><stop offset="0.95" stop-color="#1c6ab0"/><stop offset="0.97" stop-color="#1f6eb3"/><stop offset="1" stop-color="#2070b4"/></linearGradient>
<linearGradient id="c45" gradientUnits="userSpaceOnUse" x1="0" y1="280.5" x2="0" y2="498.5"><stop offset="0" stop-color="#08306b"/><stop offset="0.61" stop-color="#08306b"/><stop offset="0.67" stop-color="#083674"/><stop offset="0.71" stop-color="#083a7a"/><stop offset="0.75" stop-color="#083e81"/><stop offset="0.79" stop-color="#084387"/><stop offset="0.83" stop-color="#084b93"/><stop offset="0.87" stop-color="#0a539e"/><stop offset="0.91" stop-color="#115ca5"/><stop offset="0.95" stop-color="#1764ab"/><stop offset="0.97" stop-color="#1a68ae"/><stop offset="1" stop-color="#1c6bb0"/></linearGradient>
<linearGradient id="c46" gradientUnits="userSpaceOnUse" x1="0" y1="280.5" x2="0" y2="498.5"><stop offset="0" stop-color="#08306b"/><stop offset="0.43" stop-color="#08306b"/><stop offset="0.49" stop-color="#08316d"/><stop offset="0.56" stop-color="#083471"/><stop offset="0.61" stop-color="#083573"/><stop offset="0.67" stop-color="#083877"/><stop offset="0.71" stop-color="#083d7f"/><stop offset="0.75" stop-color="#084285"/><stop offset="0.79" stop-color="#08458a"/><stop offset="0.83" stop-color="#084c95"/><stop offset="0.87" stop-color="#0a539e"/><stop offset="0.91" stop-color="#0f5aa3"/><stop offset="0.95" stop-color="#1562a9"/><stop offset="0.97" stop-color="#1966ad"/><stop offset="1" stop-color="#1a68ae"/></linearGradient>
<linearGradient id="c47" gradientUnits="userSpaceOnUse" x1="0" y1="280.5" x2="0" y2="498.5"><stop offset="0" stop-color="#08306b"/><stop offset="0.56" stop-color="#08306b"/><stop offset="0.61" stop-color="#08316d"/><stop offset="0.67" stop-color="#08326e"/><stop offset="0.71" stop-color="#083776"/><stop offset="0.75" stop-color="#083b7c"/><stop offset="0.79" stop-color="#084082"/><stop offset="0.83" stop-color="#084488"/><stop offset="0.87" stop-color="#084c95"/><stop offset="0.91" stop-color="#0a539e"/><stop offset="0.95" stop-color="#0f5aa3"/><stop offset="0.97" stop-color="#125da6"/><stop offset="1" stop-color="#135fa7"/></linearGradient>
<linearGradient id="c48" gradientUnits="userSpaceOnUse" x1="0" y1="280.5" x2="0" y2="498.5"><stop offset="0" stop-color="#08306b"/><stop offset="0.67" stop-color="#08306b"/><stop offset="0.71" stop-color="#08326e"/><stop offset="0.75" stop-color="#083776"/><stop offset="0.79" stop-color="#083b7c"/><stop offset="0.83" stop-color="#084082"/><stop offset="0.87" stop-color="#08458a"/><stop offset="0.91" stop-color="#084c95"/><stop offset="0.95" stop-color="#09529d"/><stop offset="0.97" stop-color="#0b559f"/><stop offset="1" stop-color="#0d57a1"/></linearGradient>
<linearGradient id="c49" gradientUnits="userSpaceOnUse" x1="0" y1="280.5" x2="0" y2="498.5"><stop offset="0" stop-color="#08306b"/><stop offset="0.61" stop-color="#08306b"/><stop offset="0.67" stop-color="#08316d"/><stop offset="0.71" stop-color="#08326e"/><stop offset="0.75" stop-color="#083674"/><stop offset="0.79" stop-color="#083a7a"/><stop offset="0.83" stop-color="#083e81"/><stop offset="0.87" stop-color="#084387"/><stop offset="0.91" stop-color="#084990"/><stop offset="0.95" stop-color="#084f99"/><stop offset="0.97" stop-color="#09529d"/><stop offset="1" stop-color="#0a539e"/></linearGradient>
<linearGradient id="c50" gradientUnits="userSpaceOnUse" x1="0" y1="280.5" x2="0" y2="498.5"><stop offset="0" stop-color="#08306b"/><stop offset="0.71" stop-color="#08306b"/><stop offset="0.75" stop-color="#08326e"/><stop offset="0.79" stop-color="#083776"/><stop offset="0.83" stop-color="#083b7c"/><stop offset="0.87" stop-color="#084082"/><stop offset="0.91" stop-color="#084488"/><stop offset="0.95" stop-color="#084a91"/><stop offset="0.97" stop-color="#084d96"/><stop offset="1" stop-color="#084e98"/></linearGradient>
<linearGradient id="c51" gradientUnits="userSpaceOnUse" x1="0" y1="280.5" x2="0" y2="498.5"><stop offset="0" stop-color="#08306b"/><stop offset="0.56" stop-color="#08306b"/><stop offset="0.61" stop-color="#08316d"/><stop offset="0.67" stop-color="#08326e"/><stop offset="0.71" stop-color="#08326e"/><stop offset="0.75" stop-color="#083370"/><stop offset="0.79" stop-color="#083674"/><stop offset="0.83" stop-color="#083b7c"/><stop offset="0.87" stop-color="#083e81"/><stop offset="0.91" stop-color="#084285"/><stop offset="0.95" stop-color="#08468b"/><stop offset="0.97" stop-color="#08488e"/><stop offset="1" stop-color="#084a91"/></linearGradient>
<linearGradient id="c52" gradientUnits="userSpaceOnUse" x1="0" y1="280.5" x2="0" y2="498.5"><stop offset="0" stop-color="#08306b"/><stop offset="0.61" stop-color="#08306b"/><stop offset="0.67" stop-color="#08316d"/><stop offset="0.71" stop-color="#08326e"/><stop offset="0.75" stop-color="#083370"/><stop offset="0.79" stop-color="#083471"/><stop offset="0.83" stop-color="#083877"/><stop offset="0.87" stop-color="#083b7c"/><stop offset="0.91" stop-color="#083e81"/><stop offset="0.95" stop-color="#084285"/><stop offset="0.97" stop-color="#084488"/><stop offset="1" stop-color="#08458a"/></linearGradient>
<linearGradient id="c53" gradientUnits="userSpaceOnUse" x1="0" y1="280.5" x2="0" y2="498.5"><stop offset="0" stop-color="#08306b"/><stop offset="0.61" stop-color="#08306b"/><stop offset="0.67" stop-color="#08316d"/><stop offset="0.71" stop-color="#08316d"/><stop offset="0.75" stop-color="#08326e"/><stop offset="0.79" stop-color="#08326e"/><stop offset="0.83" stop-color="#083471"/><stop offset="0.87" stop-color="#083877"/><stop offset="0.91" stop-color="#083b7c"/><stop offset="0.95" stop-color="#083d7f"/><stop offset="0.97" stop-color="#084082"/><stop offset="1" stop-color="#084082"/></linearGradient>
<linearGradient id="c54" gradientUnits="userSpaceOnUse" x1="0" y1="280.5" x2="0" y2="498.5"><stop offset="0" stop-color="#08306b"/><stop offset="0.75" stop-color="#08306b"/><stop offset="0.79" stop-color="#08316d"/><stop offset="0.83" stop-color="#08316d"/><stop offset="0.87" stop-color="#083370"/><stop offset="0.91" stop-color="#083776"/><stop offset="0.95" stop-color="#083979"/><stop offset="0.97" stop-color="#083b7c"/><stop offset="1" stop-color="#083b7c"/></linearGradient>
<linearGradient id="c55" gradientUnits="userSpaceOnUse" x1="0" y1="280.5" x2="0" y2="498.5"><stop offset="0" stop-color="#08306b"/><stop offset="1" stop-color="#08306b"/></linearGradient>
<linearGradient id="c56" gradientUnits="userSpaceOnUse" x1="0" y1="280.5" x2="0" y2="498.5"><stop offset="0" stop-color="#08306b"/><stop offset="0.67" stop-color="#08306b"/><stop offset="0.71" stop-color="#08316d"/><stop offset="0.79" stop-color="#08316d"/><stop offset="0.83" stop-color="#08326e"/><stop offset="0.87" stop-color="#08326e"/><stop offset="0.91" stop-color="#083370"/><stop offset="0.95" stop-color="#083471"/><stop offset="0.97" stop-color="#083573"/><stop offset="1" stop-color="#083573"/></linearGradient>
<linearGradient id="c57" gradientUnits="userSpaceOnUse" x1="0" y1="280.5" x2="0" y2="498.5"><stop offset="0" stop-color="#08306b"/><stop offset="0.91" stop-color="#08306b"/><stop offset="0.95" stop-color="#08316d"/><stop offset="0.97" stop-color="#08326e"/><stop offset="1" stop-color="#083370"/></linearGradient>
<linearGradient id="c58" gradientUnits="userSpaceOnUse" x1="0" y1="280.5" x2="0" y2="498.5"><stop offset="0" stop-color="#08306b"/><stop offset="0.61" stop-color="#08306b"/><stop offset="0.67" stop-color="#08316d"/><stop offset="0.71" stop-color="#08316d"/><stop offset="0.75" stop-color="#08326e"/><stop offset="0.79" stop-color="#083370"/><stop offset="0.83" stop-color="#083370"/><stop offset="0.87" stop-color="#083573"/><stop offset="0.91" stop-color="#083877"/><stop offset="0.95" stop-color="#083b7c"/><stop offset="0.97" stop-color="#083c7d"/><stop offset="1" stop-color="#083c7d"/></linearGradient>
<linearGradient id="c59" gradientUnits="userSpaceOnUse" x1="0" y1="280.5" x2="0" y2="498.5"><stop offset="0" stop-color="#08306b"/><stop offset="0.49" stop-color="#08306b"/><stop offset="0.56" stop-color="#08316d"/><stop offset="0.61" stop-color="#083370"/><stop offset="0.67" stop-color="#083471"/><stop offset="0.71" stop-color="#083573"/><stop offset="0.75" stop-color="#083573"/><stop offset="0.79" stop-color="#083674"/><stop offset="0.83" stop-color="#083877"/><stop offset="0.87" stop-color="#083b7c"/><stop offset="0.91" stop-color="#084082"/><stop offset="0.95" stop-color="#084285"/><stop offset="0.97" stop-color="#084488"/><stop offset="1" stop-color="#084488"/></linearGradient>
<linearGradient id="c60" gradientUnits="userSpaceOnUse" x1="0" y1="280.5" x2="0" y2="498.5"><stop offset="0" stop-color="#08306b"/><stop offset="0.56" stop-color="#08306b"/><stop offset="0.61" stop-color="#08316d"/><stop offset="0.67" stop-color="#08326e"/><stop offset="0.71" stop-color="#083370"/><stop offset="0.75" stop-color="#083471"/><stop offset="0.79" stop-color="#083573"/><stop offset="0.83" stop-color="#083979"/><stop offset="0.87" stop-color="#083d7f"/><stop offset="0.91" stop-color="#084184"/><stop offset="0.95" stop-color="#084488"/><stop offset="0.97" stop-color="#08468b"/><stop offset="1" stop-color="#08478d"/></linearGradient>
<linearGradient id="c61" gradientUnits="userSpaceOnUse" x1="0" y1="280.5" x2="0" y2="498.5"><stop offset="0" stop-color="#08306b"/><stop offset="0.67" stop-color="#08306b"/><stop offset="0.71" stop-color="#08316d"/><stop offset="0.75" stop-color="#08316d"/><stop offset="0.79" stop-color="#083471"/><stop offset="0.83" stop-color="#083979"/><stop offset="0.87" stop-color="#083c7d"/><stop offset="0.91" stop-color="#084082"/><stop offset="0.95" stop-color="#084488"/><stop offset="0.97" stop-color="#08468b"/><stop offset="1" stop-color="#08488e"/></linearGradient>
<linearGradient id="c62" gradientUnits="userSpaceOnUse" x1="0" y1="280.5" x2="0" y2="498.5"><stop offset="0" stop-color="#08306b"/><stop offset="0.61" stop-color="#08306b"/><stop offset="0.67" stop-color="#08316d"/><stop offset="0.71" stop-color="#08326e"/><stop offset="0.75" stop-color="#083471"/><stop offset="0.79" stop-color="#083979"/><stop offset="0.83" stop-color="#083d7f"/><stop offset="0.87" stop-color="#084184"/><stop offset="0.91" stop-color="#08468b"/><stop offset="0.95" stop-color="#084b93"/><stop offset="0.97" stop-color="#084e98"/><stop offset="1" stop-color="#08509b"/></linearGradient>
<linearGradient id="c63" gradientUnits="userSpaceOnUse" x1="0" y1="280.5" x2="0" y2="498.5"><stop offset="0" stop-color="#08306b"/><stop offset="0.56" stop-color="#08306b"/><stop offset="0.61" stop-color="#08316d"/><stop offset="0.67" stop-color="#08326e"/><stop offset="0.71" stop-color="#083370"/><stop offset="0.75" stop-color="#083776"/><stop offset="0.79" stop-color="#083b7c"/><stop offset="0.83" stop-color="#084082"/><stop offset="0.87" stop-color="#084488"/><stop offset="0.91" stop-color="#084a91"/><stop offset="0.95" stop-color="#08509b"/><stop offset="0.97" stop-color="#0a539e"/><stop offset="1" stop-color="#0a549e"/></linearGradient>
<linearGradient id="c64" gradientUnits="userSpaceOnUse" x1="0" y1="280.5" x2="0" y2="498.5"><stop offset="0" stop-color="#08306b"/><stop offset="0.67" stop-color="#08306b"/><stop offset="0.71" stop-color="#083370"/><stop offset="0.75" stop-color="#083877"/><stop offset="0.79" stop-color="#083b7c"/><stop offset="0.83" stop-color="#084082"/><stop offset="0.87" stop-color="#08458a"/><stop offset="0.91" stop-color="#084c95"/><stop offset="0.95" stop-color="#09529d"/><stop offset="0.97" stop-color="#0b559f"/><stop offset="1" stop-color="#0d57a1"/></linearGradient>
<linearGradient id="c65" gradientUnits="userSpaceOnUse" x1="0" y1="280.5" x2="0" y2="498.5"><stop offset="0" stop-color="#08306b"/><stop offset="0.61" stop-color="#08306b"/><stop offset="0.67" stop-color="#08316d"/><stop offset="0.71" stop-color="#083674"/><stop offset="0.75" stop-color="#083a7a"/><stop offset="0.79" stop-color="#083e81"/><stop offset="0.83" stop-color="#084387"/><stop offset="0.87" stop-color="#084a91"/><stop offset="0.91" stop-color="#08519c"/><stop offset="0.95" stop-color="#0e58a2"/><stop offset="0.97" stop-color="#115ca5"/><stop offset="1" stop-color="#125ea6"/></linearGradient>
<linearGradient id="c66" gradientUnits="userSpaceOnUse" x1="0" y1="280.5" x2="0" y2="498.5"><stop offset="0" stop-color="#08306b"/><stop offset="0.61" stop-color="#08306b"/><stop offset="0.67" stop-color="#08326e"/><stop offset="0.71" stop-color="#083776"/><stop offset="0.75" stop-color="#083b7c"/><stop offset="0.79" stop-color="#084082"/><stop offset="0.83" stop-color="#08468b"/><stop offset="0.87" stop-color="#084d96"/><stop offset="0.91" stop-color="#0b559f"/><stop offset="0.95" stop-color="#125da6"/><stop offset="0.97" stop-color="#1460a8"/><stop offset="1" stop-color="#1562a9"/></linearGradient>
<linearGradient id="c67" gradientUnits="userSpaceOnUse" x1="0" y1="280.5" x2="0" y2="498.5"><stop offset="0" stop-color="#08306b"/><stop offset="0.43" stop-color="#08306b"/><stop offset="0.49" stop-color="#08326e"/><stop offset="0.56" stop-color="#083471"/><stop offset="0.61" stop-color="#083674"/><stop offset="0.67" stop-color="#083b7c"/><stop offset="0.71" stop-color="#084082"/><stop offset="0.75" stop-color="#084488"/><stop offset="0.79" stop-color="#08488e"/><stop offset="0.83" stop-color="#084f99"/><stop offset="0.87" stop-color="#0d57a1"/><stop offset="0.91" stop-color="#135fa7"/><stop offset="0.95" stop-color="#1a68ae"/><stop offset="0.97" stop-color="#1d6cb1"/><stop offset="1" stop-color="#1f6eb3"/></linearGradient>
<linearGradient id="c68" gradientUnits="userSpaceOnUse" x1="0" y1="280.5" x2="0" y2="498.5"><stop offset="0" stop-color="#08306b"/><stop offset="0.49" stop-color="#08306b"/><stop offset="0.56" stop-color="#08326e"/><stop offset="0.61" stop-color="#083370"/><stop offset="0.67" stop-color="#083b7c"/><stop offset="0.71" stop-color="#084082"/><stop offset="0.75" stop-color="#084488"/><stop offset="0.79" stop-color="#084a91"/><stop offset="0.83" stop-color="#09529d"/><stop offset="0.87" stop-color="#105ba4"/><stop offset="0.91" stop-color="#1865ac"/><stop offset="0.95" stop-color="#1f6eb3"/><stop offset="0.97" stop-color="#2373b6"/><stop offset="1" stop-color="#2575b7"/></linearGradient>
<linearGradient id="c69" gradientUnits="userSpaceOnUse" x1="0" y1="280.5" x2="0" y2="498.5"><stop offset="0" stop-color="#08306b"/><stop offset="0.43" stop-color="#08306b"/><stop offset="0.49" stop-color="#08326e"/><stop offset="0.56" stop-color="#083471"/><stop offset="0.61" stop-color="#083776"/><stop offset="0.67" stop-color="#083d7f"/><stop offset="0.71" stop-color="#084285"/><stop offset="0.75" stop-color="#08468b"/><stop offset="0.79" stop-color="#084d96"/><stop offset="0.83" stop-color="#0b559f"/><stop offset="0.87" stop-color="#125da6"/><stop offset="0.91" stop-color="#1967ad"/><stop offset="0.95" stop-color="#206fb4"/><stop offset="0.97" stop-color="#2373b6"/><stop offset="1" stop-color="#2676b8"/></linearGradient>
<linearGradient id="c70" gradientUnits="userSpaceOnUse" x1="0" y1="280.5" x2="0" y2="498.5"><stop offset="0" stop-color="#08306b"/><stop offset="0.49" stop-color="#08306b"/><stop offset="0.56" stop-color="#08326e"/><stop offset="0.61" stop-color="#083776"/><stop offset="0.67" stop-color="#083d7f"/><stop offset="0.71" stop-color="#084184"/><stop offset="0.75" stop-color="#08478d"/><stop offset="0.79" stop-color="#084f99"/><stop offset="0.83" stop-color="#0e58a2"/><stop offset="0.87" stop-color="#1562a9"/><stop offset="0.91" stop-color="#1e6db2"/><stop offset="0.95" stop-color="#2676b8"/><stop offset="0.97" stop-color="#2c7cba"/><stop offset="1" stop-color="#2e7ebc"/></linearGradient>
<linearGradient id="c71" gradientUnits="userSpaceOnUse" x1="0" y1="280.5" x2="0" y2="498.5"><stop offset="0" stop-color="#08306b"/><stop offset="0.43" stop-color="#08306b"/><stop offset="0.49" stop-color="#08316d"/><stop offset="0.56" stop-color="#083370"/><stop offset="0.61" stop-color="#083a7a"/><stop offset="0.67" stop-color="#084082"/><stop offset="0.71" stop-color="#084488"/><stop offset="0.75" stop-color="#084b93"/><stop offset="0.79" stop-color="#0a539e"/><stop offset="0.83" stop-color="#115ca5"/><stop offset="0.87" stop-color="#1a68ae"/><stop offset="0.91" stop-color="#2373b6"/><stop offset="0.95" stop-color="#2e7ebc"/><stop offset="0.97" stop-color="#3282be"/><stop offset="1" stop-color="#3585bf"/></linearGradient>
<linearGradient id="c72" gradientUnits="userSpaceOnUse" x1="0" y1="280.5" x2="0" y2="498.5"><stop offset="0" stop-color="#08306b"/><stop offset="0.49" stop-color="#08306b"/><stop offset="0.56" stop-color="#083370"/><stop offset="0.61" stop-color="#083a7a"/><stop offset="0.67" stop-color="#084082"/><stop offset="0.71" stop-color="#084488"/><stop offset="0.75" stop-color="#084c95"/><stop offset="0.79" stop-color="#0a549e"/><stop offset="0.83" stop-color="#125ea6"/><stop offset="0.87" stop-color="#1c6ab0"/><stop offset="0.91" stop-color="#2575b7"/><stop offset="0.95" stop-color="#3080bd"/><stop offset="0.97" stop-color="#3585bf"/><stop offset="1" stop-color="#3888c1"/></linearGradient>
<linearGradient id="c73" gradientUnits="userSpaceOnUse" x1="0" y1="280.5" x2="0" y2="498.5"><stop offset="0" stop-color="#08306b"/><stop offset="0.43" stop-color="#08306b"/><stop offset="0.49" stop-color="#083370"/><stop offset="0.56" stop-color="#083877"/><stop offset="0.61" stop-color="#083e81"/><stop offset="0.67" stop-color="#084488"/><stop offset="0.71" stop-color="#084990"/><stop offset="0.75" stop-color="#08519c"/><stop offset="0.79" stop-color="#0f5aa3"/><stop offset="0.83" stop-color="#1966ad"/><stop offset="0.87" stop-color="#2272b6"/><stop offset="0.91" stop-color="#2f7fbc"/><stop offset="0.95" stop-color="#3a8ac2"/><stop offset="0.97" stop-color="#3f8fc5"/><stop offset="1" stop-color="#4191c6"/></linearGradient>
<linearGradient id="c74" gradientUnits="userSpaceOnUse" x1="0" y1="280.5" x2="0" y2="498.5"><stop offset="0" stop-color="#08306b"/><stop offset="0.35" stop-color="#08306b"/><stop offset="0.43" stop-color="#08316d"/><stop offset="0.49" stop-color="#083471"/><stop offset="0.56" stop-color="#083b7c"/><stop offset="0.61" stop-color="#084285"/><stop offset="0.67" stop-color="#08478d"/><stop offset="0.71" stop-color="#084e98"/><stop offset="0.75" stop-color="#0c56a0"/><stop offset="0.79" stop-color="#1460a8"/><stop offset="0.83" stop-color="#1e6db2"/><stop offset="0.87" stop-color="#2b7bba"/><stop offset="0.91" stop-color="#3888c1"/><stop offset="0.95" stop-color="#4493c7"/><stop offset="0.97" stop-color="#4a98c9"/><stop offset="1" stop-color="#4e9acb"/></linearGradient>
<linearGradient id="c75" gradientUnits="userSpaceOnUse" x1="0" y1="280.5" x2="0" y2="498.5"><stop offset="0" stop-color="#08306b"/><stop offset="0.43" stop-color="#08306b"/><stop offset="0.49" stop-color="#083370"/><stop offset="0.56" stop-color="#083b7c"/><stop offset="0.61" stop-color="#084184"/><stop offset="0.67" stop-color="#08468b"/><stop offset="0.71" stop-color="#084e98"/><stop offset="0.75" stop-color="#0c56a0"/><stop offset="0.79" stop-color="#1561a9"/><stop offset="0.83" stop-color="#1f6eb3"/><stop offset="0.87" stop-color="#2d7dbb"/><stop offset="0.91" stop-color="#3a8ac2"/><stop offset="0.95" stop-color="#4695c8"/><stop offset="0.97" stop-color="#4d99ca"/><stop offset="1" stop-color="#519ccc"/></linearGradient>
<linearGradient id="c76" gradientUnits="userSpaceOnUse" x1="0" y1="280.5" x2="0" y2="498.5"><stop offset="0" stop-color="#08306b"/><stop offset="0.43" stop-color="#08306b"/><stop offset="0.49" stop-color="#08316d"/><stop offset="0.56" stop-color="#083a7a"/><stop offset="0.61" stop-color="#083e81"/><stop offset="0.67" stop-color="#08468b"/><stop offset="0.71" stop-color="#084e98"/><stop offset="0.75" stop-color="#0d57a1"/><stop offset="0.79" stop-color="#1663aa"/><stop offset="0.83" stop-color="#2070b4"/><stop offset="0.87" stop-color="#3080bd"/><stop offset="0.91" stop-color="#3d8dc4"/><stop offset="0.95" stop-color="#4b98ca"/><stop offset="0.97" stop-color="#529dcc"/><stop offset="1" stop-color="#56a0ce"/></linearGradient>
<linearGradient id="c77" gradientUnits="userSpaceOnUse" x1="0" y1="280.5" x2="0" y2="498.5"><stop offset="0" stop-color="#08306b"/><stop offset="0.43" stop-color="#08306b"/><stop offset="0.49" stop-color="#08326e"/><stop offset="0.56" stop-color="#083b7c"/><stop offset="0.61" stop-color="#084082"/><stop offset="0.67" stop-color="#08488e"/><stop offset="0.71" stop-color="#08509b"/><stop offset="0.75" stop-color="#0f5aa3"/><stop offset="0.79" stop-color="#1967ad"/><stop offset="0.83" stop-color="#2575b7"/><stop offset="0.87" stop-color="#3585bf"/><stop offset="0.91" stop-color="#4594c7"/><stop offset="0.95" stop-color="#539ecd"/><stop offset="0.97" stop-color="#5ba3d0"/><stop offset="1" stop-color="#5fa6d1"/></linearGradient>
<linearGradient id="c78" gradientUnits="userSpaceOnUse" x1="0" y1="280.5" x2="0" y2="498.5"><stop offset="0" stop-color="#08306b"/><stop offset="0.35" stop-color="#08306b"/><stop offset="0.43" stop-color="#083573"/><stop offset="0.49" stop-color="#083a7a"/><stop offset="0.56" stop-color="#084285"/><stop offset="0.61" stop-color="#08478d"/><stop offset="0.67" stop-color="#084f99"/><stop offset="0.71" stop-color="#0d57a1"/><stop offset="0.75" stop-color="#1460a8"/><stop offset="0.79" stop-color="#1e6db2"/><stop offset="0.83" stop-color="#2c7cba"/><stop offset="0.87" stop-color="#3a8ac2"/><stop offset="0.91" stop-color="#4a98c9"/><stop offset="0.95" stop-color="#58a1cf"/><stop offset="0.97" stop-color="#5fa6d1"/><stop offset="1" stop-color="#63a8d3"/></linearGradient>
<linearGradient id="c79" gradientUnits="userSpaceOnUse" x1="0" y1="280.5" x2="0" y2="498.5"><stop offset="0" stop-color="#08306b"/><stop offset="0.35" stop-color="#08306b"/><stop offset="0.43" stop-color="#08316d"/><stop offset="0.49" stop-color="#083877"/><stop offset="0.56" stop-color="#084082"/><stop offset="0.61" stop-color="#08458a"/><stop offset="0.67" stop-color="#084f99"/><stop offset="0.71" stop-color="#0e58a2"/><stop offset="0.75" stop-color="#1663aa"/><stop offset="0.79" stop-color="#2272b6"/><stop offset="0.83" stop-color="#3383be"/><stop offset="0.87" stop-color="#4594c7"/><stop offset="0.91" stop-color="#58a1cf"/><stop offset="0.95" stop-color="#69add5"/><stop offset="0.97" stop-color="#74b3d8"/><stop offset="1" stop-color="#7ab6d9"/></linearGradient>
<linearGradient id="c80" gradientUnits="userSpaceOnUse" x1="0" y1="280.5" x2="0" y2="498.5"><stop offset="0" stop-color="#08306b"/><stop offset="0.35" stop-color="#08306b"/><stop offset="0.43" stop-color="#08316d"/><stop offset="0.49" stop-color="#083a7a"/><stop offset="0.56" stop-color="#084184"/><stop offset="0.61" stop-color="#08478d"/><stop offset="0.67" stop-color="#09529d"/><stop offset="0.71" stop-color="#105ba4"/><stop offset="0.75" stop-color="#1a68ae"/><stop offset="0.79" stop-color="#2777b8"/><stop offset="0.83" stop-color="#3a8ac2"/><stop offset="0.87" stop-color="#4f9bcb"/><stop offset="0.91" stop-color="#64a9d3"/><stop offset="0.95" stop-color="#79b5d9"/><stop offset="0.97" stop-color="#85bcdc"/><stop offset="1" stop-color="#8cc0dd"/></linearGradient>
<linearGradient id="c81" gradientUnits="userSpaceOnUse" x1="0" y1="280.5" x2="0" y2="498.5"><stop offset="0" stop-color="#08306b"/><stop offset="0.35" stop-color="#08306b"/><stop offset="0.43" stop-color="#083776"/><stop offset="0.49" stop-color="#084184"/><stop offset="0.56" stop-color="#08468b"/><stop offset="0.61" stop-color="#084d96"/><stop offset="0.67" stop-color="#0e58a2"/><stop offset="0.71" stop-color="#1561a9"/><stop offset="0.75" stop-color="#206fb4"/><stop offset="0.79" stop-color="#2f7fbc"/><stop offset="0.83" stop-color="#4191c6"/><stop offset="0.87" stop-color="#57a0ce"/><stop offset="0.91" stop-color="#6caed6"/><stop offset="0.95" stop-color="#85bcdc"/><stop offset="0.97" stop-color="#91c3de"/><stop offset="1" stop-color="#97c6df"/></linearGradient>
<linearGradient id="c82" gradientUnits="userSpaceOnUse" x1="0" y1="280.5" x2="0" y2="498.5"><stop offset="0" stop-color="#08306b"/><stop offset="0.35" stop-color="#08306b"/><stop offset="0.43" stop-color="#083776"/><stop offset="0.49" stop-color="#084184"/><stop offset="0.56" stop-color="#08468b"/><stop offset="0.61" stop-color="#084e98"/><stop offset="0.67" stop-color="#0e59a2"/><stop offset="0.71" stop-color="#1663aa"/><stop offset="0.75" stop-color="#2171b5"/><stop offset="0.79" stop-color="#3383be"/><stop offset="0.83" stop-color="#4695c8"/><stop offset="0.87" stop-color="#5ca4d0"/><stop offset="0.91" stop-color="#75b4d8"/><stop offset="0.95" stop-color="#8fc2de"/><stop offset="0.97" stop-color="#9cc9e1"/><stop offset="1" stop-color="#a1cbe2"/></linearGradient>
<linearGradient id="c83" gradientUnits="userSpaceOnUse" x1="0" y1="280.5" x2="0" y2="498.5"><stop offset="0" stop-color="#08306b"/><stop offset="0.35" stop-color="#08306b"/><stop offset="0.43" stop-color="#083674"/><stop offset="0.49" stop-color="#083e81"/><stop offset="0.56" stop-color="#084488"/><stop offset="0.61" stop-color="#084c95"/><stop offset="0.67" stop-color="#0c56a0"/><stop offset="0.71" stop-color="#1561a9"/><stop offset="0.75" stop-color="#1f6eb3"/><stop offset="0.79" stop-color="#2f7fbc"/><stop offset="0.83" stop-color="#4191c6"/><stop offset="0.87" stop-color="#56a0ce"/><stop offset="0.91" stop-color="#6dafd7"/><stop offset="0.95" stop-color="#87bddc"/><stop offset="0.97" stop-color="#92c4de"/><stop offset="1" stop-color="#97c6df"/></linearGradient>
<linearGradient id="c84" gradientUnits="userSpaceOnUse" x1="0" y1="280.5" x2="0" y2="498.5"><stop offset="0" stop-color="#08306b"/><stop offset="0.35" stop-color="#08306b"/><stop offset="0.43" stop-color="#083573"/><stop offset="0.49" stop-color="#083c7d"/><stop offset="0.56" stop-color="#084387"/><stop offset="0.61" stop-color="#084c95"/><stop offset="0.67" stop-color="#0d57a1"/><stop offset="0.71" stop-color="#1663aa"/><stop offset="0.75" stop-color="#2171b5"/><stop offset="0.79" stop-color="#3484bf"/><stop offset="0.83" stop-color="#4997c9"/><stop offset="0.87" stop-color="#5fa6d1"/><stop offset="0.91" stop-color="#7db8da"/><stop offset="0.95" stop-color="#97c6df"/><stop offset="0.97" stop-color="#a3cce3"/><stop offset="1" stop-color="#a8cee4"/></linearGradient>
<linearGradient id="c85" gradientUnits="userSpaceOnUse" x1="0" y1="280.5" x2="0" y2="498.5"><stop offset="0" stop-color="#08306b"/><stop offset="0.27" stop-color="#08306b"/><stop offset="0.35" stop-color="#083573"/><stop offset="0.43" stop-color="#084082"/><stop offset="0.49" stop-color="#08468b"/><stop offset="0.56" stop-color="#084c95"/><stop offset="0.61" stop-color="#0b559f"/><stop offset="0.67" stop-color="#1460a8"/><stop offset="0.71" stop-color="#1e6db2"/><stop offset="0.75" stop-color="#2c7cba"/><stop offset="0.79" stop-color="#3f8fc5"/><stop offset="0.83" stop-color="#56a0ce"/><stop offset="0.87" stop-color="#6fb0d7"/><stop offset="0.91" stop-color="#91c3de"/><stop offset="0.95" stop-color="#a8cee4"/><stop offset="0.97" stop-color="#b5d4e9"/><stop offset="1" stop-color="#bdd7ec"/></linearGradient>
<linearGradient id="c86" gradientUnits="userSpaceOnUse" x1="0" y1="280.5" x2="0" y2="498.5"><stop offset="0" stop-color="#08306b"/><stop offset="0.27" stop-color="#08306b"/><stop offset="0.35" stop-color="#08316d"/><stop offset="0.43" stop-color="#083b7c"/><stop offset="0.49" stop-color="#084184"/><stop offset="0.56" stop-color="#08478d"/><stop offset="0.61" stop-color="#08519c"/><stop offset="0.67" stop-color="#115ca5"/><stop offset="0.71" stop-color="#1c6ab0"/><stop offset="0.75" stop-color="#2b7bba"/><stop offset="0.79" stop-color="#3e8ec4"/><stop offset="0.83" stop-color="#56a0ce"/><stop offset="0.87" stop-color="#72b2d8"/><stop offset="0.91" stop-color="#94c4df"/><stop offset="0.95" stop-color="#afd1e7"/><stop offset="0.97" stop-color="#bfd8ed"/><stop offset="1" stop-color="#c7dbef"/></linearGradient>
<linearGradient id="c87" gradientUnits="userSpaceOnUse" x1="0" y1="280.5" x2="0" y2="498.5"><stop offset="0" stop-color="#08306b"/><stop offset="0.27" stop-color="#08306b"/><stop offset="0.35" stop-color="#08326e"/><stop offset="0.43" stop-color="#083d7f"/><stop offset="0.49" stop-color="#084387"/><stop offset="0.56" stop-color="#084b93"/><stop offset="0.61" stop-color="#0b559f"/><stop offset="0.67" stop-color="#1562a9"/><stop offset="0.71" stop-color="#2070b4"/><stop offset="0.75" stop-color="#3383be"/><stop offset="0.79" stop-color="#4997c9"/><stop offset="0.83" stop-color="#63a8d3"/><stop offset="0.87" stop-color="#89bedc"/><stop offset="0.91" stop-color="#aacfe5"/><stop offset="0.95" stop-color="#c9ddf0"/><stop offset="0.97" stop-color="#d0e1f0"/><stop offset="1" stop-color="#d4e3f1"/></linearGradient>
<linearGradient id="c88" gradientUnits="userSpaceOnUse" x1="0" y1="280.5" x2="0" y2="498.5"><stop offset="0" stop-color="#08306b"/><stop offset="0.27" stop-color="#08306b"/><stop offset="0.35" stop-color="#08316d"/><stop offset="0.43" stop-color="#083a7a"/><stop offset="0.49" stop-color="#084082"/><stop offset="0.56" stop-color="#08488e"/><stop offset="0.61" stop-color="#09529d"/><stop offset="0.67" stop-color="#1460a8"/><stop offset="0.71" stop-color="#1e6db2"/><stop offset="0.75" stop-color="#3080bd"/><stop offset="0.79" stop-color="#4594c7"/><stop offset="0.83" stop-color="#5da5d1"/><stop offset="0.87" stop-color="#82bbdb"/><stop offset="0.91" stop-color="#a8cee4"/><stop offset="0.95" stop-color="#c9ddf0"/><stop offset="0.97" stop-color="#d0e1f0"/><stop offset="1" stop-color="#d5e4f1"/></linearGradient>
<linearGradient id="c89" gradientUnits="userSpaceOnUse" x1="0" y1="280.5" x2="0" y2="498.5"><stop offset="0" stop-color="#08306b"/><stop offset="0.35" stop-color="#08306b"/><stop offset="0.43" stop-color="#083877"/><stop offset="0.49" stop-color="#083d7f"/><stop offset="0.56" stop-color="#08478d"/><stop offset="0.61" stop-color="#08519c"/><stop offset="0.67" stop-color="#135fa7"/><stop offset="0.71" stop-color="#1f6eb3"/><stop offset="0.75" stop-color="#3282be"/><stop offset="0.79" stop-color="#4896c8"/><stop offset="0.83" stop-color="#64a9d3"/><stop offset="0.87" stop-color="#8cc0dd"/><stop offset="0.91" stop-color="#b7d4ea"/><stop offset="0.95" stop-color="#d0e1f0"/><stop offset="0.97" stop-color="#dae6f1"/><stop offset="1" stop-color="#dfe8f1"/></linearGradient>
<linearGradient id="c90" gradientUnits="userSpaceOnUse" x1="0" y1="280.5" x2="0" y2="498.5"><stop offset="0" stop-color="#08306b"/><stop offset="0.35" stop-color="#08306b"/><stop offset="0.43" stop-color="#083877"/><stop offset="0.49" stop-color="#083c7d"/><stop offset="0.56" stop-color="#08468b"/><stop offset="0.61" stop-color="#08509b"/><stop offset="0.67" stop-color="#135fa7"/><stop offset="0.71" stop-color="#1e6db2"/><stop offset="0.75" stop-color="#3181bd"/><stop offset="0.79" stop-color="#4594c7"/><stop offset="0.83" stop-color="#63a8d3"/><stop offset="0.87" stop-color="#8abfdd"/><stop offset="0.91" stop-color="#b8d5ea"/><stop offset="0.95" stop-color="#d3e2f1"/><stop offset="0.97" stop-color="#dce7f1"/><stop offset="1" stop-color="#e1e9f0"/></linearGradient>
<linearGradient id="c91" gradientUnits="userSpaceOnUse" x1="0" y1="280.5" x2="0" y2="498.5"><stop offset="0" stop-color="#08306b"/><stop offset="0.27" stop-color="#08306b"/><stop offset="0.35" stop-color="#083471"/><stop offset="0.43" stop-color="#083e81"/><stop offset="0.49" stop-color="#084488"/><stop offset="0.56" stop-color="#084e98"/><stop offset="0.61" stop-color="#0e59a2"/><stop offset="0.67" stop-color="#1c6ab0"/><stop offset="0.71" stop-color="#2a7ab9"/><stop offset="0.75" stop-color="#3f8fc5"/><stop offset="0.79" stop-color="#58a1cf"/><stop offset="0.83" stop-color="#7fb9da"/><stop offset="0.87" stop-color="#aacfe5"/><stop offset="0.91" stop-color="#d0e1f0"/><stop offset="0.95" stop-color="#e6e9ed"/><stop offset="0.97" stop-color="#eae7e6"/><stop offset="1" stop-color="#efe5e1"/></linearGradient>
<linearGradient id="c92" gradientUnits="userSpaceOnUse" x1="0" y1="280.5" x2="0" y2="498.5"><stop offset="0" stop-color="#08306b"/><stop offset="0.27" stop-color="#08306b"/><stop offset="0.35" stop-color="#083674"/><stop offset="0.43" stop-color="#084082"/><stop offset="0.49" stop-color="#08458a"/><stop offset="0.56" stop-color="#08509b"/><stop offset="0.61" stop-color="#105ba4"/><stop offset="0.67" stop-color="#1d6cb1"/><stop offset="0.71" stop-color="#2e7ebc"/><stop offset="0.75" stop-color="#4493c7"/><stop offset="0.79" stop-color="#5fa6d1"/><stop offset="0.83" stop-color="#8abfdd"/><stop offset="0.87" stop-color="#bad6eb"/><stop offset="0.91" stop-color="#d9e6f1"/><stop offset="0.95" stop-color="#eae7e6"/><stop offset="0.97" stop-color="#f5e0d6"/><stop offset="1" stop-color="#f7ddd0"/></linearGradient>
<linearGradient id="c93" gradientUnits="userSpaceOnUse" x1="0" y1="280.5" x2="0" y2="498.5"><stop offset="0" stop-color="#08306b"/><stop offset="0.27" stop-color="#08306b"/><stop offset="0.35" stop-color="#083674"/><stop offset="0.43" stop-color="#083d7f"/><stop offset="0.49" stop-color="#084387"/><stop offset="0.56" stop-color="#084e98"/><stop offset="0.61" stop-color="#0e59a2"/><stop offset="0.67" stop-color="#1c6bb0"/><stop offset="0.71" stop-color="#2e7ebc"/><stop offset="0.75" stop-color="#4292c6"/><stop offset="0.79" stop-color="#5da5d1"/><stop offset="0.83" stop-color="#8cc0dd"/><stop offset="0.87" stop-color="#c1d9ed"/><stop offset="0.91" stop-color="#dde8f1"/><stop offset="0.95" stop-color="#ede5e2"/><stop offset="0.97" stop-color="#f7ddd1"/><stop offset="1" stop-color="#f8dacc"/></linearGradient>
<linearGradient id="c94" gradientUnits="userSpaceOnUse" x1="0" y1="280.5" x2="0" y2="498.5"><stop offset="0" stop-color="#08306b"/><stop offset="0.27" stop-color="#08306b"/><stop offset="0.35" stop-color="#083573"/><stop offset="0.43" stop-color="#083b7c"/><stop offset="0.49" stop-color="#084285"/><stop offset="0.56" stop-color="#084d96"/><stop offset="0.61" stop-color="#0e58a2"/><stop offset="0.67" stop-color="#1c6ab0"/><stop offset="0.71" stop-color="#2e7ebc"/><stop offset="0.75" stop-color="#4493c7"/><stop offset="0.79" stop-color="#61a7d2"/><stop offset="0.83" stop-color="#91c3de"/><stop offset="0.87" stop-color="#c9ddf0"/><stop offset="0.91" stop-color="#e5e9ed"/><stop offset="0.95" stop-color="#f5e0d6"/><stop offset="0.97" stop-color="#f9d7c8"/><stop offset="1" stop-color="#fad0be"/></linearGradient>
<linearGradient id="c95" gradientUnits="userSpaceOnUse" x1="0" y1="280.5" x2="0" y2="498.5"><stop offset="0" stop-color="#08306b"/><stop offset="0.27" stop-color="#08306b"/><stop offset="0.35" stop-color="#083776"/><stop offset="0.43" stop-color="#083c7d"/><stop offset="0.49" stop-color="#084488"/><stop offset="0.56" stop-color="#08509b"/><stop offset="0.61" stop-color="#125da6"/><stop offset="0.67" stop-color="#2171b5"/><stop offset="0.71" stop-color="#3787c0"/><stop offset="0.75" stop-color="#529dcc"/><stop offset="0.79" stop-color="#79b5d9"/><stop offset="0.83" stop-color="#aed1e7"/><stop offset="0.87" stop-color="#dae6f1"/><stop offset="0.91" stop-color="#f5e0d6"/><stop offset="0.95" stop-color="#fcc2ab"/><stop offset="0.97" stop-color="#fcb296"/><stop offset="1" stop-color="#fcab8f"/></linearGradient>
<linearGradient id="c96" gradientUnits="userSpaceOnUse" x1="0" y1="280.5" x2="0" y2="498.5"><stop offset="0" stop-color="#08306b"/><stop offset="0.27" stop-color="#08306b"/><stop offset="0.35" stop-color="#083979"/><stop offset="0.43" stop-color="#083e81"/><stop offset="0.49" stop-color="#08468b"/><stop offset="0.56" stop-color="#08519c"/><stop offset="0.61" stop-color="#125da6"/><stop offset="0.67" stop-color="#2070b4"/><stop offset="0.71" stop-color="#3585bf"/><stop offset="0.75" stop-color="#4d99ca"/><stop offset="0.79" stop-color="#71b1d7"/><stop offset="0.83" stop-color="#aacfe5"/><stop offset="0.87" stop-color="#d8e5f1"/><stop offset="0.91" stop-color="#eee5e1"/><stop offset="0.95" stop-color="#fad0be"/><stop offset="0.97" stop-color="#fbc6b0"/><stop offset="1" stop-color="#fcc1a9"/></linearGradient>
<linearGradient id="c97" gradientUnits="userSpaceOnUse" x1="0" y1="280.5" x2="0" y2="498.5"><stop offset="0" stop-color="#08306b"/><stop offset="0.27" stop-color="#08306b"/><stop offset="0.35" stop-color="#083776"/><stop offset="0.43" stop-color="#083b7c"/><stop offset="0.49" stop-color="#084387"/><stop offset="0.56" stop-color="#084f99"/><stop offset="0.61" stop-color="#115ca5"/><stop offset="0.67" stop-color="#206fb4"/><stop offset="0.71" stop-color="#3585bf"/><stop offset="0.75" stop-color="#4d99ca"/><stop offset="0.79" stop-color="#75b4d8"/><stop offset="0.83" stop-color="#b4d3e9"/><stop offset="0.87" stop-color="#dee8f2"/><stop offset="0.91" stop-color="#f6dfd5"/><stop offset="0.95" stop-color="#fbc9b5"/><stop offset="0.97" stop-color="#fcbfa7"/><stop offset="1" stop-color="#fcb99f"/></linearGradient>
<linearGradient id="c98" gradientUnits="userSpaceOnUse" x1="0" y1="280.5" x2="0" y2="498.5"><stop offset="0" stop-color="#08306b"/><stop offset="0.27" stop-color="#08306b"/><stop offset="0.35" stop-color="#083c7d"/><stop offset="0.43" stop-color="#084488"/><stop offset="0.49" stop-color="#084b93"/><stop offset="0.56" stop-color="#0d57a1"/><stop offset="0.61" stop-color="#1865ac"/><stop offset="0.67" stop-color="#2a7ab9"/><stop offset="0.71" stop-color="#3f8fc5"/><stop offset="0.75" stop-color="#5ba3d0"/><stop offset="0.79" stop-color="#8abfdd"/><stop offset="0.83" stop-color="#c9ddf0"/><stop offset="0.87" stop-color="#e7e7e9"/><stop offset="0.91" stop-color="#facfbd"/><stop offset="0.95" stop-color="#fcb69b"/><stop offset="0.97" stop-color="#fca98c"/><stop offset="1" stop-color="#fca285"/></linearGradient>
<linearGradient id="c99" gradientUnits="userSpaceOnUse" x1="0" y1="280.5" x2="0" y2="498.5"><stop offset="0" stop-color="#08306b"/><stop offset="0.13" stop-color="#08306b"/><stop offset="0.27" stop-color="#08326e"/><stop offset="0.35" stop-color="#083e81"/><stop offset="0.43" stop-color="#08468b"/><stop offset="0.49" stop-color="#084f99"/><stop offset="0.56" stop-color="#115ca5"/><stop offset="0.61" stop-color="#1c6bb0"/><stop offset="0.67" stop-color="#3282be"/><stop offset="0.71" stop-color="#4b98ca"/><stop offset="0.75" stop-color="#69add5"/><stop offset="0.79" stop-color="#a3cce3"/><stop offset="0.83" stop-color="#d6e4f1"/><stop offset="0.87" stop-color="#f7ddd1"/><stop offset="0.91" stop-color="#fcae92"/><stop offset="0.95" stop-color="#fc8f6f"/><stop offset="0.97" stop-color="#fc8161"/><stop offset="1" stop-color="#fb7b5b"/></linearGradient>
<linearGradient id="c100" gradientUnits="userSpaceOnUse" x1="0" y1="280.5" x2="0" y2="498.5"><stop offset="0" stop-color="#08306b"/><stop offset="0.13" stop-color="#08306b"/><stop offset="0.27" stop-color="#083471"/><stop offset="0.35" stop-color="#084488"/><stop offset="0.43" stop-color="#084c95"/><stop offset="0.49" stop-color="#0b559f"/><stop offset="0.56" stop-color="#1663aa"/><stop offset="0.61" stop-color="#2373b6"/><stop offset="0.67" stop-color="#3c8cc3"/><stop offset="0.71" stop-color="#58a1cf"/><stop offset="0.75" stop-color="#7db8da"/><stop offset="0.79" stop-color="#b7d4ea"/><stop offset="0.83" stop-color="#e5e9ee"/><stop offset="0.87" stop-color="#fbc7b2"/><stop offset="0.91" stop-color="#fc9272"/><stop offset="0.95" stop-color="#fb7252"/><stop offset="0.97" stop-color="#f96346"/><stop offset="1" stop-color="#f75c41"/></linearGradient>
<linearGradient id="c101" gradientUnits="userSpaceOnUse" x1="0" y1="280.5" x2="0" y2="498.5"><stop offset="0" stop-color="#08306b"/><stop offset="0.13" stop-color="#08306b"/><stop offset="0.27" stop-color="#08326e"/><stop offset="0.35" stop-color="#083e81"/><stop offset="0.43" stop-color="#08468b"/><stop offset="0.49" stop-color="#084f99"/><stop offset="0.56" stop-color="#115ca5"/><stop offset="0.61" stop-color="#1d6cb1"/><stop offset="0.67" stop-color="#3484bf"/><stop offset="0.71" stop-color="#4e9acb"/><stop offset="0.75" stop-color="#71b1d7"/><stop offset="0.79" stop-color="#aed1e7"/><stop offset="0.83" stop-color="#e2e9f0"/><stop offset="0.87" stop-color="#fad0be"/><stop offset="0.91" stop-color="#fca588"/><stop offset="0.95" stop-color="#fc8565"/><stop offset="0.97" stop-color="#fb7a5a"/><stop offset="1" stop-color="#fb7353"/></linearGradient>
<linearGradient id="c102" gradientUnits="userSpaceOnUse" x1="0" y1="280.5" x2="0" y2="498.5"><stop offset="0" stop-color="#08306b"/><stop offset="0.13" stop-color="#08306b"/><stop offset="0.27" stop-color="#08316d"/><stop offset="0.35" stop-color="#083b7c"/><stop offset="0.43" stop-color="#084184"/><stop offset="0.49" stop-color="#084a91"/><stop offset="0.56" stop-color="#0d57a1"/><stop offset="0.61" stop-color="#1967ad"/><stop offset="0.67" stop-color="#3080bd"/><stop offset="0.71" stop-color="#4695c8"/><stop offset="0.75" stop-color="#6aaed6"/><stop offset="0.79" stop-color="#abd0e6"/><stop offset="0.83" stop-color="#e1e9f0"/><stop offset="0.87" stop-color="#f9d2c1"/><stop offset="0.91" stop-color="#fcad90"/><stop offset="0.95" stop-color="#fc8f6f"/><stop offset="0.97" stop-color="#fc8464"/><stop offset="1" stop-color="#fc7f5f"/></linearGradient>
<linearGradient id="c103" gradientUnits="userSpaceOnUse" x1="0" y1="280.5" x2="0" y2="498.5"><stop offset="0" stop-color="#08306b"/><stop offset="0.13" stop-color="#08306b"/><stop offset="0.27" stop-color="#08326e"/><stop offset="0.35" stop-color="#083b7c"/><stop offset="0.43" stop-color="#084184"/><stop offset="0.49" stop-color="#084a91"/><stop offset="0.56" stop-color="#0d57a1"/><stop offset="0.61" stop-color="#1a68ae"/><stop offset="0.67" stop-color="#3282be"/><stop offset="0.71" stop-color="#4a98c9"/><stop offset="0.75" stop-color="#71b1d7"/><stop offset="0.79" stop-color="#b8d5ea"/><stop offset="0.83" stop-color="#e7e9eb"/><stop offset="0.87" stop-color="#fbc7b2"/><stop offset="0.91" stop-color="#fca082"/><stop offset="0.95" stop-color="#fc8262"/><stop offset="0.97" stop-color="#fb7757"/><stop offset="1" stop-color="#fb7252"/></linearGradient>
<linearGradient id="c104" gradientUnits="userSpaceOnUse" x1="0" y1="280.5" x2="0" y2="498.5"><stop offset="0" stop-color="#08306b"/><stop offset="0.27" stop-color="#08306b"/><stop offset="0.35" stop-color="#083674"/><stop offset="0.43" stop-color="#083979"/><stop offset="0.49" stop-color="#08458a"/><stop offset="0.56" stop-color="#09529d"/><stop offset="0.61" stop-color="#1865ac"/><stop offset="0.67" stop-color="#3080bd"/><stop offset="0.71" stop-color="#4a98c9"/><stop offset="0.75" stop-color="#75b4d8"/><stop offset="0.79" stop-color="#c3daee"/><stop offset="0.83" stop-color="#ebe6e5"/><stop offset="0.87" stop-color="#fcb89e"/><stop offset="0.91" stop-color="#fc8a6a"/><stop offset="0.95" stop-color="#fb6d4d"/><stop offset="0.97" stop-color="#f85f43"/><stop offset="1" stop-color="#f7593f"/></linearGradient>
<linearGradient id="c105" gradientUnits="userSpaceOnUse" x1="0" y1="280.5" x2="0" y2="498.5"><stop offset="0" stop-color="#08306b"/><stop offset="0.13" stop-color="#08306b"/><stop offset="0.27" stop-color="#083471"/><stop offset="0.35" stop-color="#083c7d"/><stop offset="0.43" stop-color="#084285"/><stop offset="0.49" stop-color="#084c95"/><stop offset="0.56" stop-color="#0e59a2"/><stop offset="0.61" stop-color="#1c6ab0"/><stop offset="0.67" stop-color="#3585bf"/><stop offset="0.71" stop-color="#4e9acb"/><stop offset="0.75" stop-color="#7ab6d9"/><stop offset="0.79" stop-color="#c7dcef"/><stop offset="0.83" stop-color="#ece6e4"/><stop offset="0.87" stop-color="#fcbda4"/><stop offset="0.91" stop-color="#fc9272"/><stop offset="0.95" stop-color="#fb7656"/><stop offset="0.97" stop-color="#fb694a"/><stop offset="1" stop-color="#f96245"/></linearGradient>
<linearGradient id="c106" gradientUnits="userSpaceOnUse" x1="0" y1="280.5" x2="0" y2="498.5"><stop offset="0" stop-color="#08306b"/><stop offset="0.13" stop-color="#08306b"/><stop offset="0.27" stop-color="#083573"/><stop offset="0.35" stop-color="#083e81"/><stop offset="0.43" stop-color="#08458a"/><stop offset="0.49" stop-color="#08509b"/><stop offset="0.56" stop-color="#125ea6"/><stop offset="0.61" stop-color="#2171b5"/><stop offset="0.67" stop-color="#3e8ec4"/><stop offset="0.71" stop-color="#5da5d1"/><stop offset="0.75" stop-color="#94c4df"/><stop offset="0.79" stop-color="#d5e4f1"/><stop offset="0.83" stop-color="#f9d3c2"/><stop offset="0.87" stop-color="#fc9474"/><stop offset="0.91" stop-color="#fa6547"/><stop offset="0.95" stop-color="#f0402f"/><stop offset="0.97" stop-color="#e63328"/><stop offset="1" stop-color="#e02c26"/></linearGradient>
<linearGradient id="c107" gradientUnits="userSpaceOnUse" x1="0" y1="280.5" x2="0" y2="498.5"><stop offset="0" stop-color="#08306b"/><stop offset="0.13" stop-color="#08306b"/><stop offset="0.27" stop-color="#083776"/><stop offset="0.35" stop-color="#084285"/><stop offset="0.43" stop-color="#084990"/><stop offset="0.49" stop-color="#0a549e"/><stop offset="0.56" stop-color="#1562a9"/><stop offset="0.61" stop-color="#2676b8"/><stop offset="0.67" stop-color="#4493c7"/><stop offset="0.71" stop-color="#64a9d3"/><stop offset="0.75" stop-color="#9dcae1"/><stop offset="0.79" stop-color="#dce7f2"/><stop offset="0.83" stop-color="#fbc7b2"/><stop offset="0.87" stop-color="#fc8767"/><stop offset="0.91" stop-color="#f6553c"/><stop offset="0.95" stop-color="#e43027"/><stop offset="0.97" stop-color="#d92523"/><stop offset="1" stop-color="#d21f20"/></linearGradient>
<linearGradient id="c108" gradientUnits="userSpaceOnUse" x1="0" y1="280.5" x2="0" y2="498.5"><stop offset="0" stop-color="#08306b"/><stop offset="0.13" stop-color="#08306b"/><stop offset="0.27" stop-color="#083776"/><stop offset="0.35" stop-color="#084082"/><stop offset="0.43" stop-color="#08478d"/><stop offset="0.49" stop-color="#09529d"/><stop offset="0.56" stop-color="#1460a8"/><stop offset="0.61" stop-color="#2373b6"/><stop offset="0.67" stop-color="#4090c5"/><stop offset="0.71" stop-color="#5da5d1"/><stop offset="0.75" stop-color="#97c6df"/><stop offset="0.79" stop-color="#dae6f1"/><stop offset="0.83" stop-color="#facbb7"/><stop offset="0.87" stop-color="#fc9272"/><stop offset="0.91" stop-color="#f96245"/><stop offset="0.95" stop-color="#ef3c2c"/><stop offset="0.97" stop-color="#e32f27"/><stop offset="1" stop-color="#dc2924"/></linearGradient>
<linearGradient id="c109" gradientUnits="userSpaceOnUse" x1="0" y1="280.5" x2="0" y2="498.5"><stop offset="0" stop-color="#08306b"/><stop offset="0.13" stop-color="#08306b"/><stop offset="0.27" stop-color="#083877"/><stop offset="0.35" stop-color="#084184"/><stop offset="0.43" stop-color="#08488e"/><stop offset="0.49" stop-color="#0a539e"/><stop offset="0.56" stop-color="#1562a9"/><stop offset="0.61" stop-color="#2575b7"/><stop offset="0.67" stop-color="#4493c7"/><stop offset="0.71" stop-color="#63a8d3"/><stop offset="0.75" stop-color="#a0cbe2"/><stop offset="0.79" stop-color="#e1e9f0"/><stop offset="0.83" stop-color="#fcbea5"/><stop offset="0.87" stop-color="#fc8262"/><stop offset="0.91" stop-color="#f34c37"/><stop offset="0.95" stop-color="#e02c26"/><stop offset="0.97" stop-color="#d21f20"/><stop offset="1" stop-color="#ca181d"/></linearGradient>
<linearGradient id="c110" gradientUnits="userSpaceOnUse" x1="0" y1="280.5" x2="0" y2="498.5"><stop offset="0" stop-color="#08306b"/><stop offset="0.13" stop-color="#08306b"/><stop offset="0.27" stop-color="#083877"/><stop offset="0.35" stop-color="#084082"/><stop offset="0.43" stop-color="#08478d"/><stop offset="0.49" stop-color="#09529d"/><stop offset="0.56" stop-color="#1561a9"/><stop offset="0.61" stop-color="#2474b7"/><stop offset="0.67" stop-color="#4493c7"/><stop offset="0.71" stop-color="#63a8d3"/><stop offset="0.75" stop-color="#a4cce3"/><stop offset="0.79" stop-color="#e5e9ee"/><stop offset="0.83" stop-color="#fcb89e"/><stop offset="0.87" stop-color="#fb7c5c"/><stop offset="0.91" stop-color="#f03f2e"/><stop offset="0.95" stop-color="#d92523"/><stop offset="0.97" stop-color="#ca181d"/><stop offset="1" stop-color="#c2161b"/></linearGradient>
<linearGradient id="c111" gradientUnits="userSpaceOnUse" x1="0" y1="280.5" x2="0" y2="498.5"><stop offset="0" stop-color="#08306b"/><stop offset="0.13" stop-color="#08306b"/><stop offset="0.27" stop-color="#083979"/><stop offset="0.35" stop-color="#084285"/><stop offset="0.43" stop-color="#084990"/><stop offset="0.49" stop-color="#0b559f"/><stop offset="0.56" stop-color="#1764ab"/><stop offset="0.61" stop-color="#2979b9"/><stop offset="0.67" stop-color="#4a98c9"/><stop offset="0.71" stop-color="#6aaed6"/><stop offset="0.75" stop-color="#afd1e7"/><stop offset="0.79" stop-color="#e7e7e9"/><stop offset="0.83" stop-color="#fca98c"/><stop offset="0.87" stop-color="#fb694a"/><stop offset="0.91" stop-color="#e02c26"/><stop offset="0.95" stop-color="#c5171c"/><stop offset="0.97" stop-color="#b51318"/><stop offset="1" stop-color="#aa1016"/></linearGradient>
<linearGradient id="c112" gradientUnits="userSpaceOnUse" x1="0" y1="280.5" x2="0" y2="498.5"><stop offset="0" stop-color="#08306b"/><stop offset="0.13" stop-color="#08306b"/><stop offset="0.27" stop-color="#083979"/><stop offset="0.35" stop-color="#084285"/><stop offset="0.43" stop-color="#084a91"/><stop offset="0.49" stop-color="#0a549e"/><stop offset="0.56" stop-color="#1663aa"/><stop offset="0.61" stop-color="#2575b7"/><stop offset="0.67" stop-color="#4493c7"/><stop offset="0.71" stop-color="#61a7d2"/><stop offset="0.75" stop-color="#a4cce3"/><stop offset="0.79" stop-color="#e4e9ef"/><stop offset="0.83" stop-color="#fcc1a9"/><stop offset="0.87" stop-color="#fc8666"/><stop offset="0.91" stop-color="#f44f39"/><stop offset="0.95" stop-color="#e63328"/><stop offset="0.97" stop-color="#d52221"/><stop offset="1" stop-color="#c9181d"/></linearGradient>
</defs>
<rect x="383" y="281.0" width="2.05" height="217.0" fill="url(#c0)"/>
<rect x="385" y="281.0" width="2.05" height="217.0" fill="url(#c1)"/>
<rect x="387" y="281.0" width="2.05" height="217.0" fill="url(#c2)"/>
<rect x="389" y="281.0" width="2.05" height="217.0" fill="url(#c3)"/>
<rect x="391" y="281.0" width="2.05" height="217.0" fill="url(#c4)"/>
<rect x="393" y="281.0" width="2.05" height="217.0" fill="url(#c5)"/>
<rect x="395" y="281.0" width="2.05" height="217.0" fill="url(#c6)"/>
<rect x="397" y="281.0" width="2.05" height="217.0" fill="url(#c7)"/>
<rect x="399" y="281.0" width="2.05" height="217.0" fill="url(#c8)"/>
<rect x="401" y="281.0" width="2.05" height="217.0" fill="url(#c9)"/>
<rect x="403" y="281.0" width="2.05" height="217.0" fill="url(#c10)"/>
<rect x="405" y="281.0" width="2.05" height="217.0" fill="url(#c11)"/>
<rect x="407" y="281.0" width="2.05" height="217.0" fill="url(#c12)"/>
<rect x="409" y="281.0" width="2.05" height="217.0" fill="url(#c13)"/>
<rect x="411" y="281.0" width="2.05" height="217.0" fill="url(#c14)"/>
<rect x="413" y="281.0" width="2.05" height="217.0" fill="url(#c15)"/>
<rect x="415" y="281.0" width="2.05" height="217.0" fill="url(#c16)"/>
<rect x="417" y="281.0" width="2.05" height="217.0" fill="url(#c17)"/>
<rect x="419" y="281.0" width="2.05" height="217.0" fill="url(#c18)"/>
<rect x="421" y="281.0" width="2.05" height="217.0" fill="url(#c19)"/>
<rect x="423" y="281.0" width="2.05" height="217.0" fill="url(#c20)"/>
<rect x="425" y="281.0" width="2.05" height="217.0" fill="url(#c21)"/>
<rect x="427" y="281.0" width="2.05" height="217.0" fill="url(#c22)"/>
<rect x="429" y="281.0" width="2.05" height="217.0" fill="url(#c23)"/>
<rect x="431" y="281.0" width="2.05" height="217.0" fill="url(#c24)"/>
<rect x="433" y="281.0" width="2.05" height="217.0" fill="url(#c25)"/>
<rect x="435" y="281.0" width="2.05" height="217.0" fill="url(#c26)"/>
<rect x="437" y="281.0" width="2.05" height="217.0" fill="url(#c27)"/>
<rect x="439" y="281.0" width="2.05" height="217.0" fill="url(#c28)"/>
<rect x="441" y="281.0" width="2.05" height="217.0" fill="url(#c29)"/>
<rect x="443" y="281.0" width="2.05" height="217.0" fill="url(#c30)"/>
<rect x="445" y="281.0" width="2.05" height="217.0" fill="url(#c31)"/>
<rect x="447" y="281.0" width="2.05" height="217.0" fill="url(#c32)"/>
<rect x="449" y="281.0" width="2.05" height="217.0" fill="url(#c33)"/>
<rect x="451" y="281.0" width="2.05" height="217.0" fill="url(#c34)"/>
<rect x="453" y="281.0" width="2.05" height="217.0" fill="url(#c35)"/>
<rect x="455" y="281.0" width="2.05" height="217.0" fill="url(#c36)"/>
<rect x="457" y="281.0" width="2.05" height="217.0" fill="url(#c37)"/>
<rect x="459" y="281.0" width="2.05" height="217.0" fill="url(#c38)"/>
<rect x="461" y="281.0" width="2.05" height="217.0" fill="url(#c39)"/>
<rect x="463" y="281.0" width="2.05" height="217.0" fill="url(#c40)"/>
<rect x="465" y="281.0" width="2.05" height="217.0" fill="url(#c41)"/>
<rect x="467" y="281.0" width="2.05" height="217.0" fill="url(#c42)"/>
<rect x="469" y="281.0" width="2.05" height="217.0" fill="url(#c43)"/>
<rect x="471" y="281.0" width="2.05" height="217.0" fill="url(#c44)"/>
<rect x="473" y="281.0" width="2.05" height="217.0" fill="url(#c45)"/>
<rect x="475" y="281.0" width="2.05" height="217.0" fill="url(#c46)"/>
<rect x="477" y="281.0" width="2.05" height="217.0" fill="url(#c47)"/>
<rect x="479" y="281.0" width="2.05" height="217.0" fill="url(#c48)"/>
<rect x="481" y="281.0" width="2.05" height="217.0" fill="url(#c49)"/>
<rect x="483" y="281.0" width="2.05" height="217.0" fill="url(#c50)"/>
<rect x="485" y="281.0" width="2.05" height="217.0" fill="url(#c51)"/>
<rect x="487" y="281.0" width="2.05" height="217.0" fill="url(#c52)"/>
<rect x="489" y="281.0" width="2.05" height="217.0" fill="url(#c53)"/>
<rect x="491" y="281.0" width="2.05" height="217.0" fill="url(#c54)"/>
<rect x="493" y="281.0" width="2.05" height="217.0" fill="url(#c55)"/>
<rect x="495" y="281.0" width="2.05" height="217.0" fill="url(#c56)"/>
<rect x="497" y="281.0" width="2.05" height="217.0" fill="url(#c57)"/>
<rect x="499" y="281.0" width="2.05" height="217.0" fill="url(#c58)"/>
<rect x="501" y="281.0" width="2.05" height="217.0" fill="url(#c59)"/>
<rect x="503" y="281.0" width="2.05" height="217.0" fill="url(#c60)"/>
<rect x="505" y="281.0" width="2.05" height="217.0" fill="url(#c61)"/>
<rect x="507" y="281.0" width="2.05" height="217.0" fill="url(#c62)"/>
<rect x="509" y="281.0" width="2.05" height="217.0" fill="url(#c63)"/>
<rect x="511" y="281.0" width="2.05" height="217.0" fill="url(#c64)"/>
<rect x="513" y="281.0" width="2.05" height="217.0" fill="url(#c65)"/>
<rect x="515" y="281.0" width="2.05" height="217.0" fill="url(#c66)"/>
<rect x="517" y="281.0" width="2.05" height="217.0" fill="url(#c67)"/>
<rect x="519" y="281.0" width="2.05" height="217.0" fill="url(#c68)"/>
<rect x="521" y="281.0" width="2.05" height="217.0" fill="url(#c69)"/>
<rect x="523" y="281.0" width="2.05" height="217.0" fill="url(#c70)"/>
<rect x="525" y="281.0" width="2.05" height="217.0" fill="url(#c71)"/>
<rect x="527" y="281.0" width="2.05" height="217.0" fill="url(#c72)"/>
<rect x="529" y="281.0" width="2.05" height="217.0" fill="url(#c73)"/>
<rect x="531" y="281.0" width="2.05" height="217.0" fill="url(#c74)"/>
<rect x="533" y="281.0" width="2.05" height="217.0" fill="url(#c75)"/>
<rect x="535" y="281.0" width="2.05" height="217.0" fill="url(#c76)"/>
<rect x="537" y="281.0" width="2.05" height="217.0" fill="url(#c77)"/>
<rect x="539" y="281.0" width="2.05" height="217.0" fill="url(#c78)"/>
<rect x="541" y="281.0" width="2.05" height="217.0" fill="url(#c79)"/>
<rect x="543" y="281.0" width="2.05" height="217.0" fill="url(#c80)"/>
<rect x="545" y="281.0" width="2.05" height="217.0" fill="url(#c81)"/>
<rect x="547" y="281.0" width="2.05" height="217.0" fill="url(#c82)"/>
<rect x="549" y="281.0" width="2.05" height="217.0" fill="url(#c83)"/>
<rect x="551" y="281.0" width="2.05" height="217.0" fill="url(#c84)"/>
<rect x="553" y="281.0" width="2.05" height="217.0" fill="url(#c85)"/>
<rect x="555" y="281.0" width="2.05" height="217.0" fill="url(#c86)"/>
<rect x="557" y="281.0" width="2.05" height="217.0" fill="url(#c87)"/>
<rect x="559" y="281.0" width="2.05" height="217.0" fill="url(#c88)"/>
<rect x="561" y="281.0" width="2.05" height="217.0" fill="url(#c89)"/>
<rect x="563" y="281.0" width="2.05" height="217.0" fill="url(#c90)"/>
<rect x="565" y="281.0" width="2.05" height="217.0" fill="url(#c91)"/>
<rect x="567" y="281.0" width="2.05" height="217.0" fill="url(#c92)"/>
<rect x="569" y="281.0" width="2.05" height="217.0" fill="url(#c93)"/>
<rect x="571" y="281.0" width="2.05" height="217.0" fill="url(#c94)"/>
<rect x="573" y="281.0" width="2.05" height="217.0" fill="url(#c95)"/>
<rect x="575" y="281.0" width="2.05" height="217.0" fill="url(#c96)"/>
<rect x="577" y="281.0" width="2.05" height="217.0" fill="url(#c97)"/>
<rect x="579" y="281.0" width="2.05" height="217.0" fill="url(#c98)"/>
<rect x="581" y="281.0" width="2.05" height="217.0" fill="url(#c99)"/>
<rect x="583" y="281.0" width="2.05" height="217.0" fill="url(#c100)"/>
<rect x="585" y="281.0" width="2.05" height="217.0" fill="url(#c101)"/>
<rect x="587" y="281.0" width="2.05" height="217.0" fill="url(#c102)"/>
<rect x="589" y="281.0" width="2.05" height="217.0" fill="url(#c103)"/>
<rect x="591" y="281.0" width="2.05" height="217.0" fill="url(#c104)"/>
<rect x="593" y="281.0" width="2.05" height="217.0" fill="url(#c105)"/>
<rect x="595" y="281.0" width="2.05" height="217.0" fill="url(#c106)"/>
<rect x="597" y="281.0" width="2.05" height="217.0" fill="url(#c107)"/>
<rect x="599" y="281.0" width="2.05" height="217.0" fill="url(#c108)"/>
<rect x="601" y="281.0" width="2.05" height="217.0" fill="url(#c109)"/>
<rect x="603" y="281.0" width="2.05" height="217.0" fill="url(#c110)"/>
<rect x="605" y="281.0" width="2.05" height="217.0" fill="url(#c111)"/>
<rect x="607" y="281.0" width="2" height="217.0" fill="url(#c112)"/>
<rect x="382.5" y="280.5" width="227.0" height="218.0" fill="none" stroke="#000" stroke-width="1"/>
<line x1="420.33" y1="498.5" x2="420.33" y2="495" stroke="#000" stroke-width="1" />
<line x1="420.33" y1="280.5" x2="420.33" y2="284" stroke="#000" stroke-width="1" />
<line x1="458.17" y1="498.5" x2="458.17" y2="495" stroke="#000" stroke-width="1" />
<line x1="458.17" y1="280.5" x2="458.17" y2="284" stroke="#000" stroke-width="1" />
<line x1="496" y1="498.5" x2="496" y2="495" stroke="#000" stroke-width="1" />
<line x1="496" y1="280.5" x2="496" y2="284" stroke="#000" stroke-width="1" />
<line x1="533.83" y1="498.5" x2="533.83" y2="495" stroke="#000" stroke-width="1" />
<line x1="533.83" y1="280.5" x2="533.83" y2="284" stroke="#000" stroke-width="1" />
<line x1="571.67" y1="498.5" x2="571.67" y2="495" stroke="#000" stroke-width="1" />
<line x1="571.67" y1="280.5" x2="571.67" y2="284" stroke="#000" stroke-width="1" />
<line x1="401.42" y1="498.5" x2="401.42" y2="496.5" stroke="#000" stroke-width="1" />
<line x1="401.42" y1="280.5" x2="401.42" y2="282.5" stroke="#000" stroke-width="1" />
<line x1="439.25" y1="498.5" x2="439.25" y2="496.5" stroke="#000" stroke-width="1" />
<line x1="439.25" y1="280.5" x2="439.25" y2="282.5" stroke="#000" stroke-width="1" />
<line x1="477.08" y1="498.5" x2="477.08" y2="496.5" stroke="#000" stroke-width="1" />
<line x1="477.08" y1="280.5" x2="477.08" y2="282.5" stroke="#000" stroke-width="1" />
<line x1="514.92" y1="498.5" x2="514.92" y2="496.5" stroke="#000" stroke-width="1" />
<line x1="514.92" y1="280.5" x2="514.92" y2="282.5" stroke="#000" stroke-width="1" />
<line x1="552.75" y1="498.5" x2="552.75" y2="496.5" stroke="#000" stroke-width="1" />
<line x1="552.75" y1="280.5" x2="552.75" y2="282.5" stroke="#000" stroke-width="1" />
<line x1="590.58" y1="498.5" x2="590.58" y2="496.5" stroke="#000" stroke-width="1" />
<line x1="590.58" y1="280.5" x2="590.58" y2="282.5" stroke="#000" stroke-width="1" />
<line x1="382.5" y1="454.9" x2="386" y2="454.9" stroke="#000" stroke-width="1" />
<line x1="609.5" y1="454.9" x2="606" y2="454.9" stroke="#000" stroke-width="1" />
<line x1="382.5" y1="396.77" x2="386" y2="396.77" stroke="#000" stroke-width="1" />
<line x1="609.5" y1="396.77" x2="606" y2="396.77" stroke="#000" stroke-width="1" />
<line x1="382.5" y1="338.63" x2="386" y2="338.63" stroke="#000" stroke-width="1" />
<line x1="609.5" y1="338.63" x2="606" y2="338.63" stroke="#000" stroke-width="1" />
<line x1="382.5" y1="483.97" x2="384.5" y2="483.97" stroke="#000" stroke-width="1" />
<line x1="609.5" y1="483.97" x2="607.5" y2="483.97" stroke="#000" stroke-width="1" />
<line x1="382.5" y1="425.83" x2="384.5" y2="425.83" stroke="#000" stroke-width="1" />
<line x1="609.5" y1="425.83" x2="607.5" y2="425.83" stroke="#000" stroke-width="1" />
<line x1="382.5" y1="367.7" x2="384.5" y2="367.7" stroke="#000" stroke-width="1" />
<line x1="609.5" y1="367.7" x2="607.5" y2="367.7" stroke="#000" stroke-width="1" />
<line x1="382.5" y1="309.57" x2="384.5" y2="309.57" stroke="#000" stroke-width="1" />
<line x1="609.5" y1="309.57" x2="607.5" y2="309.57" stroke="#000" stroke-width="1" />
<text transform="translate(382,513.9) scale(1,1.08)" font-size="13" text-anchor="middle" >−9</text>
<text transform="translate(419.83,513.9) scale(1,1.08)" font-size="13" text-anchor="middle" >−6</text>
<text transform="translate(457.67,513.9) scale(1,1.08)" font-size="13" text-anchor="middle" >−3</text>
<text transform="translate(496,513.9) scale(1,1.08)" font-size="13" text-anchor="middle" >0</text>
<text transform="translate(533.83,513.9) scale(1,1.08)" font-size="13" text-anchor="middle" >3</text>
<text transform="translate(571.67,513.9) scale(1,1.08)" font-size="13" text-anchor="middle" >6</text>
<text transform="translate(609.5,513.9) scale(1,1.08)" font-size="13" text-anchor="middle" >9</text>
<text transform="translate(377.6,459.5) scale(1,1.08)" font-size="13" text-anchor="end" >20</text>
<text transform="translate(377.6,401.37) scale(1,1.08)" font-size="13" text-anchor="end" >40</text>
<text transform="translate(377.6,343.23) scale(1,1.08)" font-size="13" text-anchor="end" >60</text>
<text transform="translate(377.6,285.1) scale(1,1.08)" font-size="13" text-anchor="end" >80</text>
<text transform="translate(339.2,292.5) scale(1,1.08)" font-size="12" text-anchor="start" font-weight="bold">d</text>
<text transform="translate(496,539.4) scale(1,1.12)" font-size="15.5" text-anchor="middle" >μ<tspan font-size="11" dy="3.5">0</tspan><tspan dy="-3.5" font-style="italic">H</tspan> (T)</text>
<text transform="translate(355.9,388.4) rotate(-90) scale(1,1.12)" font-size="15.5" text-anchor="middle"><tspan font-style="italic">T</tspan> (K)</text>
<rect x="622.5" y="280.5" width="17.0" height="218" fill="#67000d"/>
<rect x="622.5" y="284.13" width="17.0" height="214.37" fill="#67000d"/>
<rect x="622.5" y="287.77" width="17.0" height="210.73" fill="#75030f"/>
<rect x="622.5" y="291.4" width="17.0" height="207.1" fill="#860811"/>
<rect x="622.5" y="295.03" width="17.0" height="203.47" fill="#980c13"/>
<rect x="622.5" y="298.67" width="17.0" height="199.83" fill="#a81016"/>
<rect x="622.5" y="302.3" width="17.0" height="196.2" fill="#b21218"/>
<rect x="622.5" y="305.93" width="17.0" height="192.57" fill="#bd151a"/>
<rect x="622.5" y="309.57" width="17.0" height="188.93" fill="#c8171c"/>
<rect x="622.5" y="313.2" width="17.0" height="185.3" fill="#d21f20"/>
<rect x="622.5" y="316.83" width="17.0" height="181.67" fill="#dc2924"/>
<rect x="622.5" y="320.47" width="17.0" height="178.03" fill="#e63328"/>
<rect x="622.5" y="324.1" width="17.0" height="174.4" fill="#f03d2d"/>
<rect x="622.5" y="327.73" width="17.0" height="170.77" fill="#f34a36"/>
<rect x="622.5" y="331.37" width="17.0" height="167.13" fill="#f6583e"/>
<rect x="622.5" y="335" width="17.0" height="163.5" fill="#fa6547"/>
<rect x="622.5" y="338.63" width="17.0" height="159.87" fill="#fb7151"/>
<rect x="622.5" y="342.27" width="17.0" height="156.23" fill="#fb7c5c"/>
<rect x="622.5" y="345.9" width="17.0" height="152.6" fill="#fc8767"/>
<rect x="622.5" y="349.53" width="17.0" height="148.97" fill="#fc9474"/>
<rect x="622.5" y="353.17" width="17.0" height="145.33" fill="#fca082"/>
<rect x="622.5" y="356.8" width="17.0" height="141.7" fill="#fcab8f"/>
<rect x="622.5" y="360.43" width="17.0" height="138.07" fill="#fcb79c"/>
<rect x="622.5" y="364.07" width="17.0" height="134.43" fill="#fcc1a9"/>
<rect x="622.5" y="367.7" width="17.0" height="130.8" fill="#fbcab6"/>
<rect x="622.5" y="371.33" width="17.0" height="127.17" fill="#f9d3c2"/>
<rect x="622.5" y="374.97" width="17.0" height="123.53" fill="#f8dbce"/>
<rect x="622.5" y="378.6" width="17.0" height="119.9" fill="#f6dfd5"/>
<rect x="622.5" y="382.23" width="17.0" height="116.27" fill="#efe5e0"/>
<rect x="622.5" y="385.87" width="17.0" height="112.63" fill="#e9e7e7"/>
<rect x="622.5" y="389.5" width="17.0" height="109" fill="#e7e8ea"/>
<rect x="622.5" y="393.13" width="17.0" height="105.37" fill="#e5e9ee"/>
<rect x="622.5" y="396.77" width="17.0" height="101.73" fill="#dfe8f1"/>
<rect x="622.5" y="400.4" width="17.0" height="98.1" fill="#d9e6f1"/>
<rect x="622.5" y="404.03" width="17.0" height="94.47" fill="#d4e3f1"/>
<rect x="622.5" y="407.67" width="17.0" height="90.83" fill="#cfe0f0"/>
<rect x="622.5" y="411.3" width="17.0" height="87.2" fill="#caddf0"/>
<rect x="622.5" y="414.93" width="17.0" height="83.57" fill="#c2d9ee"/>
<rect x="622.5" y="418.57" width="17.0" height="79.93" fill="#b7d4ea"/>
<rect x="622.5" y="422.2" width="17.0" height="76.3" fill="#abd0e6"/>
<rect x="622.5" y="425.83" width="17.0" height="72.67" fill="#a0cbe2"/>
<rect x="622.5" y="429.47" width="17.0" height="69.03" fill="#91c3de"/>
<rect x="622.5" y="433.1" width="17.0" height="65.4" fill="#82bbdb"/>
<rect x="622.5" y="436.73" width="17.0" height="61.77" fill="#74b3d8"/>
<rect x="622.5" y="440.37" width="17.0" height="58.13" fill="#66abd4"/>
<rect x="622.5" y="444" width="17.0" height="54.5" fill="#5ba3d0"/>
<rect x="622.5" y="447.63" width="17.0" height="50.87" fill="#4f9bcb"/>
<rect x="622.5" y="451.27" width="17.0" height="47.23" fill="#4493c7"/>
<rect x="622.5" y="454.9" width="17.0" height="43.6" fill="#3a8ac2"/>
<rect x="622.5" y="458.53" width="17.0" height="39.97" fill="#3181bd"/>
<rect x="622.5" y="462.17" width="17.0" height="36.33" fill="#2777b8"/>
<rect x="622.5" y="465.8" width="17.0" height="32.7" fill="#1f6eb3"/>
<rect x="622.5" y="469.43" width="17.0" height="29.07" fill="#1865ac"/>
<rect x="622.5" y="473.07" width="17.0" height="25.43" fill="#115ca5"/>
<rect x="622.5" y="476.7" width="17.0" height="21.8" fill="#0a539e"/>
<rect x="622.5" y="480.33" width="17.0" height="18.17" fill="#084a91"/>
<rect x="622.5" y="483.97" width="17.0" height="14.53" fill="#084184"/>
<rect x="622.5" y="487.6" width="17.0" height="10.9" fill="#083776"/>
<rect x="622.5" y="491.23" width="17.0" height="7.27" fill="#08306b"/>
<rect x="622.5" y="494.87" width="17.0" height="3.63" fill="#08306b"/>
<line x1="622.5" y1="280.5" x2="639.5" y2="280.5" stroke="#333" stroke-width="1" />
<line x1="622.5" y1="498.5" x2="639.5" y2="498.5" stroke="#333" stroke-width="1" />
<line x1="622.5" y1="280" x2="622.5" y2="499" stroke="#8a8a8a" stroke-width="1" />
<line x1="639.5" y1="280" x2="639.5" y2="499" stroke="#3a3a3a" stroke-width="1" />
<line x1="639.5" y1="494.1" x2="643.8" y2="494.1" stroke="#333" stroke-width="1" />
<text transform="translate(648.5,498.7) scale(1,1.08)" font-size="13" text-anchor="start" >0</text>
<line x1="639.5" y1="440.2" x2="643.8" y2="440.2" stroke="#333" stroke-width="1" />
<text transform="translate(648.5,444.8) scale(1,1.08)" font-size="13" text-anchor="start" >10</text>
<line x1="639.5" y1="386.3" x2="643.8" y2="386.3" stroke="#333" stroke-width="1" />
<text transform="translate(648.5,390.9) scale(1,1.08)" font-size="13" text-anchor="start" >20</text>
<line x1="639.5" y1="332.4" x2="643.8" y2="332.4" stroke="#333" stroke-width="1" />
<text transform="translate(648.5,337) scale(1,1.08)" font-size="13" text-anchor="start" >30</text>
<text transform="translate(631.2,270.8) scale(1,1.12)" font-size="15.5" text-anchor="middle" >MR (%)</text>
</svg></body></html>
